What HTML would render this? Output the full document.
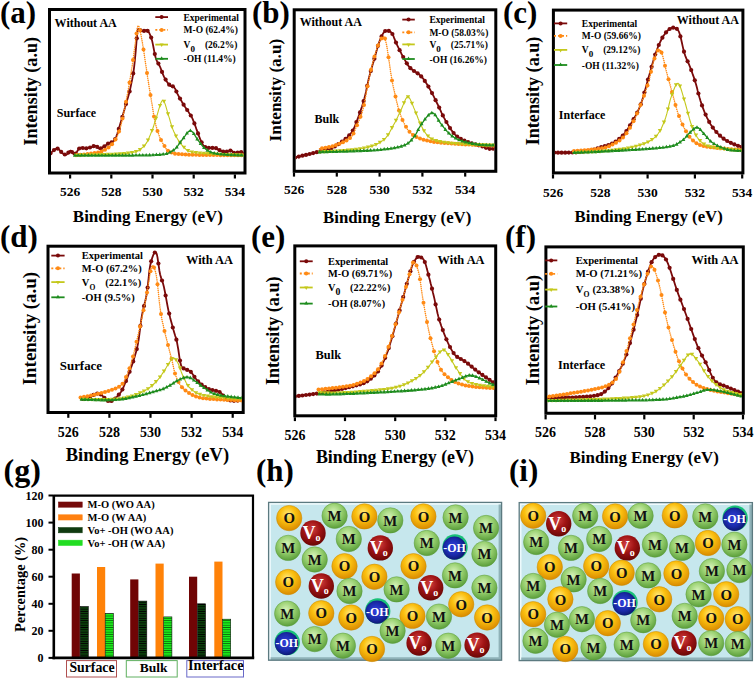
<!DOCTYPE html><html><head><meta charset="utf-8"><style>html,body{margin:0;padding:0;background:#fff;overflow:hidden}svg{display:block}</style></head><body><svg width="754" height="678" viewBox="0 0 754 678">
<rect width="754" height="678" fill="#fff"/>
<defs>
<clipPath id="ca"><rect x="51" y="11" width="192.5" height="160.5"/></clipPath>
<clipPath id="cb"><rect x="295.7" y="11.3" width="198.6" height="158.5"/></clipPath>
<clipPath id="cc"><rect x="554.9" y="11.6" width="186.5" height="159.8"/></clipPath>
<clipPath id="cd"><rect x="49.5" y="247.7" width="192.2" height="163.3"/></clipPath>
<clipPath id="ce"><rect x="296.3" y="247.4" width="197.9" height="166.9"/></clipPath>
<clipPath id="cf"><rect x="547.4" y="248.4" width="194.4" height="163.4"/></clipPath>
<pattern id="hatchD" width="4" height="2.3" patternUnits="userSpaceOnUse"><rect width="4" height="2.3" fill="#0c420c"/><rect y="1.5" width="4" height="0.8" fill="#000"/></pattern>
<pattern id="hatchL" width="4" height="2.3" patternUnits="userSpaceOnUse"><rect width="4" height="2.3" fill="#1cf01c"/><rect y="1.5" width="4" height="0.8" fill="#0a6a0a"/></pattern>
<radialGradient id="gO" cx="0.45" cy="0.35" r="0.65"><stop offset="0" stop-color="#ffe97a"/><stop offset="0.45" stop-color="#fbc010"/><stop offset="1" stop-color="#d98a00"/></radialGradient>
<radialGradient id="gM" cx="0.45" cy="0.35" r="0.65"><stop offset="0" stop-color="#d6f2b8"/><stop offset="0.5" stop-color="#98d070"/><stop offset="1" stop-color="#5a9e3a"/></radialGradient>
<radialGradient id="gV" cx="0.45" cy="0.35" r="0.65"><stop offset="0" stop-color="#d04040"/><stop offset="0.5" stop-color="#a01414"/><stop offset="1" stop-color="#6a0606"/></radialGradient>
<radialGradient id="gH" cx="0.45" cy="0.45" r="0.6"><stop offset="0" stop-color="#3040e0"/><stop offset="0.6" stop-color="#1a2aa8"/><stop offset="1" stop-color="#0a1466"/></radialGradient>
</defs>
<rect x="49.5" y="9.5" width="195.5" height="163.5" fill="none" stroke="#000" stroke-width="3"/>
<line x1="70.1" y1="174.5" x2="70.1" y2="178.5" stroke="#000" stroke-width="2.2"/>
<text x="70.1" y="196.4" font-family="Liberation Serif" font-weight="bold" font-size="13.5" text-anchor="middle" >526</text>
<line x1="111.3" y1="174.5" x2="111.3" y2="178.5" stroke="#000" stroke-width="2.2"/>
<text x="111.3" y="196.4" font-family="Liberation Serif" font-weight="bold" font-size="13.5" text-anchor="middle" >528</text>
<line x1="152.5" y1="174.5" x2="152.5" y2="178.5" stroke="#000" stroke-width="2.2"/>
<text x="152.5" y="196.4" font-family="Liberation Serif" font-weight="bold" font-size="13.5" text-anchor="middle" >530</text>
<line x1="193.7" y1="174.5" x2="193.7" y2="178.5" stroke="#000" stroke-width="2.2"/>
<text x="193.7" y="196.4" font-family="Liberation Serif" font-weight="bold" font-size="13.5" text-anchor="middle" >532</text>
<line x1="234.9" y1="174.5" x2="234.9" y2="178.5" stroke="#000" stroke-width="2.2"/>
<text x="234.9" y="196.4" font-family="Liberation Serif" font-weight="bold" font-size="13.5" text-anchor="middle" >534</text>
<text x="147.9" y="221.5" font-family="Liberation Serif" font-weight="bold" font-size="17" text-anchor="middle" >Binding Energy (eV)</text>
<text transform="translate(37.0,91.3) rotate(-90)" font-family="Liberation Serif" font-weight="bold" font-size="18.1" text-anchor="middle">Intensity (a.u)</text>
<text x="0" y="22.5" font-family="Liberation Serif" font-weight="bold" font-size="31" text-anchor="start" >(a)</text>
<text x="54.6" y="27.2" font-family="Liberation Serif" font-weight="bold" font-size="12" text-anchor="start" >Without AA</text>
<text x="56.75" y="117.4" font-family="Liberation Serif" font-weight="bold" font-size="12" text-anchor="start" >Surface</text>
<g clip-path="url(#ca)"><path d="M48.0,155.4 L48.4,155.0 L49.0,154.5 L49.7,153.8 L50.4,153.2 L51.2,152.5 L52.0,151.9 L52.8,151.2 L53.6,150.5 L54.5,149.7 L55.5,149.0 L56.4,148.6 L57.3,148.5 L58.2,148.8 L59.1,149.6 L60.0,150.6 L60.9,151.6 L61.8,152.5 L62.6,153.2 L63.3,153.7 L64.0,154.1 L64.7,154.4 L65.3,154.6 L65.9,154.7 L66.6,154.6 L67.2,154.1 L67.9,153.3 L68.6,152.4 L69.2,151.5 L69.9,150.8 L70.5,150.6 L71.2,150.9 L71.8,151.7 L72.5,152.7 L73.1,153.7 L73.8,154.4 L74.5,154.6 L75.3,154.0 L76.2,152.9 L77.1,151.5 L78.0,150.0 L78.9,148.7 L79.8,147.9 L80.7,147.6 L81.6,147.6 L82.5,147.8 L83.4,148.1 L84.3,148.4 L85.1,148.5 L86.0,148.4 L86.9,148.2 L87.8,148.1 L88.7,147.9 L89.6,147.6 L90.4,147.4 L91.3,147.1 L92.2,146.7 L93.2,146.4 L94.1,146.0 L94.9,145.8 L95.7,145.8 L96.5,146.1 L97.1,146.8 L97.7,147.5 L98.3,148.2 L99.0,148.7 L100.0,148.7 L101.2,148.3 L102.6,147.5 L104.1,146.5 L105.6,145.4 L107.1,144.3 L108.5,143.4 L109.7,142.8 L110.8,142.5 L111.9,142.2 L113.0,141.7 L114.0,140.7 L115.1,139.2 L116.2,136.8 L117.3,133.7 L118.4,130.2 L119.5,126.5 L120.5,123.0 L121.5,119.8 L122.3,117.1 L123.0,114.5 L123.7,112.1 L124.4,109.8 L125.0,107.4 L125.7,105.0 L126.4,102.6 L127.1,100.2 L127.8,97.9 L128.5,95.5 L129.3,92.8 L130.0,89.8 L130.7,86.6 L131.4,83.1 L132.2,79.4 L132.9,75.4 L133.6,71.1 L134.2,66.5 L134.8,61.0 L135.4,54.6 L136.0,47.9 L136.5,41.5 L137.0,36.0 L137.4,32.0 L137.7,29.7 L137.8,28.7 L137.9,28.6 L137.9,28.9 L138.1,29.4 L138.5,29.6 L139.0,29.7 L139.6,30.0 L140.4,30.3 L141.1,30.7 L141.9,31.0 L142.7,31.2 L143.4,31.1 L144.2,30.8 L144.9,30.4 L145.7,30.1 L146.5,30.1 L147.2,30.4 L147.9,31.1 L148.6,32.0 L149.3,33.1 L150.0,34.6 L150.7,36.3 L151.4,38.4 L152.2,41.1 L152.9,44.4 L153.6,48.0 L154.3,51.7 L155.0,55.0 L155.7,57.7 L156.4,59.8 L157.1,61.4 L157.8,62.7 L158.5,63.8 L159.2,65.1 L159.9,66.5 L160.6,68.2 L161.3,70.0 L162.0,71.8 L162.6,73.7 L163.4,75.4 L164.2,77.1 L165.1,78.7 L166.1,80.4 L167.1,81.9 L168.1,83.4 L169.1,84.6 L170.0,85.6 L170.8,86.2 L171.5,86.3 L172.1,86.3 L172.7,86.3 L173.4,86.4 L174.0,86.9 L174.6,87.9 L175.3,89.0 L175.9,90.4 L176.5,91.9 L177.2,93.4 L178.0,94.9 L178.8,96.4 L179.6,97.9 L180.5,99.5 L181.5,101.1 L182.4,102.7 L183.3,104.2 L184.2,105.6 L185.1,107.0 L186.0,108.3 L186.9,109.6 L187.8,110.9 L188.6,112.1 L189.3,113.3 L190.0,114.3 L190.7,115.3 L191.3,116.3 L191.9,117.4 L192.6,118.8 L193.2,120.3 L193.9,122.0 L194.6,123.8 L195.2,125.7 L195.9,127.5 L196.5,129.4 L197.2,131.2 L197.9,133.0 L198.5,134.9 L199.2,136.7 L199.9,138.4 L200.5,140.0 L201.2,141.4 L201.8,142.7 L202.4,143.9 L203.1,144.9 L203.8,145.9 L204.5,146.6 L205.3,147.1 L206.2,147.5 L207.1,147.7 L208.0,147.8 L208.9,147.8 L209.8,147.9 L210.7,148.0 L211.6,147.9 L212.5,147.8 L213.3,147.8 L214.2,147.8 L215.1,147.9 L216.0,148.2 L216.9,148.7 L217.8,149.2 L218.6,149.7 L219.5,150.2 L220.4,150.6 L221.3,150.9 L222.2,151.2 L223.1,151.5 L224.0,151.7 L224.8,151.9 L225.7,151.9 L226.6,151.8 L227.5,151.5 L228.5,151.2 L229.4,150.8 L230.2,150.6 L231.0,150.6 L231.7,150.8 L232.4,151.3 L233.0,151.9 L233.6,152.5 L234.3,153.0 L235.0,153.2 L235.8,153.2 L236.6,152.9 L237.5,152.6 L238.4,152.2 L239.3,151.9 L240.3,151.9 L241.4,152.2 L242.7,152.6 L244.0,153.2 L245.2,153.7 L246.2,154.2 L246.9,154.6" fill="none" stroke="#7a0a0a" stroke-width="1.8" stroke-linejoin="round"/><circle cx="50.4" cy="153.2" r="2.1" fill="#7a0a0a"/><circle cx="54.0" cy="150.1" r="2.1" fill="#7a0a0a"/><circle cx="57.6" cy="148.6" r="2.1" fill="#7a0a0a"/><circle cx="61.2" cy="151.9" r="2.1" fill="#7a0a0a"/><circle cx="64.8" cy="154.5" r="2.1" fill="#7a0a0a"/><circle cx="68.4" cy="152.6" r="2.1" fill="#7a0a0a"/><circle cx="72.0" cy="152.0" r="2.1" fill="#7a0a0a"/><circle cx="75.6" cy="153.6" r="2.1" fill="#7a0a0a"/><circle cx="79.2" cy="148.5" r="2.1" fill="#7a0a0a"/><circle cx="82.8" cy="148.0" r="2.1" fill="#7a0a0a"/><circle cx="86.4" cy="148.3" r="2.1" fill="#7a0a0a"/><circle cx="90.0" cy="147.5" r="2.1" fill="#7a0a0a"/><circle cx="93.6" cy="146.2" r="2.1" fill="#7a0a0a"/><circle cx="97.2" cy="146.9" r="2.1" fill="#7a0a0a"/><circle cx="100.8" cy="148.4" r="2.1" fill="#7a0a0a"/><circle cx="104.4" cy="146.3" r="2.1" fill="#7a0a0a"/><circle cx="108.0" cy="143.7" r="2.1" fill="#7a0a0a"/><circle cx="111.6" cy="142.3" r="2.1" fill="#7a0a0a"/><circle cx="115.2" cy="139.0" r="2.1" fill="#7a0a0a"/><circle cx="118.8" cy="128.9" r="2.1" fill="#7a0a0a"/><circle cx="122.4" cy="116.8" r="2.1" fill="#7a0a0a"/><circle cx="126.0" cy="104.0" r="2.1" fill="#7a0a0a"/><circle cx="129.6" cy="91.4" r="2.1" fill="#7a0a0a"/><circle cx="133.2" cy="73.4" r="2.1" fill="#7a0a0a"/><circle cx="136.8" cy="38.3" r="2.1" fill="#7a0a0a"/><circle cx="140.4" cy="30.3" r="2.1" fill="#7a0a0a"/><circle cx="144.0" cy="30.9" r="2.1" fill="#7a0a0a"/><circle cx="147.6" cy="30.8" r="2.1" fill="#7a0a0a"/><circle cx="151.2" cy="37.6" r="2.1" fill="#7a0a0a"/><circle cx="154.8" cy="54.1" r="2.1" fill="#7a0a0a"/><circle cx="158.4" cy="63.6" r="2.1" fill="#7a0a0a"/><circle cx="162.0" cy="71.9" r="2.1" fill="#7a0a0a"/><circle cx="165.6" cy="79.6" r="2.1" fill="#7a0a0a"/><circle cx="169.2" cy="84.7" r="2.1" fill="#7a0a0a"/><circle cx="172.8" cy="86.3" r="2.1" fill="#7a0a0a"/><circle cx="176.4" cy="91.5" r="2.1" fill="#7a0a0a"/><circle cx="180.0" cy="98.6" r="2.1" fill="#7a0a0a"/><circle cx="183.6" cy="104.7" r="2.1" fill="#7a0a0a"/><circle cx="187.2" cy="110.0" r="2.1" fill="#7a0a0a"/><circle cx="190.8" cy="115.5" r="2.1" fill="#7a0a0a"/><circle cx="194.4" cy="123.4" r="2.1" fill="#7a0a0a"/><circle cx="198.0" cy="133.4" r="2.1" fill="#7a0a0a"/><circle cx="201.6" cy="142.3" r="2.1" fill="#7a0a0a"/><circle cx="205.2" cy="147.1" r="2.1" fill="#7a0a0a"/><circle cx="208.8" cy="147.8" r="2.1" fill="#7a0a0a"/><circle cx="212.4" cy="147.9" r="2.1" fill="#7a0a0a"/><circle cx="216.0" cy="148.2" r="2.1" fill="#7a0a0a"/><circle cx="219.6" cy="150.2" r="2.1" fill="#7a0a0a"/><circle cx="223.2" cy="151.5" r="2.1" fill="#7a0a0a"/><circle cx="226.8" cy="151.7" r="2.1" fill="#7a0a0a"/><circle cx="230.4" cy="150.6" r="2.1" fill="#7a0a0a"/><circle cx="234.0" cy="152.8" r="2.1" fill="#7a0a0a"/><circle cx="237.6" cy="152.5" r="2.1" fill="#7a0a0a"/><circle cx="241.2" cy="152.1" r="2.1" fill="#7a0a0a"/><circle cx="244.8" cy="153.6" r="2.1" fill="#7a0a0a"/></g>
<g clip-path="url(#ca)"><path d="M74.5,155.4 L77.4,155.0 L81.6,154.7 L86.5,154.2 L91.5,153.6 L96.2,152.8 L100.0,151.9 L102.9,150.8 L105.4,149.6 L107.5,148.2 L109.4,146.8 L111.1,145.1 L112.7,143.4 L114.2,141.6 L115.5,139.7 L116.6,137.6 L117.5,135.4 L118.5,133.1 L119.4,130.7 L120.2,128.1 L120.9,125.4 L121.6,122.6 L122.3,119.7 L122.9,116.6 L123.6,113.4 L124.3,110.2 L125.0,106.7 L125.7,103.2 L126.4,99.6 L127.1,95.8 L127.8,92.0 L128.6,87.9 L129.3,83.7 L130.0,79.4 L130.7,75.0 L131.4,70.7 L132.1,66.5 L132.7,62.4 L133.2,58.3 L133.8,54.2 L134.3,50.2 L134.8,46.4 L135.3,42.9 L135.8,39.3 L136.2,35.6 L136.7,32.0 L137.2,28.9 L137.7,26.7 L138.2,25.6 L138.7,25.9 L139.3,27.3 L139.9,29.6 L140.5,32.4 L141.1,35.4 L141.6,38.4 L142.2,41.5 L142.8,45.0 L143.4,48.7 L144.0,52.6 L144.5,56.4 L145.1,60.1 L145.6,63.7 L146.2,67.3 L146.7,70.9 L147.2,74.4 L147.7,77.9 L148.3,81.4 L148.8,84.7 L149.3,88.0 L149.9,91.2 L150.4,94.4 L150.9,97.5 L151.4,100.7 L152.0,104.0 L152.5,107.2 L153.0,110.5 L153.5,113.8 L154.0,116.9 L154.6,119.8 L155.3,122.6 L155.9,125.3 L156.6,127.9 L157.3,130.4 L158.1,132.7 L158.9,134.9 L159.7,137.0 L160.5,139.0 L161.4,140.8 L162.3,142.5 L163.3,144.1 L164.2,145.5 L165.0,146.9 L165.7,148.1 L166.4,149.2 L167.3,150.2 L168.5,151.1 L170.0,151.9 L171.6,152.6 L172.9,153.1 L174.5,153.6 L176.9,154.0 L180.6,154.3 L185.9,154.6 L194.2,154.8 L205.2,155.0 L217.4,155.1 L229.5,155.2 L239.8,155.3 L246.9,155.4" fill="none" stroke="#ff8a14" stroke-width="1.5" stroke-dasharray="0.1 2.0" stroke-linecap="round"/><circle cx="77.0" cy="155.1" r="2.0" fill="#ff8a14"/><circle cx="80.5" cy="154.8" r="2.0" fill="#ff8a14"/><circle cx="84.0" cy="154.4" r="2.0" fill="#ff8a14"/><circle cx="87.5" cy="154.0" r="2.0" fill="#ff8a14"/><circle cx="91.0" cy="153.6" r="2.0" fill="#ff8a14"/><circle cx="94.5" cy="153.1" r="2.0" fill="#ff8a14"/><circle cx="98.0" cy="152.4" r="2.0" fill="#ff8a14"/><circle cx="101.5" cy="151.4" r="2.0" fill="#ff8a14"/><circle cx="105.0" cy="149.8" r="2.0" fill="#ff8a14"/><circle cx="108.5" cy="147.5" r="2.0" fill="#ff8a14"/><circle cx="112.0" cy="144.2" r="2.0" fill="#ff8a14"/><circle cx="115.5" cy="139.6" r="2.0" fill="#ff8a14"/><circle cx="119.0" cy="131.6" r="2.0" fill="#ff8a14"/><circle cx="122.5" cy="118.6" r="2.0" fill="#ff8a14"/><circle cx="126.0" cy="101.8" r="2.0" fill="#ff8a14"/><circle cx="129.5" cy="82.5" r="2.0" fill="#ff8a14"/><circle cx="133.0" cy="60.0" r="2.0" fill="#ff8a14"/><circle cx="136.5" cy="33.6" r="2.0" fill="#ff8a14"/><circle cx="140.0" cy="30.2" r="2.0" fill="#ff8a14"/><circle cx="143.5" cy="49.6" r="2.0" fill="#ff8a14"/><circle cx="147.0" cy="73.0" r="2.0" fill="#ff8a14"/><circle cx="150.5" cy="95.0" r="2.0" fill="#ff8a14"/><circle cx="154.0" cy="116.6" r="2.0" fill="#ff8a14"/><circle cx="157.5" cy="130.9" r="2.0" fill="#ff8a14"/><circle cx="161.0" cy="139.9" r="2.0" fill="#ff8a14"/><circle cx="164.5" cy="146.1" r="2.0" fill="#ff8a14"/><circle cx="168.0" cy="150.8" r="2.0" fill="#ff8a14"/><circle cx="171.5" cy="152.6" r="2.0" fill="#ff8a14"/><circle cx="175.0" cy="153.7" r="2.0" fill="#ff8a14"/><circle cx="178.5" cy="154.1" r="2.0" fill="#ff8a14"/><circle cx="182.0" cy="154.3" r="2.0" fill="#ff8a14"/><circle cx="185.5" cy="154.5" r="2.0" fill="#ff8a14"/><circle cx="189.0" cy="154.7" r="2.0" fill="#ff8a14"/><circle cx="192.5" cy="154.8" r="2.0" fill="#ff8a14"/><circle cx="196.0" cy="154.8" r="2.0" fill="#ff8a14"/><circle cx="199.5" cy="154.9" r="2.0" fill="#ff8a14"/><circle cx="203.0" cy="155.0" r="2.0" fill="#ff8a14"/><circle cx="206.5" cy="155.0" r="2.0" fill="#ff8a14"/><circle cx="210.0" cy="155.0" r="2.0" fill="#ff8a14"/><circle cx="213.5" cy="155.1" r="2.0" fill="#ff8a14"/><circle cx="217.0" cy="155.1" r="2.0" fill="#ff8a14"/><circle cx="220.5" cy="155.2" r="2.0" fill="#ff8a14"/><circle cx="224.0" cy="155.2" r="2.0" fill="#ff8a14"/><circle cx="227.5" cy="155.2" r="2.0" fill="#ff8a14"/><circle cx="231.0" cy="155.2" r="2.0" fill="#ff8a14"/><circle cx="234.5" cy="155.3" r="2.0" fill="#ff8a14"/><circle cx="238.0" cy="155.3" r="2.0" fill="#ff8a14"/><circle cx="241.5" cy="155.3" r="2.0" fill="#ff8a14"/><circle cx="245.0" cy="155.3" r="2.0" fill="#ff8a14"/></g>
<g clip-path="url(#ca)"><path d="M74.5,155.4 L80.7,155.2 L89.7,155.0 L100.1,154.7 L110.7,154.4 L120.3,153.9 L127.6,153.2 L132.5,152.5 L135.9,151.7 L138.4,150.7 L140.2,149.6 L141.7,148.2 L143.5,146.6 L145.3,144.6 L146.8,142.4 L148.1,139.9 L149.3,137.3 L150.4,134.6 L151.4,132.0 L152.5,129.4 L153.4,126.8 L154.2,124.1 L155.0,121.5 L155.9,118.8 L156.8,116.1 L157.7,113.1 L158.7,109.6 L159.8,106.2 L160.8,103.1 L161.8,101.0 L162.9,100.2 L163.8,101.0 L164.8,103.1 L165.8,106.2 L166.8,109.6 L167.8,113.1 L168.7,116.1 L169.6,118.8 L170.3,121.5 L171.1,124.1 L172.0,126.8 L172.9,129.4 L174.0,132.0 L175.3,134.6 L176.6,137.3 L178.1,139.9 L179.7,142.4 L181.5,144.7 L183.3,146.6 L184.8,148.2 L186.0,149.4 L187.3,150.4 L189.2,151.2 L192.1,152.0 L196.5,152.7 L203.4,153.4 L212.5,153.9 L222.6,154.4 L232.5,154.8 L241.0,155.1 L246.9,155.4" fill="none" stroke="#c4c81c" stroke-width="1.1"/><path d="M73.8,153.7 L78.2,153.7 L76.0,157.5Z" fill="#c4c81c"/><path d="M77.8,153.6 L82.2,153.6 L80.0,157.4Z" fill="#c4c81c"/><path d="M81.8,153.5 L86.2,153.5 L84.0,157.3Z" fill="#c4c81c"/><path d="M85.8,153.4 L90.2,153.4 L88.0,157.2Z" fill="#c4c81c"/><path d="M89.8,153.3 L94.2,153.3 L92.0,157.1Z" fill="#c4c81c"/><path d="M93.8,153.2 L98.2,153.2 L96.0,157.0Z" fill="#c4c81c"/><path d="M97.8,153.1 L102.2,153.1 L100.0,156.9Z" fill="#c4c81c"/><path d="M101.8,153.0 L106.2,153.0 L104.0,156.8Z" fill="#c4c81c"/><path d="M105.8,152.8 L110.2,152.8 L108.0,156.6Z" fill="#c4c81c"/><path d="M109.8,152.7 L114.2,152.7 L112.0,156.5Z" fill="#c4c81c"/><path d="M113.8,152.5 L118.2,152.5 L116.0,156.3Z" fill="#c4c81c"/><path d="M117.8,152.3 L122.2,152.3 L120.0,156.1Z" fill="#c4c81c"/><path d="M121.8,151.9 L126.2,151.9 L124.0,155.7Z" fill="#c4c81c"/><path d="M125.8,151.6 L130.2,151.6 L128.0,155.4Z" fill="#c4c81c"/><path d="M129.8,151.0 L134.2,151.0 L132.0,154.8Z" fill="#c4c81c"/><path d="M133.8,150.0 L138.2,150.0 L136.0,153.8Z" fill="#c4c81c"/><path d="M137.8,148.1 L142.2,148.1 L140.0,151.9Z" fill="#c4c81c"/><path d="M141.8,144.5 L146.2,144.5 L144.0,148.3Z" fill="#c4c81c"/><path d="M145.8,138.5 L150.2,138.5 L148.0,142.3Z" fill="#c4c81c"/><path d="M149.8,129.0 L154.2,129.0 L152.0,132.8Z" fill="#c4c81c"/><path d="M153.8,116.7 L158.2,116.7 L156.0,120.5Z" fill="#c4c81c"/><path d="M157.8,103.9 L162.2,103.9 L160.0,107.7Z" fill="#c4c81c"/><path d="M161.8,99.7 L166.2,99.7 L164.0,103.5Z" fill="#c4c81c"/><path d="M165.8,112.3 L170.2,112.3 L168.0,116.1Z" fill="#c4c81c"/><path d="M169.8,125.3 L174.2,125.3 L172.0,129.1Z" fill="#c4c81c"/><path d="M173.8,134.4 L178.2,134.4 L176.0,138.2Z" fill="#c4c81c"/><path d="M177.8,141.2 L182.2,141.2 L180.0,145.0Z" fill="#c4c81c"/><path d="M181.8,145.7 L186.2,145.7 L184.0,149.5Z" fill="#c4c81c"/><path d="M185.8,149.1 L190.2,149.1 L188.0,152.9Z" fill="#c4c81c"/><path d="M189.8,150.4 L194.2,150.4 L192.0,154.2Z" fill="#c4c81c"/><path d="M193.8,151.0 L198.2,151.0 L196.0,154.8Z" fill="#c4c81c"/><path d="M197.8,151.4 L202.2,151.4 L200.0,155.2Z" fill="#c4c81c"/><path d="M201.8,151.8 L206.2,151.8 L204.0,155.6Z" fill="#c4c81c"/><path d="M205.8,152.1 L210.2,152.1 L208.0,155.9Z" fill="#c4c81c"/><path d="M209.8,152.3 L214.2,152.3 L212.0,156.1Z" fill="#c4c81c"/><path d="M213.8,152.5 L218.2,152.5 L216.0,156.3Z" fill="#c4c81c"/><path d="M217.8,152.7 L222.2,152.7 L220.0,156.5Z" fill="#c4c81c"/><path d="M221.8,152.9 L226.2,152.9 L224.0,156.7Z" fill="#c4c81c"/><path d="M225.8,153.0 L230.2,153.0 L228.0,156.8Z" fill="#c4c81c"/><path d="M229.8,153.2 L234.2,153.2 L232.0,157.0Z" fill="#c4c81c"/><path d="M233.8,153.3 L238.2,153.3 L236.0,157.1Z" fill="#c4c81c"/><path d="M237.8,153.5 L242.2,153.5 L240.0,157.3Z" fill="#c4c81c"/><path d="M241.8,153.6 L246.2,153.6 L244.0,157.4Z" fill="#c4c81c"/></g>
<g clip-path="url(#ca)"><path d="M74.5,155.4 L83.9,155.3 L97.4,155.4 L113.2,155.4 L129.1,155.3 L143.4,155.1 L154.1,154.8 L160.8,154.4 L165.2,153.9 L167.8,153.3 L169.4,152.6 L170.8,151.7 L172.7,150.6 L174.8,149.2 L176.5,147.5 L177.9,145.6 L179.3,143.6 L180.6,141.7 L182.0,140.0 L183.4,138.1 L184.9,136.1 L186.3,134.1 L187.7,132.4 L189.1,131.1 L190.4,130.7 L191.7,131.2 L193.0,132.4 L194.2,134.2 L195.4,136.2 L196.6,138.2 L197.9,140.0 L199.1,141.6 L200.3,143.2 L201.6,144.9 L202.9,146.5 L204.3,148.0 L205.8,149.3 L207.4,150.3 L208.9,151.2 L210.5,152.0 L212.4,152.7 L214.7,153.2 L217.8,153.8 L222.0,154.2 L227.3,154.6 L233.1,154.8 L238.7,155.1 L243.6,155.2 L246.9,155.4" fill="none" stroke="#1e8c1e" stroke-width="1.3"/><path d="M72.9,156.8 L76.7,156.8 L74.8,153.2Z" fill="#1e8c1e"/><path d="M76.3,156.8 L80.1,156.8 L78.2,153.2Z" fill="#1e8c1e"/><path d="M79.7,156.7 L83.5,156.7 L81.6,153.1Z" fill="#1e8c1e"/><path d="M83.1,156.7 L86.9,156.7 L85.0,153.1Z" fill="#1e8c1e"/><path d="M86.5,156.7 L90.3,156.7 L88.4,153.1Z" fill="#1e8c1e"/><path d="M89.9,156.8 L93.7,156.8 L91.8,153.2Z" fill="#1e8c1e"/><path d="M93.3,156.8 L97.1,156.8 L95.2,153.2Z" fill="#1e8c1e"/><path d="M96.7,156.8 L100.5,156.8 L98.6,153.2Z" fill="#1e8c1e"/><path d="M100.1,156.8 L103.9,156.8 L102.0,153.2Z" fill="#1e8c1e"/><path d="M103.5,156.8 L107.3,156.8 L105.4,153.2Z" fill="#1e8c1e"/><path d="M106.9,156.8 L110.7,156.8 L108.8,153.2Z" fill="#1e8c1e"/><path d="M110.3,156.8 L114.1,156.8 L112.2,153.2Z" fill="#1e8c1e"/><path d="M113.7,156.7 L117.5,156.7 L115.6,153.1Z" fill="#1e8c1e"/><path d="M117.1,156.7 L120.9,156.7 L119.0,153.1Z" fill="#1e8c1e"/><path d="M120.5,156.7 L124.3,156.7 L122.4,153.1Z" fill="#1e8c1e"/><path d="M123.9,156.7 L127.7,156.7 L125.8,153.1Z" fill="#1e8c1e"/><path d="M127.3,156.7 L131.1,156.7 L129.2,153.1Z" fill="#1e8c1e"/><path d="M130.7,156.7 L134.5,156.7 L132.6,153.1Z" fill="#1e8c1e"/><path d="M134.1,156.6 L137.9,156.6 L136.0,153.0Z" fill="#1e8c1e"/><path d="M137.5,156.6 L141.3,156.6 L139.4,153.0Z" fill="#1e8c1e"/><path d="M140.9,156.5 L144.7,156.5 L142.8,152.9Z" fill="#1e8c1e"/><path d="M144.3,156.5 L148.1,156.5 L146.2,152.9Z" fill="#1e8c1e"/><path d="M147.7,156.4 L151.5,156.4 L149.6,152.8Z" fill="#1e8c1e"/><path d="M151.1,156.3 L154.9,156.3 L153.0,152.7Z" fill="#1e8c1e"/><path d="M154.5,156.1 L158.3,156.1 L156.4,152.5Z" fill="#1e8c1e"/><path d="M157.9,155.9 L161.7,155.9 L159.8,152.3Z" fill="#1e8c1e"/><path d="M161.3,155.5 L165.1,155.5 L163.2,151.9Z" fill="#1e8c1e"/><path d="M164.7,155.0 L168.5,155.0 L166.6,151.4Z" fill="#1e8c1e"/><path d="M168.1,153.6 L171.9,153.6 L170.0,150.0Z" fill="#1e8c1e"/><path d="M171.5,151.5 L175.3,151.5 L173.4,147.9Z" fill="#1e8c1e"/><path d="M174.9,148.5 L178.7,148.5 L176.8,144.9Z" fill="#1e8c1e"/><path d="M178.3,143.7 L182.1,143.7 L180.2,140.1Z" fill="#1e8c1e"/><path d="M181.7,139.3 L185.5,139.3 L183.6,135.7Z" fill="#1e8c1e"/><path d="M185.1,134.6 L188.9,134.6 L187.0,131.0Z" fill="#1e8c1e"/><path d="M188.5,132.1 L192.3,132.1 L190.4,128.5Z" fill="#1e8c1e"/><path d="M191.9,135.0 L195.7,135.0 L193.8,131.4Z" fill="#1e8c1e"/><path d="M195.3,140.4 L199.1,140.4 L197.2,136.8Z" fill="#1e8c1e"/><path d="M198.7,145.0 L202.5,145.0 L200.6,141.4Z" fill="#1e8c1e"/><path d="M202.1,149.1 L205.9,149.1 L204.0,145.5Z" fill="#1e8c1e"/><path d="M205.5,151.7 L209.3,151.7 L207.4,148.1Z" fill="#1e8c1e"/><path d="M208.9,153.5 L212.7,153.5 L210.8,149.9Z" fill="#1e8c1e"/><path d="M212.3,154.5 L216.1,154.5 L214.2,150.9Z" fill="#1e8c1e"/><path d="M215.7,155.1 L219.5,155.1 L217.6,151.5Z" fill="#1e8c1e"/><path d="M219.1,155.5 L222.9,155.5 L221.0,151.9Z" fill="#1e8c1e"/><path d="M222.5,155.8 L226.3,155.8 L224.4,152.2Z" fill="#1e8c1e"/><path d="M225.9,156.0 L229.7,156.0 L227.8,152.4Z" fill="#1e8c1e"/><path d="M229.3,156.2 L233.1,156.2 L231.2,152.6Z" fill="#1e8c1e"/><path d="M232.7,156.3 L236.5,156.3 L234.6,152.7Z" fill="#1e8c1e"/><path d="M236.1,156.4 L239.9,156.4 L238.0,152.8Z" fill="#1e8c1e"/><path d="M239.5,156.5 L243.3,156.5 L241.4,152.9Z" fill="#1e8c1e"/><path d="M242.9,156.7 L246.7,156.7 L244.8,153.1Z" fill="#1e8c1e"/></g>
<line x1="155.3" y1="17.1" x2="168" y2="17.1" stroke="#7a0a0a" stroke-width="1.8"/><circle cx="161.65" cy="17.1" r="2" fill="#7a0a0a"/>
<text x="183.5" y="20.6" font-family="Liberation Serif" font-weight="bold" font-size="9.5">Experimental</text>
<line x1="155.3" y1="29.9" x2="168" y2="29.9" stroke="#ff8a14" stroke-width="1.8" stroke-dasharray="2 2"/><circle cx="161.65" cy="29.9" r="2" fill="#ff8a14"/>
<text x="183.5" y="33.4" font-family="Liberation Serif" font-weight="bold" font-size="9.5">M-O (62.4%)</text>
<line x1="155.3" y1="44.6" x2="168" y2="44.6" stroke="#c4c81c" stroke-width="1.8"/><path d="M159.65,43.6 L163.65,43.6 L161.65,47.1Z" fill="#c4c81c"/>
<text x="183.5" y="48.1" font-family="Liberation Serif" font-weight="bold" font-size="9.5">V<tspan font-size="9.025" dy="4">0</tspan><tspan dy="-4" x="204.9">(26.2%)</tspan></text>
<line x1="155.3" y1="58.8" x2="168" y2="58.8" stroke="#1e8c1e" stroke-width="1.8"/><path d="M159.65,59.8 L163.65,59.8 L161.65,56.3Z" fill="#1e8c1e"/>
<text x="183.5" y="62.3" font-family="Liberation Serif" font-weight="bold" font-size="9.5">-OH (11.4%)</text>
<rect x="294.2" y="9.8" width="201.60000000000002" height="161.5" fill="none" stroke="#000" stroke-width="3"/>
<line x1="294.0" y1="172.6" x2="294.0" y2="176.6" stroke="#000" stroke-width="2.2"/>
<text x="294.0" y="194.3" font-family="Liberation Serif" font-weight="bold" font-size="13.5" text-anchor="middle" >526</text>
<line x1="336.8" y1="172.6" x2="336.8" y2="176.6" stroke="#000" stroke-width="2.2"/>
<text x="336.8" y="194.3" font-family="Liberation Serif" font-weight="bold" font-size="13.5" text-anchor="middle" >528</text>
<line x1="379.6" y1="172.6" x2="379.6" y2="176.6" stroke="#000" stroke-width="2.2"/>
<text x="379.6" y="194.3" font-family="Liberation Serif" font-weight="bold" font-size="13.5" text-anchor="middle" >530</text>
<line x1="422.4" y1="172.6" x2="422.4" y2="176.6" stroke="#000" stroke-width="2.2"/>
<text x="422.4" y="194.3" font-family="Liberation Serif" font-weight="bold" font-size="13.5" text-anchor="middle" >532</text>
<line x1="465.2" y1="172.6" x2="465.2" y2="176.6" stroke="#000" stroke-width="2.2"/>
<text x="465.2" y="194.3" font-family="Liberation Serif" font-weight="bold" font-size="13.5" text-anchor="middle" >534</text>
<text x="397.2" y="222.6" font-family="Liberation Serif" font-weight="bold" font-size="16.8" text-anchor="middle" >Binding Energy (eV)</text>
<text transform="translate(281,90.2) rotate(-90)" font-family="Liberation Serif" font-weight="bold" font-size="17.1" text-anchor="middle">Intensity (a.u)</text>
<text x="252" y="22.5" font-family="Liberation Serif" font-weight="bold" font-size="31" text-anchor="start" >(b)</text>
<text x="299.7" y="25.9" font-family="Liberation Serif" font-weight="bold" font-size="12" text-anchor="start" >Without AA</text>
<text x="314.6" y="122.5" font-family="Liberation Serif" font-weight="bold" font-size="12" text-anchor="start" >Bulk</text>
<g clip-path="url(#cb)"><path d="M292.0,158.3 L293.1,158.1 L294.7,157.7 L296.5,157.2 L298.5,156.7 L300.7,156.2 L303.0,155.6 L305.5,155.0 L308.2,154.3 L311.1,153.6 L314.1,152.9 L316.9,152.2 L319.6,151.4 L322.0,150.9 L324.3,150.4 L326.5,149.9 L328.7,149.3 L331.0,148.5 L333.4,147.3 L336.1,145.7 L339.0,143.8 L342.1,141.6 L345.0,139.3 L347.7,136.9 L349.9,134.6 L351.7,132.4 L353.0,130.2 L354.1,128.0 L355.1,125.7 L356.0,123.1 L357.1,120.3 L358.3,117.1 L359.6,113.6 L360.8,110.0 L362.1,106.2 L363.2,102.4 L364.3,98.8 L365.2,95.1 L366.1,91.4 L366.8,87.7 L367.6,84.1 L368.3,80.6 L369.1,77.2 L369.9,74.2 L370.7,71.3 L371.5,68.5 L372.3,65.8 L373.1,63.1 L373.9,60.4 L374.7,57.6 L375.5,54.7 L376.3,51.8 L377.1,48.9 L377.8,46.3 L378.6,43.9 L379.4,41.6 L380.2,39.5 L381.0,37.6 L381.8,35.9 L382.6,34.4 L383.3,33.1 L384.0,32.2 L384.5,31.5 L385.1,31.0 L385.6,30.8 L386.2,30.7 L386.9,30.6 L387.6,30.7 L388.5,30.8 L389.3,31.0 L390.2,31.5 L391.0,32.2 L391.9,33.1 L392.6,34.4 L393.4,36.0 L394.1,37.9 L394.9,39.9 L395.7,41.9 L396.6,43.9 L397.5,45.8 L398.4,47.7 L399.4,49.7 L400.4,51.7 L401.4,53.7 L402.5,55.7 L403.6,57.8 L404.8,59.9 L406.0,62.0 L407.2,64.1 L408.5,65.9 L409.8,67.6 L411.1,68.9 L412.6,70.0 L414.0,71.0 L415.4,71.8 L416.8,72.7 L418.1,73.7 L419.2,74.6 L420.2,75.5 L421.1,76.3 L422.0,77.3 L423.0,78.4 L424.0,79.7 L425.1,81.3 L426.3,83.2 L427.5,85.1 L428.8,87.2 L430.0,89.4 L431.2,91.6 L432.4,93.8 L433.6,96.2 L434.8,98.6 L436.0,101.1 L437.2,103.5 L438.4,105.9 L439.5,108.3 L440.6,110.7 L441.7,113.1 L442.9,115.5 L444.1,117.9 L445.4,120.3 L446.8,122.7 L448.3,125.3 L449.9,127.9 L451.6,130.4 L453.3,132.6 L455.0,134.6 L456.9,136.3 L458.8,137.7 L460.8,138.9 L462.8,139.9 L464.9,140.9 L466.9,141.8 L468.9,142.6 L470.9,143.3 L473.0,143.8 L475.0,144.3 L477.0,144.8 L479.0,145.4 L481.1,146.0 L483.2,146.8 L485.3,147.6 L487.3,148.2 L489.2,148.7 L490.9,149.0 L492.4,148.9 L493.9,148.5 L495.2,147.9 L496.4,147.4 L497.3,146.8 L498.1,146.5" fill="none" stroke="#7a0a0a" stroke-width="1.8" stroke-linejoin="round"/><circle cx="295.2" cy="157.5" r="2.1" fill="#7a0a0a"/><circle cx="298.8" cy="156.6" r="2.1" fill="#7a0a0a"/><circle cx="302.4" cy="155.7" r="2.1" fill="#7a0a0a"/><circle cx="306.0" cy="154.9" r="2.1" fill="#7a0a0a"/><circle cx="309.6" cy="154.0" r="2.1" fill="#7a0a0a"/><circle cx="313.2" cy="153.1" r="2.1" fill="#7a0a0a"/><circle cx="316.8" cy="152.2" r="2.1" fill="#7a0a0a"/><circle cx="320.4" cy="151.3" r="2.1" fill="#7a0a0a"/><circle cx="324.0" cy="150.4" r="2.1" fill="#7a0a0a"/><circle cx="327.6" cy="149.6" r="2.1" fill="#7a0a0a"/><circle cx="331.2" cy="148.4" r="2.1" fill="#7a0a0a"/><circle cx="334.8" cy="146.5" r="2.1" fill="#7a0a0a"/><circle cx="338.4" cy="144.2" r="2.1" fill="#7a0a0a"/><circle cx="342.0" cy="141.7" r="2.1" fill="#7a0a0a"/><circle cx="345.6" cy="138.8" r="2.1" fill="#7a0a0a"/><circle cx="349.2" cy="135.4" r="2.1" fill="#7a0a0a"/><circle cx="352.8" cy="130.6" r="2.1" fill="#7a0a0a"/><circle cx="356.4" cy="122.1" r="2.1" fill="#7a0a0a"/><circle cx="360.0" cy="112.4" r="2.1" fill="#7a0a0a"/><circle cx="363.6" cy="101.1" r="2.1" fill="#7a0a0a"/><circle cx="367.2" cy="85.9" r="2.1" fill="#7a0a0a"/><circle cx="370.8" cy="71.0" r="2.1" fill="#7a0a0a"/><circle cx="374.4" cy="58.7" r="2.1" fill="#7a0a0a"/><circle cx="378.0" cy="45.8" r="2.1" fill="#7a0a0a"/><circle cx="381.6" cy="36.4" r="2.1" fill="#7a0a0a"/><circle cx="385.2" cy="31.0" r="2.1" fill="#7a0a0a"/><circle cx="388.8" cy="30.9" r="2.1" fill="#7a0a0a"/><circle cx="392.4" cy="34.0" r="2.1" fill="#7a0a0a"/><circle cx="396.0" cy="42.6" r="2.1" fill="#7a0a0a"/><circle cx="399.6" cy="50.2" r="2.1" fill="#7a0a0a"/><circle cx="403.2" cy="57.0" r="2.1" fill="#7a0a0a"/><circle cx="406.8" cy="63.3" r="2.1" fill="#7a0a0a"/><circle cx="410.4" cy="68.2" r="2.1" fill="#7a0a0a"/><circle cx="414.0" cy="71.0" r="2.1" fill="#7a0a0a"/><circle cx="417.6" cy="73.3" r="2.1" fill="#7a0a0a"/><circle cx="421.2" cy="76.4" r="2.1" fill="#7a0a0a"/><circle cx="424.8" cy="80.9" r="2.1" fill="#7a0a0a"/><circle cx="428.4" cy="86.6" r="2.1" fill="#7a0a0a"/><circle cx="432.0" cy="93.1" r="2.1" fill="#7a0a0a"/><circle cx="435.6" cy="100.2" r="2.1" fill="#7a0a0a"/><circle cx="439.2" cy="107.6" r="2.1" fill="#7a0a0a"/><circle cx="442.8" cy="115.4" r="2.1" fill="#7a0a0a"/><circle cx="446.4" cy="122.0" r="2.1" fill="#7a0a0a"/><circle cx="450.0" cy="128.0" r="2.1" fill="#7a0a0a"/><circle cx="453.6" cy="133.0" r="2.1" fill="#7a0a0a"/><circle cx="457.2" cy="136.5" r="2.1" fill="#7a0a0a"/><circle cx="460.8" cy="138.9" r="2.1" fill="#7a0a0a"/><circle cx="464.4" cy="140.7" r="2.1" fill="#7a0a0a"/><circle cx="468.0" cy="142.2" r="2.1" fill="#7a0a0a"/><circle cx="471.6" cy="143.4" r="2.1" fill="#7a0a0a"/><circle cx="475.2" cy="144.4" r="2.1" fill="#7a0a0a"/><circle cx="478.8" cy="145.3" r="2.1" fill="#7a0a0a"/><circle cx="482.4" cy="146.5" r="2.1" fill="#7a0a0a"/><circle cx="486.0" cy="147.8" r="2.1" fill="#7a0a0a"/><circle cx="489.6" cy="148.8" r="2.1" fill="#7a0a0a"/><circle cx="493.2" cy="148.7" r="2.1" fill="#7a0a0a"/><circle cx="496.8" cy="147.1" r="2.1" fill="#7a0a0a"/></g>
<g clip-path="url(#cb)"><path d="M319.6,148.7 L321.1,148.4 L323.1,148.2 L325.4,147.8 L328.1,147.3 L330.8,146.7 L333.4,145.9 L336.1,145.0 L339.0,143.9 L342.1,142.7 L345.0,141.4 L347.7,139.9 L349.9,138.2 L351.7,136.4 L353.1,134.3 L354.2,132.1 L355.1,129.8 L356.1,127.4 L357.1,125.0 L358.2,122.5 L359.3,120.0 L360.3,117.4 L361.3,114.6 L362.3,111.6 L363.2,108.4 L364.0,104.8 L364.8,100.9 L365.6,96.7 L366.3,92.5 L367.1,88.4 L367.9,84.4 L368.6,80.7 L369.4,77.0 L370.2,73.3 L371.0,69.8 L371.8,66.3 L372.7,62.9 L373.6,59.4 L374.6,55.9 L375.7,52.5 L376.7,49.2 L377.7,46.3 L378.6,43.9 L379.5,41.8 L380.4,40.2 L381.2,38.8 L382.0,37.8 L382.7,37.1 L383.3,36.7 L383.9,36.7 L384.3,37.0 L384.7,37.7 L385.0,38.7 L385.4,39.9 L385.8,41.4 L386.2,43.1 L386.6,45.1 L387.0,47.3 L387.4,49.9 L387.8,52.7 L388.3,55.7 L388.8,59.3 L389.4,63.3 L390.0,67.6 L390.6,71.9 L391.3,76.0 L391.9,79.7 L392.5,82.9 L393.1,85.9 L393.7,88.6 L394.3,91.2 L394.9,93.7 L395.4,96.3 L396.0,98.8 L396.6,101.3 L397.2,103.7 L397.8,106.1 L398.4,108.4 L399.0,110.6 L399.7,112.8 L400.5,114.8 L401.2,116.8 L402.0,118.8 L402.8,120.7 L403.7,122.5 L404.6,124.3 L405.5,126.0 L406.5,127.7 L407.5,129.3 L408.6,130.8 L409.8,132.1 L411.1,133.4 L412.5,134.5 L414.0,135.6 L415.6,136.5 L417.3,137.4 L419.2,138.2 L421.2,139.0 L423.2,139.6 L425.4,140.2 L427.8,140.8 L430.5,141.3 L433.5,141.8 L436.8,142.2 L440.2,142.6 L443.9,143.0 L447.9,143.3 L452.4,143.7 L457.5,144.0 L463.8,144.4 L471.3,144.7 L479.3,145.1 L486.9,145.4 L493.5,145.7 L498.1,145.9" fill="none" stroke="#ff8a14" stroke-width="1.5" stroke-dasharray="0.1 2.0" stroke-linecap="round"/><circle cx="322.0" cy="148.3" r="2.0" fill="#ff8a14"/><circle cx="325.5" cy="147.8" r="2.0" fill="#ff8a14"/><circle cx="329.0" cy="147.1" r="2.0" fill="#ff8a14"/><circle cx="332.5" cy="146.2" r="2.0" fill="#ff8a14"/><circle cx="336.0" cy="145.0" r="2.0" fill="#ff8a14"/><circle cx="339.5" cy="143.7" r="2.0" fill="#ff8a14"/><circle cx="343.0" cy="142.3" r="2.0" fill="#ff8a14"/><circle cx="346.5" cy="140.5" r="2.0" fill="#ff8a14"/><circle cx="350.0" cy="138.1" r="2.0" fill="#ff8a14"/><circle cx="353.5" cy="133.5" r="2.0" fill="#ff8a14"/><circle cx="357.0" cy="125.2" r="2.0" fill="#ff8a14"/><circle cx="360.5" cy="116.8" r="2.0" fill="#ff8a14"/><circle cx="364.0" cy="105.0" r="2.0" fill="#ff8a14"/><circle cx="367.5" cy="86.3" r="2.0" fill="#ff8a14"/><circle cx="371.0" cy="69.8" r="2.0" fill="#ff8a14"/><circle cx="374.5" cy="56.4" r="2.0" fill="#ff8a14"/><circle cx="378.0" cy="45.5" r="2.0" fill="#ff8a14"/><circle cx="381.5" cy="38.4" r="2.0" fill="#ff8a14"/><circle cx="385.0" cy="38.5" r="2.0" fill="#ff8a14"/><circle cx="388.5" cy="57.2" r="2.0" fill="#ff8a14"/><circle cx="392.0" cy="80.5" r="2.0" fill="#ff8a14"/><circle cx="395.5" cy="96.5" r="2.0" fill="#ff8a14"/><circle cx="399.0" cy="110.5" r="2.0" fill="#ff8a14"/><circle cx="402.5" cy="119.9" r="2.0" fill="#ff8a14"/><circle cx="406.0" cy="126.8" r="2.0" fill="#ff8a14"/><circle cx="409.5" cy="131.8" r="2.0" fill="#ff8a14"/><circle cx="413.0" cy="134.9" r="2.0" fill="#ff8a14"/><circle cx="416.5" cy="137.0" r="2.0" fill="#ff8a14"/><circle cx="420.0" cy="138.5" r="2.0" fill="#ff8a14"/><circle cx="423.5" cy="139.7" r="2.0" fill="#ff8a14"/><circle cx="427.0" cy="140.6" r="2.0" fill="#ff8a14"/><circle cx="430.5" cy="141.3" r="2.0" fill="#ff8a14"/><circle cx="434.0" cy="141.9" r="2.0" fill="#ff8a14"/><circle cx="437.5" cy="142.3" r="2.0" fill="#ff8a14"/><circle cx="441.0" cy="142.7" r="2.0" fill="#ff8a14"/><circle cx="444.5" cy="143.1" r="2.0" fill="#ff8a14"/><circle cx="448.0" cy="143.3" r="2.0" fill="#ff8a14"/><circle cx="451.5" cy="143.6" r="2.0" fill="#ff8a14"/><circle cx="455.0" cy="143.8" r="2.0" fill="#ff8a14"/><circle cx="458.5" cy="144.1" r="2.0" fill="#ff8a14"/><circle cx="462.0" cy="144.3" r="2.0" fill="#ff8a14"/><circle cx="465.5" cy="144.4" r="2.0" fill="#ff8a14"/><circle cx="469.0" cy="144.6" r="2.0" fill="#ff8a14"/><circle cx="472.5" cy="144.8" r="2.0" fill="#ff8a14"/><circle cx="476.0" cy="145.0" r="2.0" fill="#ff8a14"/><circle cx="479.5" cy="145.1" r="2.0" fill="#ff8a14"/><circle cx="483.0" cy="145.3" r="2.0" fill="#ff8a14"/><circle cx="486.5" cy="145.4" r="2.0" fill="#ff8a14"/><circle cx="490.0" cy="145.6" r="2.0" fill="#ff8a14"/><circle cx="493.5" cy="145.7" r="2.0" fill="#ff8a14"/><circle cx="497.0" cy="145.9" r="2.0" fill="#ff8a14"/></g>
<g clip-path="url(#cb)"><path d="M319.6,152.0 L324.3,151.7 L331.0,151.3 L338.9,150.9 L347.1,150.3 L354.7,149.6 L361.0,148.7 L365.9,147.7 L370.2,146.6 L373.9,145.4 L377.2,144.0 L380.2,142.3 L383.0,140.4 L385.6,138.1 L387.7,135.4 L389.5,132.5 L391.1,129.5 L392.6,126.6 L394.1,123.9 L395.5,121.4 L396.7,119.0 L397.8,116.8 L398.8,114.5 L399.9,112.3 L401.0,110.1 L402.1,107.5 L403.3,104.6 L404.4,101.8 L405.6,99.3 L406.7,97.5 L407.9,96.8 L409.0,97.5 L410.2,99.2 L411.3,101.6 L412.5,104.4 L413.6,107.4 L414.8,110.1 L415.9,112.7 L417.0,115.5 L418.1,118.5 L419.3,121.4 L420.4,124.1 L421.7,126.6 L422.9,128.9 L424.1,130.9 L425.4,132.9 L426.7,134.7 L428.2,136.2 L429.9,137.7 L431.8,138.8 L433.6,139.8 L435.6,140.6 L437.9,141.2 L440.6,141.8 L443.7,142.3 L447.5,142.9 L451.9,143.3 L456.7,143.7 L461.7,144.0 L466.6,144.3 L471.3,144.6 L476.1,144.7 L481.1,144.9 L486.1,145.0 L490.8,145.0 L494.7,145.1 L497.5,145.1" fill="none" stroke="#c4c81c" stroke-width="1.1"/><path d="M317.8,150.4 L322.2,150.4 L320.0,154.2Z" fill="#c4c81c"/><path d="M321.8,150.1 L326.2,150.1 L324.0,153.9Z" fill="#c4c81c"/><path d="M325.8,149.9 L330.2,149.9 L328.0,153.7Z" fill="#c4c81c"/><path d="M329.8,149.7 L334.2,149.7 L332.0,153.5Z" fill="#c4c81c"/><path d="M333.8,149.4 L338.2,149.4 L336.0,153.2Z" fill="#c4c81c"/><path d="M337.8,149.2 L342.2,149.2 L340.0,153.0Z" fill="#c4c81c"/><path d="M341.8,148.9 L346.2,148.9 L344.0,152.7Z" fill="#c4c81c"/><path d="M345.8,148.6 L350.2,148.6 L348.0,152.4Z" fill="#c4c81c"/><path d="M349.8,148.2 L354.2,148.2 L352.0,152.0Z" fill="#c4c81c"/><path d="M353.8,147.8 L358.2,147.8 L356.0,151.6Z" fill="#c4c81c"/><path d="M357.8,147.2 L362.2,147.2 L360.0,151.0Z" fill="#c4c81c"/><path d="M361.8,146.5 L366.2,146.5 L364.0,150.3Z" fill="#c4c81c"/><path d="M365.8,145.6 L370.2,145.6 L368.0,149.4Z" fill="#c4c81c"/><path d="M369.8,144.4 L374.2,144.4 L372.0,148.2Z" fill="#c4c81c"/><path d="M373.8,142.9 L378.2,142.9 L376.0,146.7Z" fill="#c4c81c"/><path d="M377.8,140.8 L382.2,140.8 L380.0,144.6Z" fill="#c4c81c"/><path d="M381.8,137.9 L386.2,137.9 L384.0,141.7Z" fill="#c4c81c"/><path d="M385.8,133.3 L390.2,133.3 L388.0,137.1Z" fill="#c4c81c"/><path d="M389.8,126.1 L394.2,126.1 L392.0,129.9Z" fill="#c4c81c"/><path d="M393.8,118.7 L398.2,118.7 L396.0,122.5Z" fill="#c4c81c"/><path d="M397.8,110.4 L402.2,110.4 L400.0,114.2Z" fill="#c4c81c"/><path d="M401.8,101.2 L406.2,101.2 L404.0,105.0Z" fill="#c4c81c"/><path d="M405.8,95.3 L410.2,95.3 L408.0,99.1Z" fill="#c4c81c"/><path d="M409.8,101.7 L414.2,101.7 L412.0,105.5Z" fill="#c4c81c"/><path d="M413.8,111.4 L418.2,111.4 L416.0,115.2Z" fill="#c4c81c"/><path d="M417.8,121.5 L422.2,121.5 L420.0,125.3Z" fill="#c4c81c"/><path d="M421.8,129.2 L426.2,129.2 L424.0,133.0Z" fill="#c4c81c"/><path d="M425.8,134.4 L430.2,134.4 L428.0,138.2Z" fill="#c4c81c"/><path d="M429.8,137.4 L434.2,137.4 L432.0,141.2Z" fill="#c4c81c"/><path d="M433.8,139.1 L438.2,139.1 L436.0,142.9Z" fill="#c4c81c"/><path d="M437.8,140.1 L442.2,140.1 L440.0,143.9Z" fill="#c4c81c"/><path d="M441.8,140.8 L446.2,140.8 L444.0,144.6Z" fill="#c4c81c"/><path d="M445.8,141.3 L450.2,141.3 L448.0,145.1Z" fill="#c4c81c"/><path d="M449.8,141.7 L454.2,141.7 L452.0,145.5Z" fill="#c4c81c"/><path d="M453.8,142.0 L458.2,142.0 L456.0,145.8Z" fill="#c4c81c"/><path d="M457.8,142.3 L462.2,142.3 L460.0,146.1Z" fill="#c4c81c"/><path d="M461.8,142.6 L466.2,142.6 L464.0,146.4Z" fill="#c4c81c"/><path d="M465.8,142.8 L470.2,142.8 L468.0,146.6Z" fill="#c4c81c"/><path d="M469.8,143.0 L474.2,143.0 L472.0,146.8Z" fill="#c4c81c"/><path d="M473.8,143.1 L478.2,143.1 L476.0,146.9Z" fill="#c4c81c"/><path d="M477.8,143.2 L482.2,143.2 L480.0,147.0Z" fill="#c4c81c"/><path d="M481.8,143.3 L486.2,143.3 L484.0,147.1Z" fill="#c4c81c"/><path d="M485.8,143.4 L490.2,143.4 L488.0,147.2Z" fill="#c4c81c"/><path d="M489.8,143.4 L494.2,143.4 L492.0,147.2Z" fill="#c4c81c"/><path d="M493.8,143.5 L498.2,143.5 L496.0,147.3Z" fill="#c4c81c"/></g>
<g clip-path="url(#cb)"><path d="M319.6,152.0 L325.9,151.8 L334.9,151.6 L345.4,151.3 L356.4,150.9 L366.5,150.5 L374.8,150.1 L381.1,149.6 L386.6,149.0 L391.3,148.4 L395.4,147.7 L399.0,146.9 L402.3,145.9 L405.2,144.9 L407.4,143.7 L409.1,142.4 L410.5,141.0 L411.9,139.4 L413.4,137.7 L414.9,135.6 L416.3,133.4 L417.6,130.9 L418.8,128.5 L420.2,126.1 L421.7,123.9 L423.3,121.6 L425.0,119.2 L426.9,116.8 L428.7,114.8 L430.5,113.4 L432.1,112.8 L433.7,113.4 L435.2,114.9 L436.7,117.1 L438.1,119.5 L439.5,121.8 L441.0,123.9 L442.3,125.6 L443.7,127.3 L445.0,128.9 L446.3,130.6 L447.7,132.1 L449.2,133.5 L450.8,134.9 L452.4,136.1 L454.1,137.3 L455.9,138.4 L457.9,139.5 L460.3,140.4 L463.0,141.3 L466.2,142.1 L469.5,142.9 L472.9,143.5 L476.4,144.1 L479.6,144.6 L482.9,144.9 L486.3,145.0 L489.8,145.1 L492.9,145.1 L495.6,145.1 L497.5,145.1" fill="none" stroke="#1e8c1e" stroke-width="1.3"/><path d="M317.7,153.4 L321.5,153.4 L319.6,149.8Z" fill="#1e8c1e"/><path d="M321.1,153.3 L324.9,153.3 L323.0,149.7Z" fill="#1e8c1e"/><path d="M324.5,153.2 L328.3,153.2 L326.4,149.6Z" fill="#1e8c1e"/><path d="M327.9,153.1 L331.7,153.1 L329.8,149.5Z" fill="#1e8c1e"/><path d="M331.3,153.0 L335.1,153.0 L333.2,149.4Z" fill="#1e8c1e"/><path d="M334.7,152.9 L338.5,152.9 L336.6,149.3Z" fill="#1e8c1e"/><path d="M338.1,152.8 L341.9,152.8 L340.0,149.2Z" fill="#1e8c1e"/><path d="M341.5,152.7 L345.3,152.7 L343.4,149.1Z" fill="#1e8c1e"/><path d="M344.9,152.7 L348.7,152.7 L346.8,149.1Z" fill="#1e8c1e"/><path d="M348.3,152.5 L352.1,152.5 L350.2,148.9Z" fill="#1e8c1e"/><path d="M351.7,152.4 L355.5,152.4 L353.6,148.8Z" fill="#1e8c1e"/><path d="M355.1,152.3 L358.9,152.3 L357.0,148.7Z" fill="#1e8c1e"/><path d="M358.5,152.2 L362.3,152.2 L360.4,148.6Z" fill="#1e8c1e"/><path d="M361.9,152.0 L365.7,152.0 L363.8,148.4Z" fill="#1e8c1e"/><path d="M365.3,151.9 L369.1,151.9 L367.2,148.3Z" fill="#1e8c1e"/><path d="M368.7,151.7 L372.5,151.7 L370.6,148.1Z" fill="#1e8c1e"/><path d="M372.1,151.5 L375.9,151.5 L374.0,147.9Z" fill="#1e8c1e"/><path d="M375.5,151.3 L379.3,151.3 L377.4,147.7Z" fill="#1e8c1e"/><path d="M378.9,151.0 L382.7,151.0 L380.8,147.4Z" fill="#1e8c1e"/><path d="M382.3,150.6 L386.1,150.6 L384.2,147.0Z" fill="#1e8c1e"/><path d="M385.7,150.3 L389.5,150.3 L387.6,146.7Z" fill="#1e8c1e"/><path d="M389.1,149.8 L392.9,149.8 L391.0,146.2Z" fill="#1e8c1e"/><path d="M392.5,149.3 L396.3,149.3 L394.4,145.7Z" fill="#1e8c1e"/><path d="M395.9,148.6 L399.7,148.6 L397.8,145.0Z" fill="#1e8c1e"/><path d="M399.3,147.7 L403.1,147.7 L401.2,144.1Z" fill="#1e8c1e"/><path d="M402.7,146.5 L406.5,146.5 L404.6,142.9Z" fill="#1e8c1e"/><path d="M406.1,144.6 L409.9,144.6 L408.0,141.0Z" fill="#1e8c1e"/><path d="M409.5,141.4 L413.3,141.4 L411.4,137.8Z" fill="#1e8c1e"/><path d="M412.9,137.2 L416.7,137.2 L414.8,133.6Z" fill="#1e8c1e"/><path d="M416.3,131.1 L420.1,131.1 L418.2,127.5Z" fill="#1e8c1e"/><path d="M419.7,125.3 L423.5,125.3 L421.6,121.7Z" fill="#1e8c1e"/><path d="M423.1,120.6 L426.9,120.6 L425.0,117.0Z" fill="#1e8c1e"/><path d="M426.5,116.5 L430.3,116.5 L428.4,112.9Z" fill="#1e8c1e"/><path d="M429.9,114.3 L433.7,114.3 L431.8,110.7Z" fill="#1e8c1e"/><path d="M433.3,116.3 L437.1,116.3 L435.2,112.7Z" fill="#1e8c1e"/><path d="M436.7,121.7 L440.5,121.7 L438.6,118.1Z" fill="#1e8c1e"/><path d="M440.1,126.6 L443.9,126.6 L442.0,123.0Z" fill="#1e8c1e"/><path d="M443.5,130.9 L447.3,130.9 L445.4,127.3Z" fill="#1e8c1e"/><path d="M446.9,134.5 L450.7,134.5 L448.8,130.9Z" fill="#1e8c1e"/><path d="M450.3,137.4 L454.1,137.4 L452.2,133.8Z" fill="#1e8c1e"/><path d="M453.7,139.6 L457.5,139.6 L455.6,136.0Z" fill="#1e8c1e"/><path d="M457.1,141.3 L460.9,141.3 L459.0,137.7Z" fill="#1e8c1e"/><path d="M460.5,142.5 L464.3,142.5 L462.4,138.9Z" fill="#1e8c1e"/><path d="M463.9,143.4 L467.7,143.4 L465.8,139.8Z" fill="#1e8c1e"/><path d="M467.3,144.2 L471.1,144.2 L469.2,140.6Z" fill="#1e8c1e"/><path d="M470.7,144.9 L474.5,144.9 L472.6,141.3Z" fill="#1e8c1e"/><path d="M474.1,145.4 L477.9,145.4 L476.0,141.8Z" fill="#1e8c1e"/><path d="M477.5,145.9 L481.3,145.9 L479.4,142.3Z" fill="#1e8c1e"/><path d="M480.9,146.3 L484.7,146.3 L482.8,142.7Z" fill="#1e8c1e"/><path d="M484.3,146.4 L488.1,146.4 L486.2,142.8Z" fill="#1e8c1e"/><path d="M487.7,146.5 L491.5,146.5 L489.6,142.9Z" fill="#1e8c1e"/><path d="M491.1,146.5 L494.9,146.5 L493.0,142.9Z" fill="#1e8c1e"/><path d="M494.5,146.5 L498.3,146.5 L496.4,142.9Z" fill="#1e8c1e"/></g>
<line x1="402.3" y1="19.6" x2="414.8" y2="19.6" stroke="#7a0a0a" stroke-width="1.8"/><circle cx="408.55" cy="19.6" r="2" fill="#7a0a0a"/>
<text x="429.4" y="23.1" font-family="Liberation Serif" font-weight="bold" font-size="9.5">Experimental</text>
<line x1="402.3" y1="32.3" x2="414.8" y2="32.3" stroke="#ff8a14" stroke-width="1.8" stroke-dasharray="2 2"/><circle cx="408.55" cy="32.3" r="2" fill="#ff8a14"/>
<text x="429.4" y="35.8" font-family="Liberation Serif" font-weight="bold" font-size="9.5">M-O (58.03%)</text>
<line x1="402.3" y1="44.4" x2="414.8" y2="44.4" stroke="#c4c81c" stroke-width="1.8"/><path d="M406.55,43.4 L410.55,43.4 L408.55,46.9Z" fill="#c4c81c"/>
<text x="429.4" y="47.9" font-family="Liberation Serif" font-weight="bold" font-size="9.5">V<tspan font-size="9.025" dy="4">0</tspan><tspan dy="-4" x="450.79999999999995">(25.71%)</tspan></text>
<line x1="402.3" y1="59" x2="414.8" y2="59" stroke="#1e8c1e" stroke-width="1.8"/><path d="M406.55,60 L410.55,60 L408.55,56.5Z" fill="#1e8c1e"/>
<text x="429.4" y="62.5" font-family="Liberation Serif" font-weight="bold" font-size="9.5">-OH (16.26%)</text>
<rect x="553.4" y="10.1" width="189.5" height="162.8" fill="none" stroke="#000" stroke-width="3"/>
<line x1="553.0" y1="174.3" x2="553.0" y2="178.5" stroke="#000" stroke-width="2.2"/>
<text x="553.0" y="196.9" font-family="Liberation Serif" font-weight="bold" font-size="13.5" text-anchor="middle" >526</text>
<line x1="600.3" y1="174.3" x2="600.3" y2="178.5" stroke="#000" stroke-width="2.2"/>
<text x="600.3" y="196.9" font-family="Liberation Serif" font-weight="bold" font-size="13.5" text-anchor="middle" >528</text>
<line x1="647.6" y1="174.3" x2="647.6" y2="178.5" stroke="#000" stroke-width="2.2"/>
<text x="647.6" y="196.9" font-family="Liberation Serif" font-weight="bold" font-size="13.5" text-anchor="middle" >530</text>
<line x1="694.9" y1="174.3" x2="694.9" y2="178.5" stroke="#000" stroke-width="2.2"/>
<text x="694.9" y="196.9" font-family="Liberation Serif" font-weight="bold" font-size="13.5" text-anchor="middle" >532</text>
<line x1="742.2" y1="174.3" x2="742.2" y2="178.5" stroke="#000" stroke-width="2.2"/>
<text x="742.2" y="196.9" font-family="Liberation Serif" font-weight="bold" font-size="13.5" text-anchor="middle" >534</text>
<text x="648.7" y="222" font-family="Liberation Serif" font-weight="bold" font-size="16.8" text-anchor="middle" >Binding Energy (eV)</text>
<text transform="translate(539.2,91) rotate(-90)" font-family="Liberation Serif" font-weight="bold" font-size="18.1" text-anchor="middle">Intensity (a.u)</text>
<text x="503" y="22.5" font-family="Liberation Serif" font-weight="bold" font-size="31" text-anchor="start" >(c)</text>
<text x="676.8" y="23.9" font-family="Liberation Serif" font-weight="bold" font-size="12" text-anchor="start" >Without AA</text>
<text x="558.8" y="119.4" font-family="Liberation Serif" font-weight="bold" font-size="12" text-anchor="start" >Interface</text>
<g clip-path="url(#cc)"><path d="M550.0,152.6 L552.3,152.6 L555.6,152.6 L559.4,152.7 L563.6,152.7 L567.6,152.7 L571.2,152.6 L574.6,152.4 L577.9,152.1 L581.2,151.8 L584.3,151.5 L587.2,151.1 L589.8,150.7 L591.9,150.3 L593.7,149.8 L595.3,149.3 L596.7,148.7 L598.2,148.1 L600.0,147.5 L602.0,146.9 L604.2,146.3 L606.4,145.7 L608.6,145.0 L610.8,144.2 L612.9,143.3 L614.8,142.2 L616.6,140.9 L618.4,139.6 L620.2,138.1 L621.8,136.5 L623.5,134.8 L625.0,132.9 L626.5,130.9 L627.9,128.8 L629.3,126.6 L630.7,124.2 L632.1,121.8 L633.5,119.3 L635.0,116.8 L636.4,114.1 L637.8,111.3 L639.2,108.2 L640.6,104.8 L641.9,101.0 L643.2,96.9 L644.4,92.5 L645.7,88.0 L646.9,83.5 L648.1,79.1 L649.4,74.7 L650.7,70.2 L651.9,65.6 L653.2,61.2 L654.4,57.1 L655.6,53.5 L656.7,50.3 L657.8,47.5 L658.8,44.9 L659.9,42.6 L660.9,40.5 L661.9,38.5 L663.0,36.6 L664.1,35.0 L665.2,33.5 L666.2,32.1 L667.3,31.0 L668.3,30.0 L669.3,29.2 L670.2,28.6 L671.1,28.1 L672.0,27.8 L672.9,27.7 L673.8,27.8 L674.7,27.9 L675.6,28.1 L676.5,28.5 L677.3,29.2 L678.2,30.4 L679.1,32.1 L680.0,34.8 L680.9,38.3 L681.8,42.3 L682.7,46.4 L683.6,50.2 L684.5,53.5 L685.4,56.1 L686.3,58.3 L687.1,60.3 L688.0,62.2 L688.9,64.2 L689.8,66.4 L690.7,68.7 L691.6,71.0 L692.4,73.4 L693.3,75.9 L694.2,78.4 L695.1,81.2 L696.0,84.2 L696.9,87.5 L697.7,90.9 L698.6,94.3 L699.5,97.6 L700.4,100.6 L701.3,103.3 L702.2,105.9 L703.1,108.4 L704.0,110.8 L704.9,113.1 L706.0,115.4 L707.0,117.7 L708.2,119.9 L709.3,122.1 L710.5,124.2 L711.9,126.3 L713.3,128.3 L714.9,130.3 L716.5,132.2 L718.3,134.1 L720.1,135.9 L722.1,137.5 L724.0,139.0 L726.1,140.4 L728.3,141.6 L730.6,142.8 L732.9,143.8 L735.0,144.6 L736.9,145.4 L738.5,146.0 L740.0,146.5 L741.3,146.8 L742.6,147.1 L743.8,147.3 L745.0,147.5 L746.2,147.7 L747.5,147.8 L748.8,147.9 L749.9,148.0 L750.9,148.0 L751.6,148.1" fill="none" stroke="#7a0a0a" stroke-width="1.8" stroke-linejoin="round"/><circle cx="550.8" cy="152.6" r="2.1" fill="#7a0a0a"/><circle cx="554.4" cy="152.6" r="2.1" fill="#7a0a0a"/><circle cx="558.0" cy="152.7" r="2.1" fill="#7a0a0a"/><circle cx="561.6" cy="152.7" r="2.1" fill="#7a0a0a"/><circle cx="565.2" cy="152.7" r="2.1" fill="#7a0a0a"/><circle cx="568.8" cy="152.6" r="2.1" fill="#7a0a0a"/><circle cx="572.4" cy="152.5" r="2.1" fill="#7a0a0a"/><circle cx="576.0" cy="152.3" r="2.1" fill="#7a0a0a"/><circle cx="579.6" cy="152.0" r="2.1" fill="#7a0a0a"/><circle cx="583.2" cy="151.6" r="2.1" fill="#7a0a0a"/><circle cx="586.8" cy="151.2" r="2.1" fill="#7a0a0a"/><circle cx="590.4" cy="150.6" r="2.1" fill="#7a0a0a"/><circle cx="594.0" cy="149.7" r="2.1" fill="#7a0a0a"/><circle cx="597.6" cy="148.4" r="2.1" fill="#7a0a0a"/><circle cx="601.2" cy="147.2" r="2.1" fill="#7a0a0a"/><circle cx="604.8" cy="146.2" r="2.1" fill="#7a0a0a"/><circle cx="608.4" cy="145.1" r="2.1" fill="#7a0a0a"/><circle cx="612.0" cy="143.7" r="2.1" fill="#7a0a0a"/><circle cx="615.6" cy="141.6" r="2.1" fill="#7a0a0a"/><circle cx="619.2" cy="138.9" r="2.1" fill="#7a0a0a"/><circle cx="622.8" cy="135.5" r="2.1" fill="#7a0a0a"/><circle cx="626.4" cy="131.1" r="2.1" fill="#7a0a0a"/><circle cx="630.0" cy="125.4" r="2.1" fill="#7a0a0a"/><circle cx="633.6" cy="119.2" r="2.1" fill="#7a0a0a"/><circle cx="637.2" cy="112.6" r="2.1" fill="#7a0a0a"/><circle cx="640.8" cy="104.3" r="2.1" fill="#7a0a0a"/><circle cx="644.4" cy="92.6" r="2.1" fill="#7a0a0a"/><circle cx="648.0" cy="79.6" r="2.1" fill="#7a0a0a"/><circle cx="651.6" cy="66.8" r="2.1" fill="#7a0a0a"/><circle cx="655.2" cy="54.6" r="2.1" fill="#7a0a0a"/><circle cx="658.8" cy="45.0" r="2.1" fill="#7a0a0a"/><circle cx="662.4" cy="37.7" r="2.1" fill="#7a0a0a"/><circle cx="666.0" cy="32.4" r="2.1" fill="#7a0a0a"/><circle cx="669.6" cy="29.0" r="2.1" fill="#7a0a0a"/><circle cx="673.2" cy="27.7" r="2.1" fill="#7a0a0a"/><circle cx="676.8" cy="28.8" r="2.1" fill="#7a0a0a"/><circle cx="680.4" cy="36.4" r="2.1" fill="#7a0a0a"/><circle cx="684.0" cy="51.7" r="2.1" fill="#7a0a0a"/><circle cx="687.6" cy="61.3" r="2.1" fill="#7a0a0a"/><circle cx="691.2" cy="70.1" r="2.1" fill="#7a0a0a"/><circle cx="694.8" cy="80.3" r="2.1" fill="#7a0a0a"/><circle cx="698.4" cy="93.5" r="2.1" fill="#7a0a0a"/><circle cx="702.0" cy="105.4" r="2.1" fill="#7a0a0a"/><circle cx="705.6" cy="114.6" r="2.1" fill="#7a0a0a"/><circle cx="709.2" cy="121.9" r="2.1" fill="#7a0a0a"/><circle cx="712.8" cy="127.6" r="2.1" fill="#7a0a0a"/><circle cx="716.4" cy="132.0" r="2.1" fill="#7a0a0a"/><circle cx="720.0" cy="135.7" r="2.1" fill="#7a0a0a"/><circle cx="723.6" cy="138.7" r="2.1" fill="#7a0a0a"/><circle cx="727.2" cy="141.0" r="2.1" fill="#7a0a0a"/><circle cx="730.8" cy="142.8" r="2.1" fill="#7a0a0a"/><circle cx="734.4" cy="144.4" r="2.1" fill="#7a0a0a"/><circle cx="738.0" cy="145.8" r="2.1" fill="#7a0a0a"/><circle cx="741.6" cy="146.9" r="2.1" fill="#7a0a0a"/><circle cx="745.2" cy="147.6" r="2.1" fill="#7a0a0a"/><circle cx="748.8" cy="147.9" r="2.1" fill="#7a0a0a"/></g>
<g clip-path="url(#cc)"><path d="M572.5,151.2 L575.7,151.0 L580.2,150.6 L585.5,150.2 L590.9,149.7 L596.0,149.1 L600.0,148.6 L603.0,148.0 L605.5,147.4 L607.5,146.8 L609.3,146.0 L611.0,145.2 L612.9,144.3 L614.8,143.4 L616.6,142.3 L618.4,141.2 L620.2,139.9 L621.8,138.5 L623.5,136.9 L625.0,135.1 L626.5,133.2 L627.9,131.1 L629.3,128.9 L630.7,126.5 L632.1,123.9 L633.5,121.1 L635.0,118.1 L636.4,114.9 L637.8,111.6 L639.2,108.2 L640.6,104.8 L641.9,101.4 L643.3,97.8 L644.6,94.2 L645.8,90.6 L647.0,86.9 L648.1,83.3 L649.2,79.6 L650.1,75.8 L651.0,72.0 L651.8,68.3 L652.6,64.9 L653.4,61.8 L654.3,59.2 L655.1,56.7 L655.9,54.5 L656.7,52.6 L657.5,51.1 L658.2,50.2 L658.9,49.7 L659.5,49.7 L660.1,50.0 L660.7,50.8 L661.3,52.0 L661.9,53.5 L662.6,55.5 L663.3,58.1 L664.0,61.0 L664.7,64.2 L665.4,67.5 L666.2,70.6 L667.0,73.6 L667.8,76.7 L668.7,79.9 L669.6,83.1 L670.5,86.5 L671.5,90.0 L672.5,93.7 L673.6,97.8 L674.7,101.9 L675.8,106.0 L677.0,110.0 L678.1,113.6 L679.3,116.9 L680.5,119.9 L681.7,122.9 L683.0,125.6 L684.2,128.1 L685.5,130.5 L686.8,132.8 L688.1,134.8 L689.4,136.7 L690.8,138.4 L692.4,140.0 L694.0,141.4 L695.6,142.6 L697.1,143.7 L698.6,144.5 L700.6,145.3 L703.3,146.0 L706.9,146.7 L712.2,147.4 L718.9,148.1 L726.3,148.8 L733.7,149.3 L740.1,149.8 L745.0,150.2 L748.0,150.4 L749.7,150.5 L750.7,150.5 L751.0,150.5 L751.2,150.4 L751.6,150.4" fill="none" stroke="#ff8a14" stroke-width="1.5" stroke-dasharray="0.1 2.0" stroke-linecap="round"/><circle cx="574.0" cy="151.1" r="2.0" fill="#ff8a14"/><circle cx="577.5" cy="150.8" r="2.0" fill="#ff8a14"/><circle cx="581.0" cy="150.5" r="2.0" fill="#ff8a14"/><circle cx="584.5" cy="150.3" r="2.0" fill="#ff8a14"/><circle cx="588.0" cy="149.9" r="2.0" fill="#ff8a14"/><circle cx="591.5" cy="149.6" r="2.0" fill="#ff8a14"/><circle cx="595.0" cy="149.2" r="2.0" fill="#ff8a14"/><circle cx="598.5" cy="148.8" r="2.0" fill="#ff8a14"/><circle cx="602.0" cy="148.2" r="2.0" fill="#ff8a14"/><circle cx="605.5" cy="147.4" r="2.0" fill="#ff8a14"/><circle cx="609.0" cy="146.2" r="2.0" fill="#ff8a14"/><circle cx="612.5" cy="144.5" r="2.0" fill="#ff8a14"/><circle cx="616.0" cy="142.7" r="2.0" fill="#ff8a14"/><circle cx="619.5" cy="140.4" r="2.0" fill="#ff8a14"/><circle cx="623.0" cy="137.4" r="2.0" fill="#ff8a14"/><circle cx="626.5" cy="133.2" r="2.0" fill="#ff8a14"/><circle cx="630.0" cy="127.7" r="2.0" fill="#ff8a14"/><circle cx="633.5" cy="121.2" r="2.0" fill="#ff8a14"/><circle cx="637.0" cy="113.6" r="2.0" fill="#ff8a14"/><circle cx="640.5" cy="105.1" r="2.0" fill="#ff8a14"/><circle cx="644.0" cy="95.8" r="2.0" fill="#ff8a14"/><circle cx="647.5" cy="85.4" r="2.0" fill="#ff8a14"/><circle cx="651.0" cy="71.8" r="2.0" fill="#ff8a14"/><circle cx="654.5" cy="58.5" r="2.0" fill="#ff8a14"/><circle cx="658.0" cy="50.5" r="2.0" fill="#ff8a14"/><circle cx="661.5" cy="52.4" r="2.0" fill="#ff8a14"/><circle cx="665.0" cy="65.7" r="2.0" fill="#ff8a14"/><circle cx="668.5" cy="79.2" r="2.0" fill="#ff8a14"/><circle cx="672.0" cy="91.9" r="2.0" fill="#ff8a14"/><circle cx="675.5" cy="104.9" r="2.0" fill="#ff8a14"/><circle cx="679.0" cy="116.0" r="2.0" fill="#ff8a14"/><circle cx="682.5" cy="124.6" r="2.0" fill="#ff8a14"/><circle cx="686.0" cy="131.3" r="2.0" fill="#ff8a14"/><circle cx="689.5" cy="136.8" r="2.0" fill="#ff8a14"/><circle cx="693.0" cy="140.6" r="2.0" fill="#ff8a14"/><circle cx="696.5" cy="143.3" r="2.0" fill="#ff8a14"/><circle cx="700.0" cy="145.1" r="2.0" fill="#ff8a14"/><circle cx="703.5" cy="146.1" r="2.0" fill="#ff8a14"/><circle cx="707.0" cy="146.7" r="2.0" fill="#ff8a14"/><circle cx="710.5" cy="147.2" r="2.0" fill="#ff8a14"/><circle cx="714.0" cy="147.6" r="2.0" fill="#ff8a14"/><circle cx="717.5" cy="148.0" r="2.0" fill="#ff8a14"/><circle cx="721.0" cy="148.3" r="2.0" fill="#ff8a14"/><circle cx="724.5" cy="148.6" r="2.0" fill="#ff8a14"/><circle cx="728.0" cy="148.9" r="2.0" fill="#ff8a14"/><circle cx="731.5" cy="149.2" r="2.0" fill="#ff8a14"/><circle cx="735.0" cy="149.4" r="2.0" fill="#ff8a14"/><circle cx="738.5" cy="149.7" r="2.0" fill="#ff8a14"/><circle cx="742.0" cy="149.9" r="2.0" fill="#ff8a14"/><circle cx="745.5" cy="150.2" r="2.0" fill="#ff8a14"/><circle cx="749.0" cy="150.5" r="2.0" fill="#ff8a14"/></g>
<g clip-path="url(#cc)"><path d="M572.5,152.6 L575.5,152.5 L579.5,152.4 L584.3,152.3 L589.5,152.1 L594.8,151.9 L600.0,151.5 L605.2,151.0 L610.8,150.5 L616.4,149.9 L622.0,149.1 L627.3,148.3 L632.1,147.3 L636.4,146.2 L640.4,145.0 L644.1,143.7 L647.5,142.3 L650.6,140.6 L653.4,138.6 L655.9,136.4 L657.9,134.0 L659.7,131.3 L661.3,128.4 L662.7,125.2 L664.2,121.8 L665.6,117.9 L666.9,113.4 L668.1,108.7 L669.2,104.0 L670.3,99.7 L671.5,96.1 L672.6,92.8 L673.8,89.7 L674.9,87.0 L676.0,84.9 L677.0,83.6 L678.1,83.3 L679.2,84.4 L680.2,86.5 L681.2,89.5 L682.3,93.1 L683.4,96.9 L684.5,100.6 L685.6,104.5 L686.8,108.9 L688.1,113.6 L689.3,118.2 L690.6,122.5 L691.9,126.3 L693.2,129.5 L694.5,132.4 L695.8,134.9 L697.2,137.2 L698.7,139.3 L700.4,141.2 L702.1,142.7 L703.7,144.0 L705.4,145.1 L707.4,146.0 L710.0,146.7 L713.3,147.5 L717.8,148.3 L723.4,148.9 L729.5,149.5 L735.6,150.0 L740.9,150.4 L745.0,150.7 L747.6,150.9 L749.3,150.9 L750.3,150.9 L750.8,150.8 L751.2,150.7 L751.6,150.7" fill="none" stroke="#c4c81c" stroke-width="1.1"/><path d="M573.8,150.9 L578.2,150.9 L576.0,154.7Z" fill="#c4c81c"/><path d="M577.8,150.8 L582.2,150.8 L580.0,154.6Z" fill="#c4c81c"/><path d="M581.8,150.7 L586.2,150.7 L584.0,154.5Z" fill="#c4c81c"/><path d="M585.8,150.6 L590.2,150.6 L588.0,154.4Z" fill="#c4c81c"/><path d="M589.8,150.4 L594.2,150.4 L592.0,154.2Z" fill="#c4c81c"/><path d="M593.8,150.2 L598.2,150.2 L596.0,154.0Z" fill="#c4c81c"/><path d="M597.8,149.9 L602.2,149.9 L600.0,153.7Z" fill="#c4c81c"/><path d="M601.8,149.5 L606.2,149.5 L604.0,153.3Z" fill="#c4c81c"/><path d="M605.8,149.2 L610.2,149.2 L608.0,153.0Z" fill="#c4c81c"/><path d="M609.8,148.7 L614.2,148.7 L612.0,152.5Z" fill="#c4c81c"/><path d="M613.8,148.3 L618.2,148.3 L616.0,152.1Z" fill="#c4c81c"/><path d="M617.8,147.8 L622.2,147.8 L620.0,151.6Z" fill="#c4c81c"/><path d="M621.8,147.2 L626.2,147.2 L624.0,151.0Z" fill="#c4c81c"/><path d="M625.8,146.5 L630.2,146.5 L628.0,150.3Z" fill="#c4c81c"/><path d="M629.8,145.7 L634.2,145.7 L632.0,149.5Z" fill="#c4c81c"/><path d="M633.8,144.7 L638.2,144.7 L636.0,148.5Z" fill="#c4c81c"/><path d="M637.8,143.5 L642.2,143.5 L640.0,147.3Z" fill="#c4c81c"/><path d="M641.8,142.2 L646.2,142.2 L644.0,146.0Z" fill="#c4c81c"/><path d="M645.8,140.4 L650.2,140.4 L648.0,144.2Z" fill="#c4c81c"/><path d="M649.8,138.0 L654.2,138.0 L652.0,141.8Z" fill="#c4c81c"/><path d="M653.8,134.7 L658.2,134.7 L656.0,138.5Z" fill="#c4c81c"/><path d="M657.8,129.1 L662.2,129.1 L660.0,132.9Z" fill="#c4c81c"/><path d="M661.8,120.6 L666.2,120.6 L664.0,124.4Z" fill="#c4c81c"/><path d="M665.8,107.4 L670.2,107.4 L668.0,111.2Z" fill="#c4c81c"/><path d="M669.8,93.0 L674.2,93.0 L672.0,96.8Z" fill="#c4c81c"/><path d="M673.8,83.2 L678.2,83.2 L676.0,87.0Z" fill="#c4c81c"/><path d="M677.8,84.5 L682.2,84.5 L680.0,88.3Z" fill="#c4c81c"/><path d="M681.8,97.4 L686.2,97.4 L684.0,101.2Z" fill="#c4c81c"/><path d="M685.8,111.7 L690.2,111.7 L688.0,115.5Z" fill="#c4c81c"/><path d="M689.8,124.9 L694.2,124.9 L692.0,128.7Z" fill="#c4c81c"/><path d="M693.8,133.6 L698.2,133.6 L696.0,137.4Z" fill="#c4c81c"/><path d="M697.8,139.1 L702.2,139.1 L700.0,142.9Z" fill="#c4c81c"/><path d="M701.8,142.6 L706.2,142.6 L704.0,146.4Z" fill="#c4c81c"/><path d="M705.8,144.5 L710.2,144.5 L708.0,148.3Z" fill="#c4c81c"/><path d="M709.8,145.6 L714.2,145.6 L712.0,149.4Z" fill="#c4c81c"/><path d="M713.8,146.4 L718.2,146.4 L716.0,150.2Z" fill="#c4c81c"/><path d="M717.8,146.9 L722.2,146.9 L720.0,150.7Z" fill="#c4c81c"/><path d="M721.8,147.4 L726.2,147.4 L724.0,151.2Z" fill="#c4c81c"/><path d="M725.8,147.8 L730.2,147.8 L728.0,151.6Z" fill="#c4c81c"/><path d="M729.8,148.1 L734.2,148.1 L732.0,151.9Z" fill="#c4c81c"/><path d="M733.8,148.4 L738.2,148.4 L736.0,152.2Z" fill="#c4c81c"/><path d="M737.8,148.7 L742.2,148.7 L740.0,152.5Z" fill="#c4c81c"/><path d="M741.8,149.0 L746.2,149.0 L744.0,152.8Z" fill="#c4c81c"/><path d="M745.8,149.3 L750.2,149.3 L748.0,153.1Z" fill="#c4c81c"/></g>
<g clip-path="url(#cc)"><path d="M572.5,152.6 L575.1,152.5 L578.3,152.4 L582.3,152.3 L587.1,152.1 L593.0,151.9 L600.0,151.5 L609.1,151.0 L620.4,150.4 L632.7,149.7 L644.9,148.9 L655.8,148.1 L664.2,147.3 L669.9,146.4 L673.7,145.4 L676.2,144.5 L678.0,143.4 L679.5,142.3 L681.3,141.2 L683.2,139.8 L684.8,138.4 L686.1,136.9 L687.4,135.4 L688.5,133.9 L689.8,132.7 L691.1,131.5 L692.3,130.2 L693.6,129.0 L694.8,128.1 L696.0,127.5 L697.2,127.4 L698.5,127.9 L699.7,128.9 L700.9,130.2 L702.2,131.8 L703.5,133.3 L704.8,134.8 L706.1,136.2 L707.3,137.6 L708.6,139.1 L709.9,140.6 L711.5,142.0 L713.3,143.3 L715.4,144.5 L717.7,145.8 L720.3,146.9 L722.9,148.0 L725.6,148.9 L728.2,149.6 L731.0,150.1 L734.1,150.4 L737.1,150.6 L740.1,150.6 L742.7,150.7 L745.0,150.7 L746.7,150.8 L748.2,150.8 L749.3,150.8 L750.2,150.7 L751.0,150.7 L751.6,150.7" fill="none" stroke="#1e8c1e" stroke-width="1.3"/><path d="M572.7,153.9 L576.5,153.9 L574.6,150.3Z" fill="#1e8c1e"/><path d="M576.1,153.8 L579.9,153.8 L578.0,150.2Z" fill="#1e8c1e"/><path d="M579.5,153.7 L583.3,153.7 L581.4,150.1Z" fill="#1e8c1e"/><path d="M582.9,153.6 L586.7,153.6 L584.8,150.0Z" fill="#1e8c1e"/><path d="M586.3,153.5 L590.1,153.5 L588.2,149.9Z" fill="#1e8c1e"/><path d="M589.7,153.3 L593.5,153.3 L591.6,149.7Z" fill="#1e8c1e"/><path d="M593.1,153.2 L596.9,153.2 L595.0,149.6Z" fill="#1e8c1e"/><path d="M596.5,153.0 L600.3,153.0 L598.4,149.4Z" fill="#1e8c1e"/><path d="M599.9,152.8 L603.7,152.8 L601.8,149.2Z" fill="#1e8c1e"/><path d="M603.3,152.6 L607.1,152.6 L605.2,149.0Z" fill="#1e8c1e"/><path d="M606.7,152.4 L610.5,152.4 L608.6,148.8Z" fill="#1e8c1e"/><path d="M610.1,152.2 L613.9,152.2 L612.0,148.6Z" fill="#1e8c1e"/><path d="M613.5,152.1 L617.3,152.1 L615.4,148.5Z" fill="#1e8c1e"/><path d="M616.9,151.9 L620.7,151.9 L618.8,148.3Z" fill="#1e8c1e"/><path d="M620.3,151.7 L624.1,151.7 L622.2,148.1Z" fill="#1e8c1e"/><path d="M623.7,151.5 L627.5,151.5 L625.6,147.9Z" fill="#1e8c1e"/><path d="M627.1,151.3 L630.9,151.3 L629.0,147.7Z" fill="#1e8c1e"/><path d="M630.5,151.1 L634.3,151.1 L632.4,147.5Z" fill="#1e8c1e"/><path d="M633.9,150.9 L637.7,150.9 L635.8,147.3Z" fill="#1e8c1e"/><path d="M637.3,150.7 L641.1,150.7 L639.2,147.1Z" fill="#1e8c1e"/><path d="M640.7,150.5 L644.5,150.5 L642.6,146.9Z" fill="#1e8c1e"/><path d="M644.1,150.2 L647.9,150.2 L646.0,146.6Z" fill="#1e8c1e"/><path d="M647.5,150.0 L651.3,150.0 L649.4,146.4Z" fill="#1e8c1e"/><path d="M650.9,149.7 L654.7,149.7 L652.8,146.1Z" fill="#1e8c1e"/><path d="M654.3,149.5 L658.1,149.5 L656.2,145.9Z" fill="#1e8c1e"/><path d="M657.7,149.1 L661.5,149.1 L659.6,145.5Z" fill="#1e8c1e"/><path d="M661.1,148.8 L664.9,148.8 L663.0,145.2Z" fill="#1e8c1e"/><path d="M664.5,148.3 L668.3,148.3 L666.4,144.7Z" fill="#1e8c1e"/><path d="M667.9,147.8 L671.7,147.8 L669.8,144.2Z" fill="#1e8c1e"/><path d="M671.3,147.0 L675.1,147.0 L673.2,143.4Z" fill="#1e8c1e"/><path d="M674.7,145.7 L678.5,145.7 L676.6,142.1Z" fill="#1e8c1e"/><path d="M678.1,143.4 L681.9,143.4 L680.0,139.8Z" fill="#1e8c1e"/><path d="M681.5,141.1 L685.3,141.1 L683.4,137.5Z" fill="#1e8c1e"/><path d="M684.9,137.4 L688.7,137.4 L686.8,133.8Z" fill="#1e8c1e"/><path d="M688.3,133.7 L692.1,133.7 L690.2,130.1Z" fill="#1e8c1e"/><path d="M691.7,130.4 L695.5,130.4 L693.6,126.8Z" fill="#1e8c1e"/><path d="M695.1,128.8 L698.9,128.8 L697.0,125.2Z" fill="#1e8c1e"/><path d="M698.5,131.0 L702.3,131.0 L700.4,127.4Z" fill="#1e8c1e"/><path d="M701.9,135.1 L705.7,135.1 L703.8,131.5Z" fill="#1e8c1e"/><path d="M705.3,138.9 L709.1,138.9 L707.2,135.3Z" fill="#1e8c1e"/><path d="M708.7,142.6 L712.5,142.6 L710.6,139.0Z" fill="#1e8c1e"/><path d="M712.1,145.1 L715.9,145.1 L714.0,141.5Z" fill="#1e8c1e"/><path d="M715.5,147.0 L719.3,147.0 L717.4,143.4Z" fill="#1e8c1e"/><path d="M718.9,148.5 L722.7,148.5 L720.8,144.9Z" fill="#1e8c1e"/><path d="M722.3,149.8 L726.1,149.8 L724.2,146.2Z" fill="#1e8c1e"/><path d="M725.7,150.9 L729.5,150.9 L727.6,147.3Z" fill="#1e8c1e"/><path d="M729.1,151.5 L732.9,151.5 L731.0,147.9Z" fill="#1e8c1e"/><path d="M732.5,151.8 L736.3,151.8 L734.4,148.2Z" fill="#1e8c1e"/><path d="M735.9,152.0 L739.7,152.0 L737.8,148.4Z" fill="#1e8c1e"/><path d="M739.3,152.0 L743.1,152.0 L741.2,148.4Z" fill="#1e8c1e"/><path d="M742.7,152.1 L746.5,152.1 L744.6,148.5Z" fill="#1e8c1e"/><path d="M746.1,152.2 L749.9,152.2 L748.0,148.6Z" fill="#1e8c1e"/><path d="M749.5,152.1 L753.3,152.1 L751.4,148.5Z" fill="#1e8c1e"/></g>
<line x1="554" y1="23.4" x2="567.2" y2="23.4" stroke="#7a0a0a" stroke-width="1.8"/><circle cx="560.6" cy="23.4" r="2" fill="#7a0a0a"/>
<text x="581.8" y="26.9" font-family="Liberation Serif" font-weight="bold" font-size="9.5">Experimental</text>
<line x1="554" y1="35.9" x2="567.2" y2="35.9" stroke="#ff8a14" stroke-width="1.8" stroke-dasharray="2 2"/><circle cx="560.6" cy="35.9" r="2" fill="#ff8a14"/>
<text x="581.8" y="39.4" font-family="Liberation Serif" font-weight="bold" font-size="9.5">M-O (59.66%)</text>
<line x1="554" y1="49.9" x2="567.2" y2="49.9" stroke="#c4c81c" stroke-width="1.8"/><path d="M558.6,48.9 L562.6,48.9 L560.6,52.4Z" fill="#c4c81c"/>
<text x="581.8" y="53.4" font-family="Liberation Serif" font-weight="bold" font-size="9.5">V<tspan font-size="9.025" dy="4">0</tspan><tspan dy="-4" x="603.1999999999999">(29.12%)</tspan></text>
<line x1="554" y1="65" x2="567.2" y2="65" stroke="#1e8c1e" stroke-width="1.8"/><path d="M558.6,66 L562.6,66 L560.6,62.5Z" fill="#1e8c1e"/>
<text x="581.8" y="68.5" font-family="Liberation Serif" font-weight="bold" font-size="9.5">-OH (11.32%)</text>
<rect x="48" y="246.2" width="195.2" height="166.3" fill="none" stroke="#000" stroke-width="3"/>
<line x1="68.3" y1="413.8" x2="68.3" y2="417.8" stroke="#000" stroke-width="2.2"/>
<text x="68.3" y="436.9" font-family="Liberation Serif" font-weight="bold" font-size="14" text-anchor="middle" >526</text>
<line x1="109.4" y1="413.8" x2="109.4" y2="417.8" stroke="#000" stroke-width="2.2"/>
<text x="109.4" y="436.9" font-family="Liberation Serif" font-weight="bold" font-size="14" text-anchor="middle" >528</text>
<line x1="150.5" y1="413.8" x2="150.5" y2="417.8" stroke="#000" stroke-width="2.2"/>
<text x="150.5" y="436.9" font-family="Liberation Serif" font-weight="bold" font-size="14" text-anchor="middle" >530</text>
<line x1="191.6" y1="413.8" x2="191.6" y2="417.8" stroke="#000" stroke-width="2.2"/>
<text x="191.6" y="436.9" font-family="Liberation Serif" font-weight="bold" font-size="14" text-anchor="middle" >532</text>
<line x1="232.7" y1="413.8" x2="232.7" y2="417.8" stroke="#000" stroke-width="2.2"/>
<text x="232.7" y="436.9" font-family="Liberation Serif" font-weight="bold" font-size="14" text-anchor="middle" >534</text>
<text x="147.4" y="461.4" font-family="Liberation Serif" font-weight="bold" font-size="18.5" text-anchor="middle" >Binding Energy (eV)</text>
<text transform="translate(36.2,328.6) rotate(-90)" font-family="Liberation Serif" font-weight="bold" font-size="18.9" text-anchor="middle">Intensity (a.u)</text>
<text x="0" y="246.5" font-family="Liberation Serif" font-weight="bold" font-size="31" text-anchor="start" >(d)</text>
<text x="186" y="264.1" font-family="Liberation Serif" font-weight="bold" font-size="12.4" text-anchor="start" >With AA</text>
<text x="59.8" y="369.7" font-family="Liberation Serif" font-weight="bold" font-size="12.9" text-anchor="start" >Surface</text>
<g clip-path="url(#cd)"><path d="M80.5,399.4 L81.3,399.2 L82.4,399.0 L83.8,398.7 L85.3,398.4 L86.9,398.0 L88.4,397.5 L90.1,396.8 L91.8,395.9 L93.6,394.9 L95.4,394.1 L97.3,393.5 L99.1,393.5 L100.8,394.4 L102.6,395.9 L104.4,397.8 L106.1,399.6 L107.9,401.0 L109.7,401.5 L111.5,401.1 L113.3,400.0 L115.2,398.5 L117.0,396.7 L118.6,394.9 L120.0,393.3 L121.1,391.8 L122.0,390.2 L122.8,388.7 L123.5,387.1 L124.2,385.4 L124.9,383.6 L125.7,381.7 L126.5,379.8 L127.3,377.9 L128.1,375.8 L128.9,373.7 L129.7,371.5 L130.5,369.2 L131.4,366.8 L132.2,364.4 L133.0,361.9 L133.8,359.4 L134.6,356.9 L135.3,354.6 L135.9,352.5 L136.5,350.4 L137.0,348.1 L137.6,345.5 L138.2,342.3 L138.8,338.5 L139.4,334.1 L140.0,329.4 L140.6,324.6 L141.2,319.9 L141.9,315.6 L142.7,311.7 L143.5,308.1 L144.3,304.7 L145.2,301.2 L146.0,297.6 L146.8,293.5 L147.4,288.9 L148.0,283.8 L148.6,278.4 L149.1,273.2 L149.7,268.4 L150.4,264.5 L151.2,261.1 L152.2,257.9 L153.2,255.2 L154.2,253.2 L155.1,252.2 L156.0,252.3 L156.8,254.1 L157.5,257.4 L158.1,261.7 L158.8,266.3 L159.4,270.7 L160.1,274.2 L160.7,276.6 L161.3,278.5 L161.9,280.1 L162.5,281.8 L163.1,283.8 L163.8,286.4 L164.5,289.8 L165.3,293.8 L166.1,298.1 L166.9,302.6 L167.7,306.9 L168.5,310.8 L169.4,314.4 L170.2,317.9 L171.1,321.2 L172.0,324.4 L172.8,327.4 L173.5,330.1 L174.2,332.5 L174.8,334.4 L175.3,336.1 L175.9,337.8 L176.5,339.8 L177.0,342.3 L177.6,345.6 L178.3,349.5 L178.9,353.7 L179.5,357.8 L180.1,361.3 L180.7,364.1 L181.3,365.9 L181.9,367.0 L182.4,367.7 L183.0,368.1 L183.7,368.4 L184.4,368.9 L185.3,369.4 L186.2,369.7 L187.2,369.9 L188.3,370.2 L189.4,370.7 L190.5,371.5 L191.6,372.7 L192.7,374.3 L193.9,376.0 L195.1,377.8 L196.4,379.5 L197.7,381.1 L199.2,382.5 L200.7,383.8 L202.3,385.2 L204.0,386.4 L205.7,387.5 L207.5,388.5 L209.5,389.3 L211.6,389.8 L213.8,390.3 L216.0,390.8 L218.0,391.3 L219.7,392.1 L221.2,393.2 L222.4,394.5 L223.5,395.9 L224.5,397.2 L225.6,398.5 L226.9,399.4 L228.4,400.0 L230.0,400.4 L231.7,400.6 L233.5,400.8 L235.1,400.8 L236.7,400.7 L238.3,400.5 L239.9,400.1 L241.4,399.6 L242.9,399.1 L244.1,398.6 L244.9,398.3" fill="none" stroke="#7a0a0a" stroke-width="1.8" stroke-linejoin="round"/><circle cx="82.8" cy="398.9" r="2.1" fill="#7a0a0a"/><circle cx="86.4" cy="398.1" r="2.1" fill="#7a0a0a"/><circle cx="90.0" cy="396.9" r="2.1" fill="#7a0a0a"/><circle cx="93.6" cy="394.9" r="2.1" fill="#7a0a0a"/><circle cx="97.2" cy="393.6" r="2.1" fill="#7a0a0a"/><circle cx="100.8" cy="394.4" r="2.1" fill="#7a0a0a"/><circle cx="104.4" cy="397.8" r="2.1" fill="#7a0a0a"/><circle cx="108.0" cy="401.0" r="2.1" fill="#7a0a0a"/><circle cx="111.6" cy="401.0" r="2.1" fill="#7a0a0a"/><circle cx="115.2" cy="398.5" r="2.1" fill="#7a0a0a"/><circle cx="118.8" cy="394.7" r="2.1" fill="#7a0a0a"/><circle cx="122.4" cy="389.5" r="2.1" fill="#7a0a0a"/><circle cx="126.0" cy="381.1" r="2.1" fill="#7a0a0a"/><circle cx="129.6" cy="371.8" r="2.1" fill="#7a0a0a"/><circle cx="133.2" cy="361.4" r="2.1" fill="#7a0a0a"/><circle cx="136.8" cy="349.1" r="2.1" fill="#7a0a0a"/><circle cx="140.4" cy="325.9" r="2.1" fill="#7a0a0a"/><circle cx="144.0" cy="306.1" r="2.1" fill="#7a0a0a"/><circle cx="147.6" cy="287.6" r="2.1" fill="#7a0a0a"/><circle cx="151.2" cy="261.3" r="2.1" fill="#7a0a0a"/><circle cx="154.8" cy="252.5" r="2.1" fill="#7a0a0a"/><circle cx="158.4" cy="263.5" r="2.1" fill="#7a0a0a"/><circle cx="162.0" cy="280.5" r="2.1" fill="#7a0a0a"/><circle cx="165.6" cy="295.5" r="2.1" fill="#7a0a0a"/><circle cx="169.2" cy="313.6" r="2.1" fill="#7a0a0a"/><circle cx="172.8" cy="327.5" r="2.1" fill="#7a0a0a"/><circle cx="176.4" cy="339.7" r="2.1" fill="#7a0a0a"/><circle cx="180.0" cy="360.6" r="2.1" fill="#7a0a0a"/><circle cx="183.6" cy="368.4" r="2.1" fill="#7a0a0a"/><circle cx="187.2" cy="369.9" r="2.1" fill="#7a0a0a"/><circle cx="190.8" cy="371.8" r="2.1" fill="#7a0a0a"/><circle cx="194.4" cy="376.8" r="2.1" fill="#7a0a0a"/><circle cx="198.0" cy="381.3" r="2.1" fill="#7a0a0a"/><circle cx="201.6" cy="384.6" r="2.1" fill="#7a0a0a"/><circle cx="205.2" cy="387.2" r="2.1" fill="#7a0a0a"/><circle cx="208.8" cy="389.0" r="2.1" fill="#7a0a0a"/><circle cx="212.4" cy="390.0" r="2.1" fill="#7a0a0a"/><circle cx="216.0" cy="390.8" r="2.1" fill="#7a0a0a"/><circle cx="219.6" cy="392.0" r="2.1" fill="#7a0a0a"/><circle cx="223.2" cy="395.5" r="2.1" fill="#7a0a0a"/><circle cx="226.8" cy="399.3" r="2.1" fill="#7a0a0a"/><circle cx="230.4" cy="400.5" r="2.1" fill="#7a0a0a"/><circle cx="234.0" cy="400.8" r="2.1" fill="#7a0a0a"/><circle cx="237.6" cy="400.6" r="2.1" fill="#7a0a0a"/><circle cx="241.2" cy="399.7" r="2.1" fill="#7a0a0a"/><circle cx="244.8" cy="398.4" r="2.1" fill="#7a0a0a"/></g>
<g clip-path="url(#cd)"><path d="M80.5,397.5 L82.5,397.1 L85.2,396.6 L88.5,396.0 L92.0,395.3 L95.6,394.4 L99.1,393.5 L102.6,392.6 L106.4,391.5 L110.2,390.3 L113.9,389.1 L117.3,387.7 L120.0,386.1 L122.0,384.4 L123.5,382.5 L124.7,380.5 L125.6,378.3 L126.4,376.1 L127.3,373.9 L128.3,371.7 L129.1,369.4 L129.9,367.1 L130.7,364.6 L131.4,362.1 L132.2,359.3 L133.0,356.4 L133.8,353.2 L134.6,350.0 L135.4,346.6 L136.2,343.1 L137.0,339.7 L137.8,336.2 L138.6,332.7 L139.4,329.1 L140.2,325.5 L141.1,321.7 L141.9,317.9 L142.7,314.0 L143.6,309.9 L144.4,305.7 L145.3,301.6 L146.1,297.5 L146.8,293.5 L147.5,289.6 L148.1,285.5 L148.8,281.5 L149.3,277.8 L149.9,274.5 L150.4,271.8 L150.9,269.7 L151.2,268.0 L151.6,266.7 L151.9,265.9 L152.3,265.5 L152.8,265.7 L153.3,266.3 L153.9,267.3 L154.6,268.8 L155.2,270.8 L155.9,273.4 L156.5,276.6 L157.1,280.8 L157.7,286.0 L158.3,291.8 L158.9,297.7 L159.5,303.3 L160.1,308.1 L160.7,312.1 L161.2,315.6 L161.8,318.7 L162.4,321.7 L163.1,324.6 L163.8,327.8 L164.5,331.1 L165.3,334.4 L166.2,337.8 L167.0,341.0 L167.8,344.2 L168.5,347.1 L169.2,349.8 L169.9,352.3 L170.5,354.7 L171.1,357.0 L171.7,359.3 L172.3,361.7 L172.8,364.2 L173.4,366.7 L173.9,369.2 L174.5,371.6 L175.2,374.0 L176.0,376.3 L176.9,378.5 L177.8,380.7 L178.9,382.8 L180.1,384.8 L181.5,386.7 L183.1,388.5 L185.1,390.2 L187.3,391.8 L189.7,393.4 L192.2,394.7 L194.9,396.0 L197.7,397.0 L200.6,397.8 L203.6,398.3 L206.7,398.6 L210.0,398.9 L213.6,399.1 L217.4,399.4 L221.8,399.7 L227.0,399.9 L232.4,400.2 L237.5,400.4 L241.8,400.6 L244.9,400.7" fill="none" stroke="#ff8a14" stroke-width="1.5" stroke-dasharray="0.1 2.0" stroke-linecap="round"/><circle cx="80.5" cy="397.5" r="2.0" fill="#ff8a14"/><circle cx="84.0" cy="396.8" r="2.0" fill="#ff8a14"/><circle cx="87.5" cy="396.2" r="2.0" fill="#ff8a14"/><circle cx="91.0" cy="395.5" r="2.0" fill="#ff8a14"/><circle cx="94.5" cy="394.7" r="2.0" fill="#ff8a14"/><circle cx="98.0" cy="393.8" r="2.0" fill="#ff8a14"/><circle cx="101.5" cy="392.9" r="2.0" fill="#ff8a14"/><circle cx="105.0" cy="391.9" r="2.0" fill="#ff8a14"/><circle cx="108.5" cy="390.9" r="2.0" fill="#ff8a14"/><circle cx="112.0" cy="389.7" r="2.0" fill="#ff8a14"/><circle cx="115.5" cy="388.4" r="2.0" fill="#ff8a14"/><circle cx="119.0" cy="386.7" r="2.0" fill="#ff8a14"/><circle cx="122.5" cy="383.8" r="2.0" fill="#ff8a14"/><circle cx="126.0" cy="377.1" r="2.0" fill="#ff8a14"/><circle cx="129.5" cy="368.3" r="2.0" fill="#ff8a14"/><circle cx="133.0" cy="356.4" r="2.0" fill="#ff8a14"/><circle cx="136.5" cy="341.8" r="2.0" fill="#ff8a14"/><circle cx="140.0" cy="326.6" r="2.0" fill="#ff8a14"/><circle cx="143.5" cy="310.3" r="2.0" fill="#ff8a14"/><circle cx="147.0" cy="292.4" r="2.0" fill="#ff8a14"/><circle cx="150.5" cy="271.3" r="2.0" fill="#ff8a14"/><circle cx="154.0" cy="267.4" r="2.0" fill="#ff8a14"/><circle cx="157.5" cy="284.3" r="2.0" fill="#ff8a14"/><circle cx="161.0" cy="314.1" r="2.0" fill="#ff8a14"/><circle cx="164.5" cy="331.0" r="2.0" fill="#ff8a14"/><circle cx="168.0" cy="345.0" r="2.0" fill="#ff8a14"/><circle cx="171.5" cy="358.7" r="2.0" fill="#ff8a14"/><circle cx="175.0" cy="373.5" r="2.0" fill="#ff8a14"/><circle cx="178.5" cy="382.0" r="2.0" fill="#ff8a14"/><circle cx="182.0" cy="387.3" r="2.0" fill="#ff8a14"/><circle cx="185.5" cy="390.5" r="2.0" fill="#ff8a14"/><circle cx="189.0" cy="392.9" r="2.0" fill="#ff8a14"/><circle cx="192.5" cy="394.9" r="2.0" fill="#ff8a14"/><circle cx="196.0" cy="396.4" r="2.0" fill="#ff8a14"/><circle cx="199.5" cy="397.5" r="2.0" fill="#ff8a14"/><circle cx="203.0" cy="398.2" r="2.0" fill="#ff8a14"/><circle cx="206.5" cy="398.6" r="2.0" fill="#ff8a14"/><circle cx="210.0" cy="398.9" r="2.0" fill="#ff8a14"/><circle cx="213.5" cy="399.1" r="2.0" fill="#ff8a14"/><circle cx="217.0" cy="399.4" r="2.0" fill="#ff8a14"/><circle cx="220.5" cy="399.6" r="2.0" fill="#ff8a14"/><circle cx="224.0" cy="399.8" r="2.0" fill="#ff8a14"/><circle cx="227.5" cy="400.0" r="2.0" fill="#ff8a14"/><circle cx="231.0" cy="400.1" r="2.0" fill="#ff8a14"/><circle cx="234.5" cy="400.3" r="2.0" fill="#ff8a14"/><circle cx="238.0" cy="400.4" r="2.0" fill="#ff8a14"/><circle cx="241.5" cy="400.6" r="2.0" fill="#ff8a14"/></g>
<g clip-path="url(#cd)"><path d="M80.5,399.4 L85.0,399.4 L91.3,399.5 L98.7,399.6 L106.5,399.6 L113.8,399.4 L120.0,398.8 L125.1,398.0 L129.7,396.8 L133.9,395.4 L137.7,393.9 L141.1,392.4 L144.3,390.9 L147.1,389.4 L149.4,387.8 L151.5,386.2 L153.3,384.5 L154.9,382.8 L156.5,381.2 L158.0,379.6 L159.3,378.0 L160.5,376.4 L161.6,374.8 L162.7,373.1 L163.8,371.5 L164.9,369.8 L166.0,368.0 L167.0,366.2 L168.0,364.5 L169.0,363.0 L169.9,361.7 L170.7,360.6 L171.4,359.7 L172.1,358.9 L172.7,358.3 L173.3,358.0 L174.0,358.0 L174.7,358.4 L175.4,359.1 L176.1,360.1 L176.9,361.2 L177.6,362.6 L178.4,364.1 L179.1,365.8 L179.8,367.7 L180.6,369.8 L181.3,372.0 L182.2,374.2 L183.1,376.3 L184.1,378.4 L185.1,380.5 L186.2,382.7 L187.5,384.8 L188.9,386.8 L190.6,388.5 L192.3,390.0 L194.0,391.4 L195.8,392.7 L198.2,393.8 L201.2,394.9 L205.2,395.8 L210.8,396.6 L218.0,397.4 L226.0,398.0 L233.7,398.6 L240.3,399.0 L244.9,399.4" fill="none" stroke="#c4c81c" stroke-width="1.1"/><path d="M81.8,397.8 L86.2,397.8 L84.0,401.6Z" fill="#c4c81c"/><path d="M85.8,397.9 L90.2,397.9 L88.0,401.7Z" fill="#c4c81c"/><path d="M89.8,397.9 L94.2,397.9 L92.0,401.7Z" fill="#c4c81c"/><path d="M93.8,398.0 L98.2,398.0 L96.0,401.8Z" fill="#c4c81c"/><path d="M97.8,398.0 L102.2,398.0 L100.0,401.8Z" fill="#c4c81c"/><path d="M101.8,398.0 L106.2,398.0 L104.0,401.8Z" fill="#c4c81c"/><path d="M105.8,397.9 L110.2,397.9 L108.0,401.7Z" fill="#c4c81c"/><path d="M109.8,397.8 L114.2,397.8 L112.0,401.6Z" fill="#c4c81c"/><path d="M113.8,397.6 L118.2,397.6 L116.0,401.4Z" fill="#c4c81c"/><path d="M117.8,397.2 L122.2,397.2 L120.0,401.0Z" fill="#c4c81c"/><path d="M121.8,396.6 L126.2,396.6 L124.0,400.4Z" fill="#c4c81c"/><path d="M125.8,395.6 L130.2,395.6 L128.0,399.4Z" fill="#c4c81c"/><path d="M129.8,394.4 L134.2,394.4 L132.0,398.2Z" fill="#c4c81c"/><path d="M133.8,393.0 L138.2,393.0 L136.0,396.8Z" fill="#c4c81c"/><path d="M137.8,391.3 L142.2,391.3 L140.0,395.1Z" fill="#c4c81c"/><path d="M141.8,389.4 L146.2,389.4 L144.0,393.2Z" fill="#c4c81c"/><path d="M145.8,387.2 L150.2,387.2 L148.0,391.0Z" fill="#c4c81c"/><path d="M149.8,384.1 L154.2,384.1 L152.0,387.9Z" fill="#c4c81c"/><path d="M153.8,380.1 L158.2,380.1 L156.0,383.9Z" fill="#c4c81c"/><path d="M157.8,375.5 L162.2,375.5 L160.0,379.3Z" fill="#c4c81c"/><path d="M161.8,369.6 L166.2,369.6 L164.0,373.4Z" fill="#c4c81c"/><path d="M165.8,363.0 L170.2,363.0 L168.0,366.8Z" fill="#c4c81c"/><path d="M169.8,357.3 L174.2,357.3 L172.0,361.1Z" fill="#c4c81c"/><path d="M173.8,358.3 L178.2,358.3 L176.0,362.1Z" fill="#c4c81c"/><path d="M177.8,366.6 L182.2,366.6 L180.0,370.4Z" fill="#c4c81c"/><path d="M181.8,376.5 L186.2,376.5 L184.0,380.3Z" fill="#c4c81c"/><path d="M185.8,383.9 L190.2,383.9 L188.0,387.7Z" fill="#c4c81c"/><path d="M189.8,388.2 L194.2,388.2 L192.0,392.0Z" fill="#c4c81c"/><path d="M193.8,391.2 L198.2,391.2 L196.0,395.0Z" fill="#c4c81c"/><path d="M197.8,392.8 L202.2,392.8 L200.0,396.6Z" fill="#c4c81c"/><path d="M201.8,393.9 L206.2,393.9 L204.0,397.7Z" fill="#c4c81c"/><path d="M205.8,394.6 L210.2,394.6 L208.0,398.4Z" fill="#c4c81c"/><path d="M209.8,395.2 L214.2,395.2 L212.0,399.0Z" fill="#c4c81c"/><path d="M213.8,395.6 L218.2,395.6 L216.0,399.4Z" fill="#c4c81c"/><path d="M217.8,396.0 L222.2,396.0 L220.0,399.8Z" fill="#c4c81c"/><path d="M221.8,396.3 L226.2,396.3 L224.0,400.1Z" fill="#c4c81c"/><path d="M225.8,396.6 L230.2,396.6 L228.0,400.4Z" fill="#c4c81c"/><path d="M229.8,396.9 L234.2,396.9 L232.0,400.7Z" fill="#c4c81c"/><path d="M233.8,397.1 L238.2,397.1 L236.0,400.9Z" fill="#c4c81c"/><path d="M237.8,397.4 L242.2,397.4 L240.0,401.2Z" fill="#c4c81c"/><path d="M241.8,397.7 L246.2,397.7 L244.0,401.5Z" fill="#c4c81c"/></g>
<g clip-path="url(#cd)"><path d="M80.5,399.4 L84.8,399.5 L90.8,399.7 L98.0,399.9 L105.6,400.0 L113.1,399.9 L120.0,399.4 L126.5,398.4 L133.3,397.0 L140.0,395.4 L146.3,393.8 L151.9,392.2 L156.5,390.9 L160.0,389.9 L162.4,389.1 L164.2,388.4 L165.6,387.7 L167.0,386.9 L168.5,386.1 L170.3,385.1 L172.0,384.1 L173.6,382.9 L175.2,381.9 L176.8,380.9 L178.4,380.0 L180.0,379.3 L181.7,378.5 L183.4,377.9 L185.0,377.4 L186.6,377.1 L188.1,377.1 L189.4,377.3 L190.6,377.8 L191.7,378.5 L192.8,379.3 L194.0,380.3 L195.3,381.2 L196.8,382.3 L198.3,383.4 L199.9,384.7 L201.6,386.0 L203.3,387.3 L205.2,388.5 L206.9,389.6 L208.5,390.7 L210.1,391.8 L212.1,392.8 L214.4,393.7 L217.4,394.6 L221.4,395.4 L226.4,396.2 L231.9,396.8 L237.2,397.4 L241.8,397.9 L244.9,398.3" fill="none" stroke="#1e8c1e" stroke-width="1.3"/><path d="M79.7,400.8 L83.5,400.8 L81.6,397.2Z" fill="#1e8c1e"/><path d="M83.1,400.9 L86.9,400.9 L85.0,397.3Z" fill="#1e8c1e"/><path d="M86.5,401.0 L90.3,401.0 L88.4,397.4Z" fill="#1e8c1e"/><path d="M89.9,401.1 L93.7,401.1 L91.8,397.5Z" fill="#1e8c1e"/><path d="M93.3,401.2 L97.1,401.2 L95.2,397.6Z" fill="#1e8c1e"/><path d="M96.7,401.3 L100.5,401.3 L98.6,397.7Z" fill="#1e8c1e"/><path d="M100.1,401.4 L103.9,401.4 L102.0,397.8Z" fill="#1e8c1e"/><path d="M103.5,401.4 L107.3,401.4 L105.4,397.8Z" fill="#1e8c1e"/><path d="M106.9,401.3 L110.7,401.3 L108.8,397.7Z" fill="#1e8c1e"/><path d="M110.3,401.3 L114.1,401.3 L112.2,397.7Z" fill="#1e8c1e"/><path d="M113.7,401.1 L117.5,401.1 L115.6,397.5Z" fill="#1e8c1e"/><path d="M117.1,400.8 L120.9,400.8 L119.0,397.2Z" fill="#1e8c1e"/><path d="M120.5,400.4 L124.3,400.4 L122.4,396.8Z" fill="#1e8c1e"/><path d="M123.9,399.9 L127.7,399.9 L125.8,396.3Z" fill="#1e8c1e"/><path d="M127.3,399.3 L131.1,399.3 L129.2,395.7Z" fill="#1e8c1e"/><path d="M130.7,398.6 L134.5,398.6 L132.6,395.0Z" fill="#1e8c1e"/><path d="M134.1,397.8 L137.9,397.8 L136.0,394.2Z" fill="#1e8c1e"/><path d="M137.5,397.0 L141.3,397.0 L139.4,393.4Z" fill="#1e8c1e"/><path d="M140.9,396.1 L144.7,396.1 L142.8,392.5Z" fill="#1e8c1e"/><path d="M144.3,395.2 L148.1,395.2 L146.2,391.6Z" fill="#1e8c1e"/><path d="M147.7,394.2 L151.5,394.2 L149.6,390.6Z" fill="#1e8c1e"/><path d="M151.1,393.3 L154.9,393.3 L153.0,389.7Z" fill="#1e8c1e"/><path d="M154.5,392.3 L158.3,392.3 L156.4,388.7Z" fill="#1e8c1e"/><path d="M157.9,391.3 L161.7,391.3 L159.8,387.7Z" fill="#1e8c1e"/><path d="M161.3,390.2 L165.1,390.2 L163.2,386.6Z" fill="#1e8c1e"/><path d="M164.7,388.5 L168.5,388.5 L166.6,384.9Z" fill="#1e8c1e"/><path d="M168.1,386.7 L171.9,386.7 L170.0,383.1Z" fill="#1e8c1e"/><path d="M171.5,384.5 L175.3,384.5 L173.4,380.9Z" fill="#1e8c1e"/><path d="M174.9,382.2 L178.7,382.2 L176.8,378.6Z" fill="#1e8c1e"/><path d="M178.3,380.6 L182.1,380.6 L180.2,377.0Z" fill="#1e8c1e"/><path d="M181.7,379.2 L185.5,379.2 L183.6,375.6Z" fill="#1e8c1e"/><path d="M185.1,378.5 L188.9,378.5 L187.0,374.9Z" fill="#1e8c1e"/><path d="M188.5,379.2 L192.3,379.2 L190.4,375.6Z" fill="#1e8c1e"/><path d="M191.9,381.5 L195.7,381.5 L193.8,377.9Z" fill="#1e8c1e"/><path d="M195.3,384.0 L199.1,384.0 L197.2,380.4Z" fill="#1e8c1e"/><path d="M198.7,386.7 L202.5,386.7 L200.6,383.1Z" fill="#1e8c1e"/><path d="M202.1,389.1 L205.9,389.1 L204.0,385.5Z" fill="#1e8c1e"/><path d="M205.5,391.4 L209.3,391.4 L207.4,387.8Z" fill="#1e8c1e"/><path d="M208.9,393.5 L212.7,393.5 L210.8,389.9Z" fill="#1e8c1e"/><path d="M212.3,395.1 L216.1,395.1 L214.2,391.5Z" fill="#1e8c1e"/><path d="M215.7,396.1 L219.5,396.1 L217.6,392.5Z" fill="#1e8c1e"/><path d="M219.1,396.7 L222.9,396.7 L221.0,393.1Z" fill="#1e8c1e"/><path d="M222.5,397.3 L226.3,397.3 L224.4,393.7Z" fill="#1e8c1e"/><path d="M225.9,397.7 L229.7,397.7 L227.8,394.1Z" fill="#1e8c1e"/><path d="M229.3,398.2 L233.1,398.2 L231.2,394.6Z" fill="#1e8c1e"/><path d="M232.7,398.5 L236.5,398.5 L234.6,394.9Z" fill="#1e8c1e"/><path d="M236.1,398.9 L239.9,398.9 L238.0,395.3Z" fill="#1e8c1e"/><path d="M239.5,399.3 L243.3,399.3 L241.4,395.7Z" fill="#1e8c1e"/><path d="M242.9,399.7 L246.7,399.7 L244.8,396.1Z" fill="#1e8c1e"/></g>
<line x1="51.3" y1="255.6" x2="64.6" y2="255.6" stroke="#7a0a0a" stroke-width="1.8"/><circle cx="57.949999999999996" cy="255.6" r="2" fill="#7a0a0a"/>
<text x="81.8" y="259.1" font-family="Liberation Serif" font-weight="bold" font-size="10.5">Experimental</text>
<line x1="51.3" y1="268.3" x2="64.6" y2="268.3" stroke="#ff8a14" stroke-width="1.8" stroke-dasharray="2 2"/><circle cx="57.949999999999996" cy="268.3" r="2" fill="#ff8a14"/>
<text x="81.8" y="271.8" font-family="Liberation Serif" font-weight="bold" font-size="10.5">M-O (67.2%)</text>
<line x1="51.3" y1="282.1" x2="64.6" y2="282.1" stroke="#c4c81c" stroke-width="1.8"/><path d="M55.949999999999996,281.1 L59.949999999999996,281.1 L57.949999999999996,284.6Z" fill="#c4c81c"/>
<text x="81.8" y="285.6" font-family="Liberation Serif" font-weight="bold" font-size="10.5">V<tspan font-size="7.56" dy="4">O</tspan><tspan dy="-4" x="105.3">(22.1%)</tspan></text>
<line x1="51.3" y1="297.3" x2="64.6" y2="297.3" stroke="#1e8c1e" stroke-width="1.8"/><path d="M55.949999999999996,298.3 L59.949999999999996,298.3 L57.949999999999996,294.8Z" fill="#1e8c1e"/>
<text x="81.8" y="300.8" font-family="Liberation Serif" font-weight="bold" font-size="10.5">-OH (9.5%)</text>
<rect x="294.8" y="245.9" width="200.89999999999998" height="169.9" fill="none" stroke="#000" stroke-width="3"/>
<line x1="294.9" y1="417.3" x2="294.9" y2="421.1" stroke="#000" stroke-width="2.2"/>
<text x="294.9" y="439.5" font-family="Liberation Serif" font-weight="bold" font-size="14" text-anchor="middle" >526</text>
<line x1="345.0" y1="417.3" x2="345.0" y2="421.1" stroke="#000" stroke-width="2.2"/>
<text x="345.0" y="439.5" font-family="Liberation Serif" font-weight="bold" font-size="14" text-anchor="middle" >528</text>
<line x1="395.2" y1="417.3" x2="395.2" y2="421.1" stroke="#000" stroke-width="2.2"/>
<text x="395.2" y="439.5" font-family="Liberation Serif" font-weight="bold" font-size="14" text-anchor="middle" >530</text>
<line x1="445.3" y1="417.3" x2="445.3" y2="421.1" stroke="#000" stroke-width="2.2"/>
<text x="445.3" y="439.5" font-family="Liberation Serif" font-weight="bold" font-size="14" text-anchor="middle" >532</text>
<line x1="495.5" y1="417.3" x2="495.5" y2="421.1" stroke="#000" stroke-width="2.2"/>
<text x="495.5" y="439.5" font-family="Liberation Serif" font-weight="bold" font-size="14" text-anchor="middle" >534</text>
<text x="394.9" y="463.4" font-family="Liberation Serif" font-weight="bold" font-size="17.9" text-anchor="middle" >Binding Energy (eV)</text>
<text transform="translate(279.3,330.8) rotate(-90)" font-family="Liberation Serif" font-weight="bold" font-size="18.1" text-anchor="middle">Intensity (a.u)</text>
<text x="251" y="246.5" font-family="Liberation Serif" font-weight="bold" font-size="31" text-anchor="start" >(e)</text>
<text x="437.6" y="263.6" font-family="Liberation Serif" font-weight="bold" font-size="12.4" text-anchor="start" >With AA</text>
<text x="315.6" y="359" font-family="Liberation Serif" font-weight="bold" font-size="12.4" text-anchor="start" >Bulk</text>
<g clip-path="url(#ce)"><path d="M294.6,396.4 L297.1,396.1 L300.7,395.7 L304.9,395.2 L309.4,394.6 L313.8,394.0 L317.9,393.4 L321.8,392.8 L325.7,392.1 L329.6,391.4 L333.3,390.7 L336.8,390.0 L340.0,389.4 L342.8,388.8 L345.3,388.2 L347.5,387.6 L349.6,387.1 L351.7,386.6 L353.7,386.0 L355.8,385.5 L357.8,385.0 L359.7,384.5 L361.5,383.9 L363.3,383.3 L365.1,382.5 L366.8,381.6 L368.4,380.6 L370.0,379.4 L371.4,378.2 L372.9,377.0 L374.3,375.6 L375.5,374.3 L376.7,373.0 L377.8,371.6 L378.9,370.1 L380.0,368.4 L381.1,366.5 L382.3,364.3 L383.4,361.9 L384.6,359.4 L385.7,356.6 L386.8,353.7 L388.0,350.6 L389.1,347.2 L390.2,343.6 L391.4,339.7 L392.5,335.8 L393.7,331.8 L394.8,327.8 L395.9,323.7 L397.1,319.6 L398.2,315.4 L399.4,311.2 L400.5,306.9 L401.7,302.7 L402.9,298.4 L404.1,293.9 L405.3,289.4 L406.5,285.0 L407.6,281.0 L408.6,277.5 L409.5,274.4 L410.3,271.8 L411.0,269.4 L411.6,267.4 L412.3,265.5 L413.1,263.7 L413.9,262.1 L414.7,260.7 L415.5,259.4 L416.3,258.4 L417.1,257.5 L417.7,256.9 L418.2,256.4 L418.6,256.2 L418.9,256.2 L419.2,256.3 L419.5,256.5 L420.0,256.9 L420.6,257.2 L421.4,257.6 L422.2,258.1 L423.0,258.9 L423.8,259.9 L424.6,261.4 L425.3,263.4 L426.1,265.8 L426.8,268.6 L427.6,271.5 L428.4,274.5 L429.1,277.5 L429.9,280.3 L430.6,283.3 L431.4,286.3 L432.2,289.4 L432.9,292.5 L433.7,295.7 L434.5,299.1 L435.2,302.7 L436.0,306.3 L436.8,309.9 L437.5,313.3 L438.3,316.4 L439.1,319.1 L439.8,321.6 L440.6,323.9 L441.3,326.0 L442.1,328.1 L442.8,330.1 L443.6,332.2 L444.3,334.2 L445.1,336.1 L445.9,338.0 L446.6,339.8 L447.4,341.5 L448.1,343.2 L448.9,344.8 L449.7,346.4 L450.5,347.9 L451.2,349.3 L452.0,350.6 L452.7,351.7 L453.3,352.7 L454.0,353.7 L454.7,354.6 L455.5,355.5 L456.5,356.4 L457.8,357.3 L459.2,358.1 L460.7,359.0 L462.3,359.8 L464.0,360.8 L465.7,361.9 L467.5,363.3 L469.3,364.8 L471.3,366.4 L473.2,368.0 L475.2,369.6 L477.1,371.1 L479.0,372.5 L481.0,374.0 L483.0,375.3 L484.9,376.7 L486.8,378.0 L488.5,379.1 L490.1,380.3 L491.7,381.3 L493.1,382.3 L494.5,383.2 L495.8,384.1 L497.0,384.8 L498.1,385.4 L499.0,386.0 L499.9,386.4 L500.7,386.8 L501.3,387.1 L501.8,387.3" fill="none" stroke="#7a0a0a" stroke-width="1.8" stroke-linejoin="round"/><circle cx="295.2" cy="396.3" r="2.1" fill="#7a0a0a"/><circle cx="298.8" cy="395.9" r="2.1" fill="#7a0a0a"/><circle cx="302.4" cy="395.5" r="2.1" fill="#7a0a0a"/><circle cx="306.0" cy="395.0" r="2.1" fill="#7a0a0a"/><circle cx="309.6" cy="394.6" r="2.1" fill="#7a0a0a"/><circle cx="313.2" cy="394.1" r="2.1" fill="#7a0a0a"/><circle cx="316.8" cy="393.6" r="2.1" fill="#7a0a0a"/><circle cx="320.4" cy="393.0" r="2.1" fill="#7a0a0a"/><circle cx="324.0" cy="392.4" r="2.1" fill="#7a0a0a"/><circle cx="327.6" cy="391.8" r="2.1" fill="#7a0a0a"/><circle cx="331.2" cy="391.1" r="2.1" fill="#7a0a0a"/><circle cx="334.8" cy="390.4" r="2.1" fill="#7a0a0a"/><circle cx="338.4" cy="389.7" r="2.1" fill="#7a0a0a"/><circle cx="342.0" cy="388.9" r="2.1" fill="#7a0a0a"/><circle cx="345.6" cy="388.1" r="2.1" fill="#7a0a0a"/><circle cx="349.2" cy="387.2" r="2.1" fill="#7a0a0a"/><circle cx="352.8" cy="386.3" r="2.1" fill="#7a0a0a"/><circle cx="356.4" cy="385.3" r="2.1" fill="#7a0a0a"/><circle cx="360.0" cy="384.4" r="2.1" fill="#7a0a0a"/><circle cx="363.6" cy="383.2" r="2.1" fill="#7a0a0a"/><circle cx="367.2" cy="381.3" r="2.1" fill="#7a0a0a"/><circle cx="370.8" cy="378.7" r="2.1" fill="#7a0a0a"/><circle cx="374.4" cy="375.5" r="2.1" fill="#7a0a0a"/><circle cx="378.0" cy="371.4" r="2.1" fill="#7a0a0a"/><circle cx="381.6" cy="365.6" r="2.1" fill="#7a0a0a"/><circle cx="385.2" cy="357.8" r="2.1" fill="#7a0a0a"/><circle cx="388.8" cy="348.1" r="2.1" fill="#7a0a0a"/><circle cx="392.4" cy="336.2" r="2.1" fill="#7a0a0a"/><circle cx="396.0" cy="323.5" r="2.1" fill="#7a0a0a"/><circle cx="399.6" cy="310.4" r="2.1" fill="#7a0a0a"/><circle cx="403.2" cy="297.1" r="2.1" fill="#7a0a0a"/><circle cx="406.8" cy="283.8" r="2.1" fill="#7a0a0a"/><circle cx="410.4" cy="271.3" r="2.1" fill="#7a0a0a"/><circle cx="414.0" cy="261.8" r="2.1" fill="#7a0a0a"/><circle cx="417.6" cy="257.0" r="2.1" fill="#7a0a0a"/><circle cx="421.2" cy="257.5" r="2.1" fill="#7a0a0a"/><circle cx="424.8" cy="262.0" r="2.1" fill="#7a0a0a"/><circle cx="428.4" cy="274.7" r="2.1" fill="#7a0a0a"/><circle cx="432.0" cy="288.7" r="2.1" fill="#7a0a0a"/><circle cx="435.6" cy="304.4" r="2.1" fill="#7a0a0a"/><circle cx="439.2" cy="319.6" r="2.1" fill="#7a0a0a"/><circle cx="442.8" cy="330.1" r="2.1" fill="#7a0a0a"/><circle cx="446.4" cy="339.3" r="2.1" fill="#7a0a0a"/><circle cx="450.0" cy="347.0" r="2.1" fill="#7a0a0a"/><circle cx="453.6" cy="353.1" r="2.1" fill="#7a0a0a"/><circle cx="457.2" cy="356.9" r="2.1" fill="#7a0a0a"/><circle cx="460.8" cy="359.0" r="2.1" fill="#7a0a0a"/><circle cx="464.4" cy="361.1" r="2.1" fill="#7a0a0a"/><circle cx="468.0" cy="363.7" r="2.1" fill="#7a0a0a"/><circle cx="471.6" cy="366.6" r="2.1" fill="#7a0a0a"/><circle cx="475.2" cy="369.6" r="2.1" fill="#7a0a0a"/><circle cx="478.8" cy="372.3" r="2.1" fill="#7a0a0a"/><circle cx="482.4" cy="374.9" r="2.1" fill="#7a0a0a"/><circle cx="486.0" cy="377.4" r="2.1" fill="#7a0a0a"/><circle cx="489.6" cy="379.9" r="2.1" fill="#7a0a0a"/><circle cx="493.2" cy="382.4" r="2.1" fill="#7a0a0a"/><circle cx="496.8" cy="384.7" r="2.1" fill="#7a0a0a"/><circle cx="500.4" cy="386.7" r="2.1" fill="#7a0a0a"/></g>
<g clip-path="url(#ce)"><path d="M317.9,389.7 L320.4,389.4 L324.0,389.0 L328.1,388.6 L332.4,388.1 L336.5,387.6 L340.0,387.2 L342.8,386.8 L345.3,386.5 L347.5,386.1 L349.6,385.8 L351.7,385.3 L353.7,384.8 L355.8,384.2 L357.8,383.6 L359.7,382.8 L361.5,382.1 L363.3,381.2 L365.1,380.3 L366.8,379.3 L368.4,378.3 L370.0,377.2 L371.4,376.0 L372.9,374.7 L374.3,373.4 L375.5,372.1 L376.7,370.8 L377.8,369.4 L378.9,367.9 L380.0,366.2 L381.1,364.3 L382.3,362.1 L383.4,359.7 L384.6,357.1 L385.7,354.3 L386.8,351.4 L388.0,348.3 L389.1,345.0 L390.2,341.6 L391.4,338.0 L392.5,334.2 L393.7,330.4 L394.8,326.6 L395.9,322.8 L397.1,318.9 L398.2,314.9 L399.4,310.9 L400.5,306.8 L401.7,302.7 L402.9,298.5 L404.1,294.0 L405.3,289.6 L406.4,285.2 L407.6,281.1 L408.6,277.5 L409.5,274.0 L410.4,270.6 L411.2,267.4 L412.0,264.7 L412.8,262.8 L413.6,261.8 L414.5,262.0 L415.4,263.1 L416.3,265.0 L417.2,267.4 L418.0,270.1 L418.8,272.9 L419.5,276.1 L420.1,279.8 L420.7,283.8 L421.2,287.9 L421.8,292.0 L422.3,295.7 L422.9,299.1 L423.4,302.5 L424.0,305.7 L424.6,308.9 L425.1,312.0 L425.7,315.1 L426.3,318.1 L426.8,321.1 L427.4,324.1 L428.0,326.9 L428.5,329.7 L429.1,332.3 L429.7,334.8 L430.3,337.2 L430.8,339.5 L431.4,341.7 L432.0,343.9 L432.6,346.0 L433.1,348.0 L433.7,350.0 L434.2,351.8 L434.8,353.7 L435.3,355.5 L436.0,357.4 L436.6,359.4 L437.3,361.3 L438.0,363.3 L438.7,365.3 L439.6,367.1 L440.5,368.8 L441.4,370.4 L442.4,371.8 L443.5,373.1 L444.7,374.4 L445.9,375.6 L447.4,376.8 L448.9,378.1 L450.6,379.3 L452.4,380.5 L454.3,381.7 L456.4,382.7 L458.8,383.7 L461.4,384.5 L464.3,385.1 L467.3,385.7 L470.5,386.2 L473.8,386.6 L477.0,387.0 L480.4,387.4 L484.0,387.6 L487.7,387.8 L491.2,388.0 L494.3,388.1 L496.8,388.2 L498.6,388.3 L499.7,388.3 L500.5,388.3 L501.0,388.2 L501.4,388.2 L501.8,388.2" fill="none" stroke="#ff8a14" stroke-width="1.5" stroke-dasharray="0.1 2.0" stroke-linecap="round"/><circle cx="318.5" cy="389.6" r="2.0" fill="#ff8a14"/><circle cx="322.0" cy="389.2" r="2.0" fill="#ff8a14"/><circle cx="325.5" cy="388.8" r="2.0" fill="#ff8a14"/><circle cx="329.0" cy="388.5" r="2.0" fill="#ff8a14"/><circle cx="332.5" cy="388.1" r="2.0" fill="#ff8a14"/><circle cx="336.0" cy="387.7" r="2.0" fill="#ff8a14"/><circle cx="339.5" cy="387.2" r="2.0" fill="#ff8a14"/><circle cx="343.0" cy="386.8" r="2.0" fill="#ff8a14"/><circle cx="346.5" cy="386.3" r="2.0" fill="#ff8a14"/><circle cx="350.0" cy="385.7" r="2.0" fill="#ff8a14"/><circle cx="353.5" cy="384.9" r="2.0" fill="#ff8a14"/><circle cx="357.0" cy="383.8" r="2.0" fill="#ff8a14"/><circle cx="360.5" cy="382.5" r="2.0" fill="#ff8a14"/><circle cx="364.0" cy="380.9" r="2.0" fill="#ff8a14"/><circle cx="367.5" cy="378.9" r="2.0" fill="#ff8a14"/><circle cx="371.0" cy="376.3" r="2.0" fill="#ff8a14"/><circle cx="374.5" cy="373.2" r="2.0" fill="#ff8a14"/><circle cx="378.0" cy="369.2" r="2.0" fill="#ff8a14"/><circle cx="381.5" cy="363.6" r="2.0" fill="#ff8a14"/><circle cx="385.0" cy="356.0" r="2.0" fill="#ff8a14"/><circle cx="388.5" cy="346.8" r="2.0" fill="#ff8a14"/><circle cx="392.0" cy="335.9" r="2.0" fill="#ff8a14"/><circle cx="395.5" cy="324.3" r="2.0" fill="#ff8a14"/><circle cx="399.0" cy="312.2" r="2.0" fill="#ff8a14"/><circle cx="402.5" cy="299.7" r="2.0" fill="#ff8a14"/><circle cx="406.0" cy="286.8" r="2.0" fill="#ff8a14"/><circle cx="409.5" cy="274.2" r="2.0" fill="#ff8a14"/><circle cx="413.0" cy="262.6" r="2.0" fill="#ff8a14"/><circle cx="416.5" cy="265.5" r="2.0" fill="#ff8a14"/><circle cx="420.0" cy="279.2" r="2.0" fill="#ff8a14"/><circle cx="423.5" cy="302.8" r="2.0" fill="#ff8a14"/><circle cx="427.0" cy="322.0" r="2.0" fill="#ff8a14"/><circle cx="430.5" cy="338.2" r="2.0" fill="#ff8a14"/><circle cx="434.0" cy="351.2" r="2.0" fill="#ff8a14"/><circle cx="437.5" cy="361.9" r="2.0" fill="#ff8a14"/><circle cx="441.0" cy="369.7" r="2.0" fill="#ff8a14"/><circle cx="444.5" cy="374.2" r="2.0" fill="#ff8a14"/><circle cx="448.0" cy="377.3" r="2.0" fill="#ff8a14"/><circle cx="451.5" cy="379.9" r="2.0" fill="#ff8a14"/><circle cx="455.0" cy="382.0" r="2.0" fill="#ff8a14"/><circle cx="458.5" cy="383.6" r="2.0" fill="#ff8a14"/><circle cx="462.0" cy="384.6" r="2.0" fill="#ff8a14"/><circle cx="465.5" cy="385.4" r="2.0" fill="#ff8a14"/><circle cx="469.0" cy="386.0" r="2.0" fill="#ff8a14"/><circle cx="472.5" cy="386.5" r="2.0" fill="#ff8a14"/><circle cx="476.0" cy="386.9" r="2.0" fill="#ff8a14"/><circle cx="479.5" cy="387.3" r="2.0" fill="#ff8a14"/><circle cx="483.0" cy="387.6" r="2.0" fill="#ff8a14"/><circle cx="486.5" cy="387.8" r="2.0" fill="#ff8a14"/><circle cx="490.0" cy="387.9" r="2.0" fill="#ff8a14"/><circle cx="493.5" cy="388.1" r="2.0" fill="#ff8a14"/><circle cx="497.0" cy="388.2" r="2.0" fill="#ff8a14"/><circle cx="500.5" cy="388.3" r="2.0" fill="#ff8a14"/></g>
<g clip-path="url(#ce)"><path d="M317.9,392.6 L320.2,392.6 L323.2,392.7 L326.9,392.9 L331.0,393.0 L335.5,393.0 L340.1,392.9 L345.2,392.6 L351.0,392.3 L357.1,391.9 L363.3,391.5 L369.1,391.0 L374.3,390.5 L378.8,390.1 L382.9,389.6 L386.8,389.1 L390.3,388.6 L393.7,387.9 L397.0,387.2 L400.1,386.3 L403.0,385.2 L405.7,384.1 L408.3,382.9 L410.7,381.6 L413.1,380.3 L415.3,378.9 L417.4,377.5 L419.3,376.0 L421.2,374.5 L423.0,372.8 L424.7,371.2 L426.4,369.4 L428.0,367.5 L429.5,365.5 L431.0,363.5 L432.4,361.6 L433.9,359.7 L435.5,357.8 L437.0,355.7 L438.6,353.7 L440.1,351.9 L441.6,350.6 L443.0,350.0 L444.3,350.2 L445.4,351.0 L446.6,352.4 L447.6,354.0 L448.7,355.7 L449.8,357.4 L450.9,359.1 L452.0,360.9 L453.1,362.9 L454.2,364.9 L455.4,366.9 L456.7,368.8 L458.0,370.8 L459.4,372.9 L460.9,375.0 L462.4,377.0 L464.0,378.8 L465.7,380.3 L467.4,381.5 L469.0,382.4 L470.7,383.1 L472.6,383.7 L474.7,384.3 L477.1,384.8 L480.1,385.4 L483.6,385.8 L487.4,386.3 L491.0,386.6 L494.3,386.9 L496.8,387.2 L498.5,387.3 L499.7,387.4 L500.5,387.4 L501.0,387.4 L501.4,387.3 L501.8,387.3" fill="none" stroke="#c4c81c" stroke-width="1.1"/><path d="M317.8,391.0 L322.2,391.0 L320.0,394.8Z" fill="#c4c81c"/><path d="M321.8,391.2 L326.2,391.2 L324.0,395.0Z" fill="#c4c81c"/><path d="M325.8,391.3 L330.2,391.3 L328.0,395.1Z" fill="#c4c81c"/><path d="M329.8,391.4 L334.2,391.4 L332.0,395.2Z" fill="#c4c81c"/><path d="M333.8,391.4 L338.2,391.4 L336.0,395.2Z" fill="#c4c81c"/><path d="M337.8,391.3 L342.2,391.3 L340.0,395.1Z" fill="#c4c81c"/><path d="M341.8,391.1 L346.2,391.1 L344.0,394.9Z" fill="#c4c81c"/><path d="M345.8,390.9 L350.2,390.9 L348.0,394.7Z" fill="#c4c81c"/><path d="M349.8,390.7 L354.2,390.7 L352.0,394.5Z" fill="#c4c81c"/><path d="M353.8,390.4 L358.2,390.4 L356.0,394.2Z" fill="#c4c81c"/><path d="M357.8,390.1 L362.2,390.1 L360.0,393.9Z" fill="#c4c81c"/><path d="M361.8,389.8 L366.2,389.8 L364.0,393.6Z" fill="#c4c81c"/><path d="M365.8,389.5 L370.2,389.5 L368.0,393.3Z" fill="#c4c81c"/><path d="M369.8,389.1 L374.2,389.1 L372.0,392.9Z" fill="#c4c81c"/><path d="M373.8,388.8 L378.2,388.8 L376.0,392.6Z" fill="#c4c81c"/><path d="M377.8,388.3 L382.2,388.3 L380.0,392.1Z" fill="#c4c81c"/><path d="M381.8,387.9 L386.2,387.9 L384.0,391.7Z" fill="#c4c81c"/><path d="M385.8,387.3 L390.2,387.3 L388.0,391.1Z" fill="#c4c81c"/><path d="M389.8,386.7 L394.2,386.7 L392.0,390.5Z" fill="#c4c81c"/><path d="M393.8,385.8 L398.2,385.8 L396.0,389.6Z" fill="#c4c81c"/><path d="M397.8,384.7 L402.2,384.7 L400.0,388.5Z" fill="#c4c81c"/><path d="M401.8,383.2 L406.2,383.2 L404.0,387.0Z" fill="#c4c81c"/><path d="M405.8,381.4 L410.2,381.4 L408.0,385.2Z" fill="#c4c81c"/><path d="M409.8,379.3 L414.2,379.3 L412.0,383.1Z" fill="#c4c81c"/><path d="M413.8,376.9 L418.2,376.9 L416.0,380.7Z" fill="#c4c81c"/><path d="M417.8,373.9 L422.2,373.9 L420.0,377.7Z" fill="#c4c81c"/><path d="M421.8,370.3 L426.2,370.3 L424.0,374.1Z" fill="#c4c81c"/><path d="M425.8,365.8 L430.2,365.8 L428.0,369.6Z" fill="#c4c81c"/><path d="M429.8,360.5 L434.2,360.5 L432.0,364.3Z" fill="#c4c81c"/><path d="M433.8,355.5 L438.2,355.5 L436.0,359.3Z" fill="#c4c81c"/><path d="M437.8,350.5 L442.2,350.5 L440.0,354.3Z" fill="#c4c81c"/><path d="M441.8,348.5 L446.2,348.5 L444.0,352.3Z" fill="#c4c81c"/><path d="M445.8,353.0 L450.2,353.0 L448.0,356.8Z" fill="#c4c81c"/><path d="M449.8,359.3 L454.2,359.3 L452.0,363.1Z" fill="#c4c81c"/><path d="M453.8,366.2 L458.2,366.2 L456.0,370.0Z" fill="#c4c81c"/><path d="M457.8,372.1 L462.2,372.1 L460.0,375.9Z" fill="#c4c81c"/><path d="M461.8,377.2 L466.2,377.2 L464.0,381.0Z" fill="#c4c81c"/><path d="M465.8,380.2 L470.2,380.2 L468.0,384.0Z" fill="#c4c81c"/><path d="M469.8,381.9 L474.2,381.9 L472.0,385.7Z" fill="#c4c81c"/><path d="M473.8,383.0 L478.2,383.0 L476.0,386.8Z" fill="#c4c81c"/><path d="M477.8,383.7 L482.2,383.7 L480.0,387.5Z" fill="#c4c81c"/><path d="M481.8,384.3 L486.2,384.3 L484.0,388.1Z" fill="#c4c81c"/><path d="M485.8,384.7 L490.2,384.7 L488.0,388.5Z" fill="#c4c81c"/><path d="M489.8,385.1 L494.2,385.1 L492.0,388.9Z" fill="#c4c81c"/><path d="M493.8,385.5 L498.2,385.5 L496.0,389.3Z" fill="#c4c81c"/><path d="M497.8,385.8 L502.2,385.8 L500.0,389.6Z" fill="#c4c81c"/></g>
<g clip-path="url(#ce)"><path d="M317.9,394.0 L319.8,394.1 L321.9,394.2 L324.7,394.3 L328.4,394.3 L333.4,394.2 L340.0,394.0 L349.2,393.6 L360.9,393.1 L374.0,392.5 L387.1,391.8 L399.0,391.1 L408.6,390.5 L415.7,390.0 L421.3,389.4 L425.7,388.9 L429.4,388.4 L432.7,387.8 L436.0,387.2 L439.1,386.5 L441.7,385.7 L443.9,384.9 L445.8,384.1 L447.7,383.3 L449.7,382.5 L451.8,381.7 L453.8,380.9 L455.7,380.1 L457.5,379.4 L459.3,378.6 L461.1,378.0 L462.7,377.4 L464.3,376.7 L465.8,376.2 L467.3,375.7 L468.8,375.4 L470.3,375.2 L471.8,375.4 L473.3,375.7 L474.8,376.2 L476.4,376.7 L477.9,377.4 L479.4,378.0 L480.9,378.6 L482.5,379.4 L484.0,380.2 L485.5,381.0 L487.0,381.8 L488.5,382.5 L490.0,383.2 L491.5,383.8 L493.0,384.5 L494.4,385.0 L495.8,385.6 L497.0,386.0 L498.1,386.4 L499.0,386.7 L499.9,386.9 L500.7,387.1 L501.3,387.2 L501.8,387.3" fill="none" stroke="#1e8c1e" stroke-width="1.3"/><path d="M317.7,395.5 L321.5,395.5 L319.6,391.9Z" fill="#1e8c1e"/><path d="M321.1,395.6 L324.9,395.6 L323.0,392.0Z" fill="#1e8c1e"/><path d="M324.5,395.7 L328.3,395.7 L326.4,392.1Z" fill="#1e8c1e"/><path d="M327.9,395.7 L331.7,395.7 L329.8,392.1Z" fill="#1e8c1e"/><path d="M331.3,395.6 L335.1,395.6 L333.2,392.0Z" fill="#1e8c1e"/><path d="M334.7,395.5 L338.5,395.5 L336.6,391.9Z" fill="#1e8c1e"/><path d="M338.1,395.4 L341.9,395.4 L340.0,391.8Z" fill="#1e8c1e"/><path d="M341.5,395.3 L345.3,395.3 L343.4,391.7Z" fill="#1e8c1e"/><path d="M344.9,395.1 L348.7,395.1 L346.8,391.5Z" fill="#1e8c1e"/><path d="M348.3,395.0 L352.1,395.0 L350.2,391.4Z" fill="#1e8c1e"/><path d="M351.7,394.9 L355.5,394.9 L353.6,391.3Z" fill="#1e8c1e"/><path d="M355.1,394.7 L358.9,394.7 L357.0,391.1Z" fill="#1e8c1e"/><path d="M358.5,394.5 L362.3,394.5 L360.4,390.9Z" fill="#1e8c1e"/><path d="M361.9,394.4 L365.7,394.4 L363.8,390.8Z" fill="#1e8c1e"/><path d="M365.3,394.2 L369.1,394.2 L367.2,390.6Z" fill="#1e8c1e"/><path d="M368.7,394.1 L372.5,394.1 L370.6,390.5Z" fill="#1e8c1e"/><path d="M372.1,393.9 L375.9,393.9 L374.0,390.3Z" fill="#1e8c1e"/><path d="M375.5,393.7 L379.3,393.7 L377.4,390.1Z" fill="#1e8c1e"/><path d="M378.9,393.5 L382.7,393.5 L380.8,389.9Z" fill="#1e8c1e"/><path d="M382.3,393.4 L386.1,393.4 L384.2,389.8Z" fill="#1e8c1e"/><path d="M385.7,393.2 L389.5,393.2 L387.6,389.6Z" fill="#1e8c1e"/><path d="M389.1,393.0 L392.9,393.0 L391.0,389.4Z" fill="#1e8c1e"/><path d="M392.5,392.8 L396.3,392.8 L394.4,389.2Z" fill="#1e8c1e"/><path d="M395.9,392.6 L399.7,392.6 L397.8,389.0Z" fill="#1e8c1e"/><path d="M399.3,392.4 L403.1,392.4 L401.2,388.8Z" fill="#1e8c1e"/><path d="M402.7,392.2 L406.5,392.2 L404.6,388.6Z" fill="#1e8c1e"/><path d="M406.1,392.0 L409.9,392.0 L408.0,388.4Z" fill="#1e8c1e"/><path d="M409.5,391.7 L413.3,391.7 L411.4,388.1Z" fill="#1e8c1e"/><path d="M412.9,391.4 L416.7,391.4 L414.8,387.8Z" fill="#1e8c1e"/><path d="M416.3,391.1 L420.1,391.1 L418.2,387.5Z" fill="#1e8c1e"/><path d="M419.7,390.8 L423.5,390.8 L421.6,387.2Z" fill="#1e8c1e"/><path d="M423.1,390.4 L426.9,390.4 L425.0,386.8Z" fill="#1e8c1e"/><path d="M426.5,389.9 L430.3,389.9 L428.4,386.3Z" fill="#1e8c1e"/><path d="M429.9,389.4 L433.7,389.4 L431.8,385.8Z" fill="#1e8c1e"/><path d="M433.3,388.7 L437.1,388.7 L435.2,385.1Z" fill="#1e8c1e"/><path d="M436.7,388.0 L440.5,388.0 L438.6,384.4Z" fill="#1e8c1e"/><path d="M440.1,387.0 L443.9,387.0 L442.0,383.4Z" fill="#1e8c1e"/><path d="M443.5,385.7 L447.3,385.7 L445.4,382.1Z" fill="#1e8c1e"/><path d="M446.9,384.3 L450.7,384.3 L448.8,380.7Z" fill="#1e8c1e"/><path d="M450.3,382.9 L454.1,382.9 L452.2,379.3Z" fill="#1e8c1e"/><path d="M453.7,381.6 L457.5,381.6 L455.6,378.0Z" fill="#1e8c1e"/><path d="M457.1,380.2 L460.9,380.2 L459.0,376.6Z" fill="#1e8c1e"/><path d="M460.5,378.9 L464.3,378.9 L462.4,375.3Z" fill="#1e8c1e"/><path d="M463.9,377.6 L467.7,377.6 L465.8,374.0Z" fill="#1e8c1e"/><path d="M467.3,376.7 L471.1,376.7 L469.2,373.1Z" fill="#1e8c1e"/><path d="M470.7,376.9 L474.5,376.9 L472.6,373.3Z" fill="#1e8c1e"/><path d="M474.1,378.0 L477.9,378.0 L476.0,374.4Z" fill="#1e8c1e"/><path d="M477.5,379.4 L481.3,379.4 L479.4,375.8Z" fill="#1e8c1e"/><path d="M480.9,381.0 L484.7,381.0 L482.8,377.4Z" fill="#1e8c1e"/><path d="M484.3,382.8 L488.1,382.8 L486.2,379.2Z" fill="#1e8c1e"/><path d="M487.7,384.4 L491.5,384.4 L489.6,380.8Z" fill="#1e8c1e"/><path d="M491.1,385.9 L494.9,385.9 L493.0,382.3Z" fill="#1e8c1e"/><path d="M494.5,387.2 L498.3,387.2 L496.4,383.6Z" fill="#1e8c1e"/><path d="M497.9,388.3 L501.7,388.3 L499.8,384.7Z" fill="#1e8c1e"/></g>
<line x1="299.8" y1="261.3" x2="312.7" y2="261.3" stroke="#7a0a0a" stroke-width="1.8"/><circle cx="306.25" cy="261.3" r="2" fill="#7a0a0a"/>
<text x="328.1" y="264.8" font-family="Liberation Serif" font-weight="bold" font-size="10.3">Experimental</text>
<line x1="299.8" y1="273.5" x2="312.7" y2="273.5" stroke="#ff8a14" stroke-width="1.8" stroke-dasharray="2 2"/><circle cx="306.25" cy="273.5" r="2" fill="#ff8a14"/>
<text x="328.1" y="277.0" font-family="Liberation Serif" font-weight="bold" font-size="10.3">M-O (69.71%)</text>
<line x1="299.8" y1="287.5" x2="312.7" y2="287.5" stroke="#c4c81c" stroke-width="1.8"/><path d="M304.25,286.5 L308.25,286.5 L306.25,290.0Z" fill="#c4c81c"/>
<text x="328.1" y="291.0" font-family="Liberation Serif" font-weight="bold" font-size="10.3">V<tspan font-size="9.785" dy="4">0</tspan><tspan dy="-4" x="350.1">(22.22%)</tspan></text>
<line x1="299.8" y1="303.6" x2="312.7" y2="303.6" stroke="#1e8c1e" stroke-width="1.8"/><path d="M304.25,304.6 L308.25,304.6 L306.25,301.1Z" fill="#1e8c1e"/>
<text x="328.1" y="307.1" font-family="Liberation Serif" font-weight="bold" font-size="10.3">-OH (8.07%)</text>
<rect x="545.9" y="246.9" width="197.39999999999998" height="166.35" fill="none" stroke="#000" stroke-width="3"/>
<line x1="545.6" y1="414.8" x2="545.6" y2="419.40000000000003" stroke="#000" stroke-width="2.2"/>
<text x="545.6" y="437.4" font-family="Liberation Serif" font-weight="bold" font-size="14" text-anchor="middle" >526</text>
<line x1="595.0" y1="414.8" x2="595.0" y2="419.40000000000003" stroke="#000" stroke-width="2.2"/>
<text x="595.0" y="437.4" font-family="Liberation Serif" font-weight="bold" font-size="14" text-anchor="middle" >528</text>
<line x1="644.3" y1="414.8" x2="644.3" y2="419.40000000000003" stroke="#000" stroke-width="2.2"/>
<text x="644.3" y="437.4" font-family="Liberation Serif" font-weight="bold" font-size="14" text-anchor="middle" >530</text>
<line x1="693.7" y1="414.8" x2="693.7" y2="419.40000000000003" stroke="#000" stroke-width="2.2"/>
<text x="693.7" y="437.4" font-family="Liberation Serif" font-weight="bold" font-size="14" text-anchor="middle" >532</text>
<line x1="743.0" y1="414.8" x2="743.0" y2="419.40000000000003" stroke="#000" stroke-width="2.2"/>
<text x="743.0" y="437.4" font-family="Liberation Serif" font-weight="bold" font-size="14" text-anchor="middle" >534</text>
<text x="644.2" y="463.4" font-family="Liberation Serif" font-weight="bold" font-size="16.9" text-anchor="middle" >Binding Energy (eV)</text>
<text transform="translate(539.0,330.1) rotate(-90)" font-family="Liberation Serif" font-weight="bold" font-size="18.4" text-anchor="middle">Intensity (a.u)</text>
<text x="505" y="246.5" font-family="Liberation Serif" font-weight="bold" font-size="31" text-anchor="start" >(f)</text>
<text x="691.6" y="264.2" font-family="Liberation Serif" font-weight="bold" font-size="12.4" text-anchor="start" >With AA</text>
<text x="557.9" y="368.6" font-family="Liberation Serif" font-weight="bold" font-size="12.2" text-anchor="start" >Interface</text>
<g clip-path="url(#cf)"><path d="M545.7,398.4 L551.1,398.2 L559.0,398.0 L568.1,397.6 L577.4,397.2 L585.9,396.7 L592.4,396.1 L596.7,395.4 L599.7,394.6 L601.8,393.8 L603.5,392.8 L605.1,391.4 L607.0,389.7 L609.1,387.4 L611.2,384.7 L613.2,381.8 L615.1,378.6 L616.9,375.4 L618.6,372.1 L620.2,369.0 L621.8,366.0 L623.2,362.8 L624.6,359.5 L626.0,355.8 L627.4,351.7 L628.9,347.0 L630.3,341.9 L631.8,336.4 L633.3,330.8 L634.8,325.1 L636.1,319.6 L637.4,314.2 L638.7,308.6 L639.9,303.0 L641.0,297.6 L642.2,292.4 L643.4,287.5 L644.7,283.0 L645.9,278.5 L647.2,274.4 L648.4,270.5 L649.6,267.1 L650.7,264.2 L651.8,261.9 L652.8,260.1 L653.7,258.7 L654.7,257.6 L655.6,256.8 L656.6,256.0 L657.5,255.4 L658.5,254.9 L659.5,254.7 L660.4,254.6 L661.4,254.9 L662.4,255.4 L663.3,256.1 L664.2,257.0 L665.1,258.1 L666.1,259.6 L667.1,261.6 L668.2,264.2 L669.5,267.6 L670.9,271.7 L672.4,276.4 L674.0,281.3 L675.5,286.0 L677.0,290.4 L678.4,294.4 L679.8,298.1 L681.2,301.7 L682.6,305.5 L684.1,309.4 L685.7,313.8 L687.5,318.8 L689.5,324.4 L691.6,330.2 L693.6,335.9 L695.6,341.3 L697.4,345.9 L699.0,349.6 L700.5,352.8 L702.0,355.6 L703.4,358.1 L704.7,360.6 L706.2,363.4 L707.6,366.4 L709.0,369.7 L710.4,372.9 L711.8,375.9 L713.3,378.7 L714.9,380.9 L716.6,382.5 L718.4,383.7 L720.2,384.5 L722.2,385.1 L724.3,385.8 L726.6,386.7 L729.4,388.0 L732.6,389.3 L736.1,390.7 L739.3,392.1 L742.1,393.2 L744.1,394.0" fill="none" stroke="#7a0a0a" stroke-width="1.8" stroke-linejoin="round"/><circle cx="547.2" cy="398.4" r="2.1" fill="#7a0a0a"/><circle cx="550.8" cy="398.2" r="2.1" fill="#7a0a0a"/><circle cx="554.4" cy="398.1" r="2.1" fill="#7a0a0a"/><circle cx="558.0" cy="398.0" r="2.1" fill="#7a0a0a"/><circle cx="561.6" cy="397.9" r="2.1" fill="#7a0a0a"/><circle cx="565.2" cy="397.7" r="2.1" fill="#7a0a0a"/><circle cx="568.8" cy="397.6" r="2.1" fill="#7a0a0a"/><circle cx="572.4" cy="397.5" r="2.1" fill="#7a0a0a"/><circle cx="576.0" cy="397.3" r="2.1" fill="#7a0a0a"/><circle cx="579.6" cy="397.1" r="2.1" fill="#7a0a0a"/><circle cx="583.2" cy="396.9" r="2.1" fill="#7a0a0a"/><circle cx="586.8" cy="396.6" r="2.1" fill="#7a0a0a"/><circle cx="590.4" cy="396.3" r="2.1" fill="#7a0a0a"/><circle cx="594.0" cy="395.8" r="2.1" fill="#7a0a0a"/><circle cx="597.6" cy="395.2" r="2.1" fill="#7a0a0a"/><circle cx="601.2" cy="394.1" r="2.1" fill="#7a0a0a"/><circle cx="604.8" cy="391.6" r="2.1" fill="#7a0a0a"/><circle cx="608.4" cy="388.1" r="2.1" fill="#7a0a0a"/><circle cx="612.0" cy="383.5" r="2.1" fill="#7a0a0a"/><circle cx="615.6" cy="377.6" r="2.1" fill="#7a0a0a"/><circle cx="619.2" cy="371.0" r="2.1" fill="#7a0a0a"/><circle cx="622.8" cy="363.7" r="2.1" fill="#7a0a0a"/><circle cx="626.4" cy="354.5" r="2.1" fill="#7a0a0a"/><circle cx="630.0" cy="343.1" r="2.1" fill="#7a0a0a"/><circle cx="633.6" cy="329.7" r="2.1" fill="#7a0a0a"/><circle cx="637.2" cy="315.1" r="2.1" fill="#7a0a0a"/><circle cx="640.8" cy="298.7" r="2.1" fill="#7a0a0a"/><circle cx="644.4" cy="283.9" r="2.1" fill="#7a0a0a"/><circle cx="648.0" cy="271.7" r="2.1" fill="#7a0a0a"/><circle cx="651.6" cy="262.2" r="2.1" fill="#7a0a0a"/><circle cx="655.2" cy="257.1" r="2.1" fill="#7a0a0a"/><circle cx="658.8" cy="254.8" r="2.1" fill="#7a0a0a"/><circle cx="662.4" cy="255.4" r="2.1" fill="#7a0a0a"/><circle cx="666.0" cy="259.5" r="2.1" fill="#7a0a0a"/><circle cx="669.6" cy="267.8" r="2.1" fill="#7a0a0a"/><circle cx="673.2" cy="278.9" r="2.1" fill="#7a0a0a"/><circle cx="676.8" cy="289.9" r="2.1" fill="#7a0a0a"/><circle cx="680.4" cy="299.7" r="2.1" fill="#7a0a0a"/><circle cx="684.0" cy="309.1" r="2.1" fill="#7a0a0a"/><circle cx="687.6" cy="318.9" r="2.1" fill="#7a0a0a"/><circle cx="691.2" cy="329.1" r="2.1" fill="#7a0a0a"/><circle cx="694.8" cy="339.1" r="2.1" fill="#7a0a0a"/><circle cx="698.4" cy="348.2" r="2.1" fill="#7a0a0a"/><circle cx="702.0" cy="355.6" r="2.1" fill="#7a0a0a"/><circle cx="705.6" cy="362.3" r="2.1" fill="#7a0a0a"/><circle cx="709.2" cy="370.2" r="2.1" fill="#7a0a0a"/><circle cx="712.8" cy="377.8" r="2.1" fill="#7a0a0a"/><circle cx="716.4" cy="382.3" r="2.1" fill="#7a0a0a"/><circle cx="720.0" cy="384.4" r="2.1" fill="#7a0a0a"/><circle cx="723.6" cy="385.6" r="2.1" fill="#7a0a0a"/><circle cx="727.2" cy="387.0" r="2.1" fill="#7a0a0a"/><circle cx="730.8" cy="388.6" r="2.1" fill="#7a0a0a"/><circle cx="734.4" cy="390.1" r="2.1" fill="#7a0a0a"/><circle cx="738.0" cy="391.5" r="2.1" fill="#7a0a0a"/><circle cx="741.6" cy="393.0" r="2.1" fill="#7a0a0a"/></g>
<g clip-path="url(#cf)"><path d="M545.7,396.9 L551.1,396.2 L558.7,395.1 L567.7,393.8 L577.0,392.4 L585.6,391.0 L592.4,389.7 L597.4,388.5 L601.5,387.5 L604.9,386.6 L607.8,385.4 L610.4,384.1 L612.8,382.4 L614.9,380.3 L616.6,378.1 L617.9,375.7 L619.1,373.0 L620.2,369.8 L621.5,366.3 L623.0,362.3 L624.5,357.8 L625.9,352.9 L627.4,347.8 L628.8,342.5 L630.3,337.1 L631.8,331.6 L633.2,325.7 L634.7,319.6 L636.1,313.6 L637.6,307.7 L639.0,302.1 L640.5,296.6 L642.1,291.1 L643.6,285.7 L645.1,280.7 L646.5,276.4 L647.8,272.9 L648.9,270.3 L649.8,268.3 L650.6,267.0 L651.3,266.3 L652.2,266.4 L653.1,267.1 L654.1,268.7 L655.1,271.3 L656.2,274.5 L657.3,278.2 L658.4,282.1 L659.5,286.1 L660.5,290.2 L661.5,294.8 L662.4,299.7 L663.4,304.5 L664.3,309.3 L665.3,313.8 L666.2,317.9 L667.1,321.8 L668.0,325.5 L669.0,329.3 L670.0,333.1 L671.1,337.1 L672.4,341.4 L673.7,346.0 L675.2,350.6 L676.7,355.2 L678.2,359.5 L679.9,363.4 L681.6,366.9 L683.4,370.2 L685.2,373.2 L687.1,376.0 L689.3,378.6 L691.6,380.9 L693.9,382.9 L696.3,384.6 L698.9,386.0 L701.7,387.3 L705.1,388.5 L709.1,389.7 L714.3,390.9 L720.8,392.0 L727.7,393.1 L734.4,394.1 L740.1,394.9 L744.1,395.5" fill="none" stroke="#ff8a14" stroke-width="1.5" stroke-dasharray="0.1 2.0" stroke-linecap="round"/><circle cx="546.0" cy="396.9" r="2.0" fill="#ff8a14"/><circle cx="549.5" cy="396.4" r="2.0" fill="#ff8a14"/><circle cx="553.0" cy="395.9" r="2.0" fill="#ff8a14"/><circle cx="556.5" cy="395.4" r="2.0" fill="#ff8a14"/><circle cx="560.0" cy="394.9" r="2.0" fill="#ff8a14"/><circle cx="563.5" cy="394.4" r="2.0" fill="#ff8a14"/><circle cx="567.0" cy="393.9" r="2.0" fill="#ff8a14"/><circle cx="570.5" cy="393.3" r="2.0" fill="#ff8a14"/><circle cx="574.0" cy="392.8" r="2.0" fill="#ff8a14"/><circle cx="577.5" cy="392.3" r="2.0" fill="#ff8a14"/><circle cx="581.0" cy="391.7" r="2.0" fill="#ff8a14"/><circle cx="584.5" cy="391.1" r="2.0" fill="#ff8a14"/><circle cx="588.0" cy="390.5" r="2.0" fill="#ff8a14"/><circle cx="591.5" cy="389.8" r="2.0" fill="#ff8a14"/><circle cx="595.0" cy="389.1" r="2.0" fill="#ff8a14"/><circle cx="598.5" cy="388.3" r="2.0" fill="#ff8a14"/><circle cx="602.0" cy="387.4" r="2.0" fill="#ff8a14"/><circle cx="605.5" cy="386.3" r="2.0" fill="#ff8a14"/><circle cx="609.0" cy="384.8" r="2.0" fill="#ff8a14"/><circle cx="612.5" cy="382.6" r="2.0" fill="#ff8a14"/><circle cx="616.0" cy="378.9" r="2.0" fill="#ff8a14"/><circle cx="619.5" cy="371.8" r="2.0" fill="#ff8a14"/><circle cx="623.0" cy="362.3" r="2.0" fill="#ff8a14"/><circle cx="626.5" cy="350.9" r="2.0" fill="#ff8a14"/><circle cx="630.0" cy="338.2" r="2.0" fill="#ff8a14"/><circle cx="633.5" cy="324.5" r="2.0" fill="#ff8a14"/><circle cx="637.0" cy="310.1" r="2.0" fill="#ff8a14"/><circle cx="640.5" cy="296.8" r="2.0" fill="#ff8a14"/><circle cx="644.0" cy="284.5" r="2.0" fill="#ff8a14"/><circle cx="647.5" cy="273.8" r="2.0" fill="#ff8a14"/><circle cx="651.0" cy="266.6" r="2.0" fill="#ff8a14"/><circle cx="654.5" cy="269.8" r="2.0" fill="#ff8a14"/><circle cx="658.0" cy="280.6" r="2.0" fill="#ff8a14"/><circle cx="661.5" cy="295.0" r="2.0" fill="#ff8a14"/><circle cx="665.0" cy="312.4" r="2.0" fill="#ff8a14"/><circle cx="668.5" cy="327.4" r="2.0" fill="#ff8a14"/><circle cx="672.0" cy="340.1" r="2.0" fill="#ff8a14"/><circle cx="675.5" cy="351.7" r="2.0" fill="#ff8a14"/><circle cx="679.0" cy="361.3" r="2.0" fill="#ff8a14"/><circle cx="682.5" cy="368.6" r="2.0" fill="#ff8a14"/><circle cx="686.0" cy="374.4" r="2.0" fill="#ff8a14"/><circle cx="689.5" cy="378.8" r="2.0" fill="#ff8a14"/><circle cx="693.0" cy="382.1" r="2.0" fill="#ff8a14"/><circle cx="696.5" cy="384.7" r="2.0" fill="#ff8a14"/><circle cx="700.0" cy="386.5" r="2.0" fill="#ff8a14"/><circle cx="703.5" cy="387.9" r="2.0" fill="#ff8a14"/><circle cx="707.0" cy="389.0" r="2.0" fill="#ff8a14"/><circle cx="710.5" cy="390.0" r="2.0" fill="#ff8a14"/><circle cx="714.0" cy="390.8" r="2.0" fill="#ff8a14"/><circle cx="717.5" cy="391.4" r="2.0" fill="#ff8a14"/><circle cx="721.0" cy="392.1" r="2.0" fill="#ff8a14"/><circle cx="724.5" cy="392.6" r="2.0" fill="#ff8a14"/><circle cx="728.0" cy="393.2" r="2.0" fill="#ff8a14"/><circle cx="731.5" cy="393.7" r="2.0" fill="#ff8a14"/><circle cx="735.0" cy="394.2" r="2.0" fill="#ff8a14"/><circle cx="738.5" cy="394.7" r="2.0" fill="#ff8a14"/><circle cx="742.0" cy="395.2" r="2.0" fill="#ff8a14"/></g>
<g clip-path="url(#cf)"><path d="M545.7,400.7 L554.5,400.5 L567.1,400.2 L581.8,399.8 L596.9,399.4 L610.7,398.9 L621.5,398.4 L629.2,397.9 L635.2,397.4 L639.8,396.9 L643.6,396.2 L647.1,395.3 L650.7,394.0 L654.4,392.4 L657.6,390.4 L660.6,388.1 L663.3,385.7 L665.8,383.3 L668.2,380.9 L670.5,378.5 L672.6,376.1 L674.6,373.6 L676.4,371.1 L678.1,368.6 L679.9,366.3 L681.6,363.9 L683.3,361.4 L685.0,358.9 L686.5,356.7 L688.0,355.0 L689.5,354.1 L690.9,353.9 L692.1,354.4 L693.3,355.4 L694.6,356.8 L695.9,358.5 L697.4,360.5 L699.1,362.8 L700.9,365.7 L702.8,368.9 L704.8,372.2 L706.9,375.3 L709.1,378.0 L711.3,380.3 L713.5,382.5 L715.8,384.5 L718.3,386.4 L720.9,388.1 L723.7,389.7 L727.0,391.0 L730.8,392.2 L734.8,393.3 L738.6,394.2 L741.8,394.9 L744.1,395.5" fill="none" stroke="#c4c81c" stroke-width="1.1"/><path d="M545.8,399.1 L550.2,399.1 L548.0,402.9Z" fill="#c4c81c"/><path d="M549.8,399.0 L554.2,399.0 L552.0,402.8Z" fill="#c4c81c"/><path d="M553.8,398.9 L558.2,398.9 L556.0,402.7Z" fill="#c4c81c"/><path d="M557.8,398.8 L562.2,398.8 L560.0,402.6Z" fill="#c4c81c"/><path d="M561.8,398.7 L566.2,398.7 L564.0,402.5Z" fill="#c4c81c"/><path d="M565.8,398.6 L570.2,398.6 L568.0,402.4Z" fill="#c4c81c"/><path d="M569.8,398.5 L574.2,398.5 L572.0,402.3Z" fill="#c4c81c"/><path d="M573.8,398.4 L578.2,398.4 L576.0,402.2Z" fill="#c4c81c"/><path d="M577.8,398.3 L582.2,398.3 L580.0,402.1Z" fill="#c4c81c"/><path d="M581.8,398.2 L586.2,398.2 L584.0,402.0Z" fill="#c4c81c"/><path d="M585.8,398.1 L590.2,398.1 L588.0,401.9Z" fill="#c4c81c"/><path d="M589.8,398.0 L594.2,398.0 L592.0,401.8Z" fill="#c4c81c"/><path d="M593.8,397.8 L598.2,397.8 L596.0,401.6Z" fill="#c4c81c"/><path d="M597.8,397.7 L602.2,397.7 L600.0,401.5Z" fill="#c4c81c"/><path d="M601.8,397.6 L606.2,397.6 L604.0,401.4Z" fill="#c4c81c"/><path d="M605.8,397.4 L610.2,397.4 L608.0,401.2Z" fill="#c4c81c"/><path d="M609.8,397.3 L614.2,397.3 L612.0,401.1Z" fill="#c4c81c"/><path d="M613.8,397.1 L618.2,397.1 L616.0,400.9Z" fill="#c4c81c"/><path d="M617.8,396.9 L622.2,396.9 L620.0,400.7Z" fill="#c4c81c"/><path d="M621.8,396.6 L626.2,396.6 L624.0,400.4Z" fill="#c4c81c"/><path d="M625.8,396.4 L630.2,396.4 L628.0,400.2Z" fill="#c4c81c"/><path d="M629.8,396.1 L634.2,396.1 L632.0,399.9Z" fill="#c4c81c"/><path d="M633.8,395.7 L638.2,395.7 L636.0,399.5Z" fill="#c4c81c"/><path d="M637.8,395.3 L642.2,395.3 L640.0,399.1Z" fill="#c4c81c"/><path d="M641.8,394.5 L646.2,394.5 L644.0,398.3Z" fill="#c4c81c"/><path d="M645.8,393.4 L650.2,393.4 L648.0,397.2Z" fill="#c4c81c"/><path d="M649.8,391.8 L654.2,391.8 L652.0,395.6Z" fill="#c4c81c"/><path d="M653.8,389.8 L658.2,389.8 L656.0,393.6Z" fill="#c4c81c"/><path d="M657.8,386.9 L662.2,386.9 L660.0,390.7Z" fill="#c4c81c"/><path d="M661.8,383.4 L666.2,383.4 L664.0,387.2Z" fill="#c4c81c"/><path d="M665.8,379.5 L670.2,379.5 L668.0,383.3Z" fill="#c4c81c"/><path d="M669.8,375.2 L674.2,375.2 L672.0,379.0Z" fill="#c4c81c"/><path d="M673.8,370.0 L678.2,370.0 L676.0,373.8Z" fill="#c4c81c"/><path d="M677.8,364.6 L682.2,364.6 L680.0,368.4Z" fill="#c4c81c"/><path d="M681.8,358.7 L686.2,358.7 L684.0,362.5Z" fill="#c4c81c"/><path d="M685.8,353.4 L690.2,353.4 L688.0,357.2Z" fill="#c4c81c"/><path d="M689.8,352.7 L694.2,352.7 L692.0,356.5Z" fill="#c4c81c"/><path d="M693.8,357.1 L698.2,357.1 L696.0,360.9Z" fill="#c4c81c"/><path d="M697.8,362.7 L702.2,362.7 L700.0,366.5Z" fill="#c4c81c"/><path d="M701.8,369.2 L706.2,369.2 L704.0,373.0Z" fill="#c4c81c"/><path d="M705.8,375.0 L710.2,375.0 L708.0,378.8Z" fill="#c4c81c"/><path d="M709.8,379.4 L714.2,379.4 L712.0,383.2Z" fill="#c4c81c"/><path d="M713.8,383.1 L718.2,383.1 L716.0,386.9Z" fill="#c4c81c"/><path d="M717.8,385.9 L722.2,385.9 L720.0,389.7Z" fill="#c4c81c"/><path d="M721.8,388.2 L726.2,388.2 L724.0,392.0Z" fill="#c4c81c"/><path d="M725.8,389.8 L730.2,389.8 L728.0,393.6Z" fill="#c4c81c"/><path d="M729.8,391.0 L734.2,391.0 L732.0,394.8Z" fill="#c4c81c"/><path d="M733.8,392.0 L738.2,392.0 L736.0,395.8Z" fill="#c4c81c"/><path d="M737.8,392.9 L742.2,392.9 L740.0,396.7Z" fill="#c4c81c"/><path d="M741.8,393.9 L746.2,393.9 L744.0,397.7Z" fill="#c4c81c"/></g>
<g clip-path="url(#cf)"><path d="M545.7,400.7 L558.0,400.7 L575.7,400.6 L596.4,400.5 L617.4,400.3 L636.4,400.1 L650.7,399.9 L660.1,399.5 L666.5,399.1 L670.8,398.6 L673.8,398.1 L676.6,397.5 L679.9,396.9 L683.6,396.3 L686.9,395.5 L689.8,394.8 L692.5,394.0 L695.0,393.2 L697.4,392.6 L699.5,392.0 L701.2,391.3 L702.8,390.7 L704.3,390.2 L705.8,389.9 L707.6,389.7 L709.5,389.6 L711.4,389.7 L713.4,389.8 L715.5,390.1 L717.9,390.6 L720.8,391.1 L724.3,391.9 L728.6,393.0 L733.2,394.1 L737.7,395.3 L741.4,396.3 L744.1,396.9" fill="none" stroke="#1e8c1e" stroke-width="1.3"/><path d="M545.5,402.1 L549.3,402.1 L547.4,398.5Z" fill="#1e8c1e"/><path d="M548.9,402.1 L552.7,402.1 L550.8,398.5Z" fill="#1e8c1e"/><path d="M552.3,402.1 L556.1,402.1 L554.2,398.5Z" fill="#1e8c1e"/><path d="M555.7,402.1 L559.5,402.1 L557.6,398.5Z" fill="#1e8c1e"/><path d="M559.1,402.1 L562.9,402.1 L561.0,398.5Z" fill="#1e8c1e"/><path d="M562.5,402.0 L566.3,402.0 L564.4,398.4Z" fill="#1e8c1e"/><path d="M565.9,402.0 L569.7,402.0 L567.8,398.4Z" fill="#1e8c1e"/><path d="M569.3,402.0 L573.1,402.0 L571.2,398.4Z" fill="#1e8c1e"/><path d="M572.7,402.0 L576.5,402.0 L574.6,398.4Z" fill="#1e8c1e"/><path d="M576.1,402.0 L579.9,402.0 L578.0,398.4Z" fill="#1e8c1e"/><path d="M579.5,402.0 L583.3,402.0 L581.4,398.4Z" fill="#1e8c1e"/><path d="M582.9,401.9 L586.7,401.9 L584.8,398.3Z" fill="#1e8c1e"/><path d="M586.3,401.9 L590.1,401.9 L588.2,398.3Z" fill="#1e8c1e"/><path d="M589.7,401.9 L593.5,401.9 L591.6,398.3Z" fill="#1e8c1e"/><path d="M593.1,401.9 L596.9,401.9 L595.0,398.3Z" fill="#1e8c1e"/><path d="M596.5,401.9 L600.3,401.9 L598.4,398.3Z" fill="#1e8c1e"/><path d="M599.9,401.9 L603.7,401.9 L601.8,398.3Z" fill="#1e8c1e"/><path d="M603.3,401.8 L607.1,401.8 L605.2,398.2Z" fill="#1e8c1e"/><path d="M606.7,401.8 L610.5,401.8 L608.6,398.2Z" fill="#1e8c1e"/><path d="M610.1,401.8 L613.9,401.8 L612.0,398.2Z" fill="#1e8c1e"/><path d="M613.5,401.8 L617.3,401.8 L615.4,398.2Z" fill="#1e8c1e"/><path d="M616.9,401.7 L620.7,401.7 L618.8,398.1Z" fill="#1e8c1e"/><path d="M620.3,401.7 L624.1,401.7 L622.2,398.1Z" fill="#1e8c1e"/><path d="M623.7,401.7 L627.5,401.7 L625.6,398.1Z" fill="#1e8c1e"/><path d="M627.1,401.6 L630.9,401.6 L629.0,398.0Z" fill="#1e8c1e"/><path d="M630.5,401.6 L634.3,401.6 L632.4,398.0Z" fill="#1e8c1e"/><path d="M633.9,401.5 L637.7,401.5 L635.8,397.9Z" fill="#1e8c1e"/><path d="M637.3,401.5 L641.1,401.5 L639.2,397.9Z" fill="#1e8c1e"/><path d="M640.7,401.4 L644.5,401.4 L642.6,397.8Z" fill="#1e8c1e"/><path d="M644.1,401.4 L647.9,401.4 L646.0,397.8Z" fill="#1e8c1e"/><path d="M647.5,401.3 L651.3,401.3 L649.4,397.7Z" fill="#1e8c1e"/><path d="M650.9,401.2 L654.7,401.2 L652.8,397.6Z" fill="#1e8c1e"/><path d="M654.3,401.1 L658.1,401.1 L656.2,397.5Z" fill="#1e8c1e"/><path d="M657.7,400.9 L661.5,400.9 L659.6,397.3Z" fill="#1e8c1e"/><path d="M661.1,400.7 L664.9,400.7 L663.0,397.1Z" fill="#1e8c1e"/><path d="M664.5,400.5 L668.3,400.5 L666.4,396.9Z" fill="#1e8c1e"/><path d="M667.9,400.1 L671.7,400.1 L669.8,396.5Z" fill="#1e8c1e"/><path d="M671.3,399.6 L675.1,399.6 L673.2,396.0Z" fill="#1e8c1e"/><path d="M674.7,398.9 L678.5,398.9 L676.6,395.3Z" fill="#1e8c1e"/><path d="M678.1,398.3 L681.9,398.3 L680.0,394.7Z" fill="#1e8c1e"/><path d="M681.5,397.7 L685.3,397.7 L683.4,394.1Z" fill="#1e8c1e"/><path d="M684.9,397.0 L688.7,397.0 L686.8,393.4Z" fill="#1e8c1e"/><path d="M688.3,396.1 L692.1,396.1 L690.2,392.5Z" fill="#1e8c1e"/><path d="M691.7,395.1 L695.5,395.1 L693.6,391.5Z" fill="#1e8c1e"/><path d="M695.1,394.1 L698.9,394.1 L697.0,390.5Z" fill="#1e8c1e"/><path d="M698.5,393.0 L702.3,393.0 L700.4,389.4Z" fill="#1e8c1e"/><path d="M701.9,391.8 L705.7,391.8 L703.8,388.2Z" fill="#1e8c1e"/><path d="M705.3,391.1 L709.1,391.1 L707.2,387.5Z" fill="#1e8c1e"/><path d="M708.7,391.0 L712.5,391.0 L710.6,387.4Z" fill="#1e8c1e"/><path d="M712.1,391.3 L715.9,391.3 L714.0,387.7Z" fill="#1e8c1e"/><path d="M715.5,391.9 L719.3,391.9 L717.4,388.3Z" fill="#1e8c1e"/><path d="M718.9,392.5 L722.7,392.5 L720.8,388.9Z" fill="#1e8c1e"/><path d="M722.3,393.3 L726.1,393.3 L724.2,389.7Z" fill="#1e8c1e"/><path d="M725.7,394.1 L729.5,394.1 L727.6,390.5Z" fill="#1e8c1e"/><path d="M729.1,395.0 L732.9,395.0 L731.0,391.4Z" fill="#1e8c1e"/><path d="M732.5,395.8 L736.3,395.8 L734.4,392.2Z" fill="#1e8c1e"/><path d="M735.9,396.7 L739.7,396.7 L737.8,393.1Z" fill="#1e8c1e"/><path d="M739.3,397.6 L743.1,397.6 L741.2,394.0Z" fill="#1e8c1e"/></g>
<line x1="545.1" y1="260.4" x2="557.3" y2="260.4" stroke="#7a0a0a" stroke-width="1.8"/><circle cx="551.2" cy="260.4" r="2" fill="#7a0a0a"/>
<text x="575.7" y="263.9" font-family="Liberation Serif" font-weight="bold" font-size="10.7">Experimental</text>
<line x1="545.1" y1="273.8" x2="557.3" y2="273.8" stroke="#ff8a14" stroke-width="1.8" stroke-dasharray="2 2"/><circle cx="551.2" cy="273.8" r="2" fill="#ff8a14"/>
<text x="575.7" y="277.3" font-family="Liberation Serif" font-weight="bold" font-size="10.7">M-O (71.21%)</text>
<line x1="545.1" y1="289.6" x2="557.3" y2="289.6" stroke="#c4c81c" stroke-width="1.8"/><path d="M549.2,288.6 L553.2,288.6 L551.2,292.1Z" fill="#c4c81c"/>
<text x="575.7" y="293.1" font-family="Liberation Serif" font-weight="bold" font-size="10.7">V<tspan font-size="7.703999999999999" dy="4">O</tspan><tspan dy="-4" x="592.5">(23.38%)</tspan></text>
<line x1="545.1" y1="306.5" x2="557.3" y2="306.5" stroke="#1e8c1e" stroke-width="1.8"/><path d="M549.2,307.5 L553.2,307.5 L551.2,304.0Z" fill="#1e8c1e"/>
<text x="575.7" y="310.0" font-family="Liberation Serif" font-weight="bold" font-size="10.7">-OH (5.41%)</text>
<text x="3.5" y="481" font-family="Liberation Serif" font-weight="bold" font-size="32" text-anchor="start" >(g)</text>
<rect x="71.7" y="573.5" width="8.2" height="84.4" fill="#700505"/>
<rect x="80.1" y="606.5" width="8.2" height="51.4" fill="url(#hatchD)" stroke="#111" stroke-width="0.6"/>
<rect x="97.0" y="567.0" width="8.2" height="90.9" fill="#ff8208"/>
<rect x="105.2" y="613.3" width="8.2" height="44.6" fill="url(#hatchL)" stroke="#111" stroke-width="0.6"/>
<rect x="130.2" y="579.4" width="8.2" height="78.5" fill="#700505"/>
<rect x="138.6" y="601.1" width="8.2" height="56.8" fill="url(#hatchD)" stroke="#111" stroke-width="0.6"/>
<rect x="155.5" y="563.6" width="8.2" height="94.3" fill="#ff8208"/>
<rect x="163.7" y="616.9" width="8.2" height="41.0" fill="url(#hatchL)" stroke="#111" stroke-width="0.6"/>
<rect x="189.0" y="576.7" width="8.2" height="81.2" fill="#700505"/>
<rect x="197.4" y="603.8" width="8.2" height="54.1" fill="url(#hatchD)" stroke="#111" stroke-width="0.6"/>
<rect x="214.3" y="561.6" width="8.2" height="96.3" fill="#ff8208"/>
<rect x="222.5" y="619.2" width="8.2" height="38.7" fill="url(#hatchL)" stroke="#111" stroke-width="0.6"/>
<path d="M53.8,495.6 H253 V657.9" fill="none" stroke="#000" stroke-width="2.2"/>
<line x1="53.8" y1="495" x2="53.8" y2="659.1999999999999" stroke="#000" stroke-width="2.6"/>
<line x1="52.5" y1="657.9" x2="254.2" y2="657.9" stroke="#000" stroke-width="2.6"/>
<line x1="48.5" y1="657.9" x2="53.8" y2="657.9" stroke="#000" stroke-width="2"/>
<text x="43.5" y="661.9" font-family="Liberation Serif" font-weight="bold" font-size="12" text-anchor="end" >0</text>
<line x1="48.5" y1="630.8" x2="53.8" y2="630.8" stroke="#000" stroke-width="2"/>
<text x="43.5" y="634.8" font-family="Liberation Serif" font-weight="bold" font-size="12" text-anchor="end" >20</text>
<line x1="48.5" y1="603.8" x2="53.8" y2="603.8" stroke="#000" stroke-width="2"/>
<text x="43.5" y="607.8" font-family="Liberation Serif" font-weight="bold" font-size="12" text-anchor="end" >40</text>
<line x1="48.5" y1="576.7" x2="53.8" y2="576.7" stroke="#000" stroke-width="2"/>
<text x="43.5" y="580.7" font-family="Liberation Serif" font-weight="bold" font-size="12" text-anchor="end" >60</text>
<line x1="48.5" y1="549.7" x2="53.8" y2="549.7" stroke="#000" stroke-width="2"/>
<text x="43.5" y="553.7" font-family="Liberation Serif" font-weight="bold" font-size="12" text-anchor="end" >80</text>
<line x1="48.5" y1="522.6" x2="53.8" y2="522.6" stroke="#000" stroke-width="2"/>
<text x="43.5" y="526.6" font-family="Liberation Serif" font-weight="bold" font-size="12" text-anchor="end" >100</text>
<line x1="48.5" y1="495.5" x2="53.8" y2="495.5" stroke="#000" stroke-width="2"/>
<text x="43.5" y="499.5" font-family="Liberation Serif" font-weight="bold" font-size="12" text-anchor="end" >120</text>
<text transform="translate(25,584.5) rotate(-90)" font-family="Liberation Serif" font-weight="bold" font-size="14.4" text-anchor="middle">Percentage (%)</text>
<rect x="58.5" y="502.0" width="23.7" height="5.2" fill="#750a0a" stroke="#750a0a" stroke-width="0.6"/>
<text x="87.6" y="508.4" font-family="Liberation Serif" font-weight="bold" font-size="10.5" text-anchor="start" >M-O (WO AA)</text>
<rect x="58.5" y="514.8" width="23.7" height="5.2" fill="#ff8010" stroke="#ff8010" stroke-width="0.6"/>
<text x="87.6" y="521.2" font-family="Liberation Serif" font-weight="bold" font-size="10.5" text-anchor="start" >M-O (W AA)</text>
<rect x="58.5" y="527.6" width="23.7" height="5.2" fill="#0f3a0f" stroke="#0f3a0f" stroke-width="0.6"/>
<text x="87.6" y="534.0" font-family="Liberation Serif" font-weight="bold" font-size="10.5" text-anchor="start" >Vo+ -OH (WO AA)</text>
<rect x="58.5" y="540.1999999999999" width="23.7" height="5.2" fill="#22dd22" stroke="#22dd22" stroke-width="0.6"/>
<text x="87.6" y="546.6" font-family="Liberation Serif" font-weight="bold" font-size="10.5" text-anchor="start" >Vo+ -OH (W AA)</text>
<rect x="66.5" y="660.6" width="50.0" height="16.4" fill="none" stroke="#b05050" stroke-width="1"/>
<rect x="126.3" y="660.6" width="50.89999999999999" height="16.4" fill="none" stroke="#60b060" stroke-width="1"/>
<rect x="186.8" y="660.6" width="56.69999999999999" height="16.4" fill="none" stroke="#6868c8" stroke-width="1"/>
<text x="92" y="671.5" font-family="Liberation Serif" font-weight="bold" font-size="13.8" text-anchor="middle" >Surface</text>
<text x="153.6" y="672" font-family="Liberation Serif" font-weight="bold" font-size="13.5" text-anchor="middle" >Bulk</text>
<text x="215.7" y="670.4" font-family="Liberation Serif" font-weight="bold" font-size="14.3" text-anchor="middle" >Interface</text>
<text x="256" y="481" font-family="Liberation Serif" font-weight="bold" font-size="31" text-anchor="start" >(h)</text>
<rect x="268.6" y="502.4" width="233.0" height="157.80000000000007" fill="#c6e7ed"/>
<path d="M269.6,659.2 V503.4 H500.6" fill="none" stroke="#eefafc" stroke-width="2.6"/>
<path d="M270.6,658.7 H500.1 V504.4" fill="none" stroke="#8fb2b8" stroke-width="3"/>
<rect x="268.6" y="502.4" width="233.0" height="157.80000000000007" fill="none" stroke="#5c7a80" stroke-width="1.3"/>
<circle cx="289.2" cy="518.1" r="12.7" fill="url(#gO)" stroke="#c88a00" stroke-width="0.5"/>
<text x="289.2" y="523.3000000000001" font-family="Liberation Serif" font-weight="bold" font-size="14.8" text-anchor="middle" fill="#111">O</text>
<circle cx="334.6" cy="515.8" r="12.7" fill="url(#gM)" stroke="#5a9a3a" stroke-width="0.5"/>
<text x="334.6" y="521.0" font-family="Liberation Serif" font-weight="bold" font-size="14.8" text-anchor="middle" fill="#111">M</text>
<circle cx="364.4" cy="516.4" r="12.7" fill="url(#gO)" stroke="#c88a00" stroke-width="0.5"/>
<text x="364.4" y="521.6" font-family="Liberation Serif" font-weight="bold" font-size="14.8" text-anchor="middle" fill="#111">O</text>
<circle cx="390.3" cy="520.4" r="12.7" fill="url(#gM)" stroke="#5a9a3a" stroke-width="0.5"/>
<text x="390.3" y="525.6" font-family="Liberation Serif" font-weight="bold" font-size="14.8" text-anchor="middle" fill="#111">M</text>
<circle cx="423.4" cy="516.4" r="12.7" fill="url(#gO)" stroke="#c88a00" stroke-width="0.5"/>
<text x="423.4" y="521.6" font-family="Liberation Serif" font-weight="bold" font-size="14.8" text-anchor="middle" fill="#111">O</text>
<circle cx="455.6" cy="517.4" r="12.7" fill="url(#gM)" stroke="#5a9a3a" stroke-width="0.5"/>
<text x="455.6" y="522.6" font-family="Liberation Serif" font-weight="bold" font-size="14.8" text-anchor="middle" fill="#111">M</text>
<circle cx="486.1" cy="528" r="12.7" fill="url(#gM)" stroke="#5a9a3a" stroke-width="0.5"/>
<text x="486.1" y="533.2" font-family="Liberation Serif" font-weight="bold" font-size="14.8" text-anchor="middle" fill="#111">M</text>
<circle cx="313" cy="533" r="12.7" fill="url(#gV)"/>
<text x="311.5" y="539" font-family="Liberation Serif" font-weight="bold" font-size="18" text-anchor="middle" fill="#fff">V<tspan font-size="10" dy="2">o</tspan></text>
<circle cx="348.8" cy="539" r="12.7" fill="url(#gM)" stroke="#5a9a3a" stroke-width="0.5"/>
<text x="348.8" y="544.2" font-family="Liberation Serif" font-weight="bold" font-size="14.8" text-anchor="middle" fill="#111">M</text>
<circle cx="380.3" cy="547.9" r="12.7" fill="url(#gV)"/>
<text x="378.8" y="553.9" font-family="Liberation Serif" font-weight="bold" font-size="18" text-anchor="middle" fill="#fff">V<tspan font-size="10" dy="2">o</tspan></text>
<circle cx="426.8" cy="543" r="12.7" fill="url(#gM)" stroke="#5a9a3a" stroke-width="0.5"/>
<text x="426.8" y="548.2" font-family="Liberation Serif" font-weight="bold" font-size="14.8" text-anchor="middle" fill="#111">M</text>
<circle cx="455" cy="546.9" r="12.7" fill="#18c078"/>
<circle cx="454.4" cy="548.1" r="11.7" fill="url(#gH)"/>
<text x="454.5" y="551.6999999999999" font-family="Liberation Serif" font-weight="bold" font-size="12.5" text-anchor="middle" fill="#fff" textLength="22.5" lengthAdjust="spacingAndGlyphs">-OH</text>
<circle cx="288.2" cy="547.9" r="12.7" fill="url(#gM)" stroke="#5a9a3a" stroke-width="0.5"/>
<text x="288.2" y="553.1" font-family="Liberation Serif" font-weight="bold" font-size="14.8" text-anchor="middle" fill="#111">M</text>
<circle cx="314.7" cy="559.5" r="12.7" fill="url(#gM)" stroke="#5a9a3a" stroke-width="0.5"/>
<text x="314.7" y="564.7" font-family="Liberation Serif" font-weight="bold" font-size="14.8" text-anchor="middle" fill="#111">M</text>
<circle cx="344.5" cy="566.2" r="12.7" fill="url(#gO)" stroke="#c88a00" stroke-width="0.5"/>
<text x="344.5" y="571.4000000000001" font-family="Liberation Serif" font-weight="bold" font-size="14.8" text-anchor="middle" fill="#111">O</text>
<circle cx="413.5" cy="566.2" r="12.7" fill="url(#gO)" stroke="#c88a00" stroke-width="0.5"/>
<text x="413.5" y="571.4000000000001" font-family="Liberation Serif" font-weight="bold" font-size="14.8" text-anchor="middle" fill="#111">O</text>
<circle cx="484.4" cy="553.9" r="12.7" fill="url(#gM)" stroke="#5a9a3a" stroke-width="0.5"/>
<text x="484.4" y="559.1" font-family="Liberation Serif" font-weight="bold" font-size="14.8" text-anchor="middle" fill="#111">M</text>
<circle cx="288.2" cy="582" r="12.7" fill="url(#gO)" stroke="#c88a00" stroke-width="0.5"/>
<text x="288.2" y="587.2" font-family="Liberation Serif" font-weight="bold" font-size="14.8" text-anchor="middle" fill="#111">O</text>
<circle cx="321.3" cy="586" r="12.7" fill="url(#gV)"/>
<text x="319.8" y="592" font-family="Liberation Serif" font-weight="bold" font-size="18" text-anchor="middle" fill="#fff">V<tspan font-size="10" dy="2">o</tspan></text>
<circle cx="374.4" cy="576.8" r="12.7" fill="url(#gO)" stroke="#c88a00" stroke-width="0.5"/>
<text x="374.4" y="582.0" font-family="Liberation Serif" font-weight="bold" font-size="14.8" text-anchor="middle" fill="#111">O</text>
<circle cx="349.5" cy="591" r="12.7" fill="url(#gM)" stroke="#5a9a3a" stroke-width="0.5"/>
<text x="349.5" y="596.2" font-family="Liberation Serif" font-weight="bold" font-size="14.8" text-anchor="middle" fill="#111">M</text>
<circle cx="396.6" cy="589.4" r="12.7" fill="url(#gM)" stroke="#5a9a3a" stroke-width="0.5"/>
<text x="396.6" y="594.6" font-family="Liberation Serif" font-weight="bold" font-size="14.8" text-anchor="middle" fill="#111">M</text>
<circle cx="430.7" cy="587.7" r="12.7" fill="url(#gV)"/>
<text x="429.2" y="593.7" font-family="Liberation Serif" font-weight="bold" font-size="18" text-anchor="middle" fill="#fff">V<tspan font-size="10" dy="2">o</tspan></text>
<circle cx="455" cy="575.4" r="12.7" fill="url(#gM)" stroke="#5a9a3a" stroke-width="0.5"/>
<text x="455" y="580.6" font-family="Liberation Serif" font-weight="bold" font-size="14.8" text-anchor="middle" fill="#111">M</text>
<circle cx="484.4" cy="587.7" r="12.7" fill="url(#gM)" stroke="#5a9a3a" stroke-width="0.5"/>
<text x="484.4" y="592.9000000000001" font-family="Liberation Serif" font-weight="bold" font-size="14.8" text-anchor="middle" fill="#111">M</text>
<circle cx="287.2" cy="613.6" r="12.7" fill="url(#gM)" stroke="#5a9a3a" stroke-width="0.5"/>
<text x="287.2" y="618.8000000000001" font-family="Liberation Serif" font-weight="bold" font-size="14.8" text-anchor="middle" fill="#111">M</text>
<circle cx="321.3" cy="613.2" r="12.7" fill="url(#gO)" stroke="#c88a00" stroke-width="0.5"/>
<text x="321.3" y="618.4000000000001" font-family="Liberation Serif" font-weight="bold" font-size="14.8" text-anchor="middle" fill="#111">O</text>
<circle cx="351.2" cy="617.5" r="12.7" fill="url(#gO)" stroke="#c88a00" stroke-width="0.5"/>
<text x="351.2" y="622.7" font-family="Liberation Serif" font-weight="bold" font-size="14.8" text-anchor="middle" fill="#111">O</text>
<circle cx="377.7" cy="610.9" r="12.7" fill="#18c078"/>
<circle cx="377.09999999999997" cy="612.1" r="11.7" fill="url(#gH)"/>
<text x="377.2" y="615.6999999999999" font-family="Liberation Serif" font-weight="bold" font-size="12.5" text-anchor="middle" fill="#fff" textLength="22.5" lengthAdjust="spacingAndGlyphs">-OH</text>
<circle cx="412.5" cy="615.9" r="12.7" fill="url(#gO)" stroke="#c88a00" stroke-width="0.5"/>
<text x="412.5" y="621.1" font-family="Liberation Serif" font-weight="bold" font-size="14.8" text-anchor="middle" fill="#111">O</text>
<circle cx="439" cy="616.6" r="12.7" fill="url(#gM)" stroke="#5a9a3a" stroke-width="0.5"/>
<text x="439" y="621.8000000000001" font-family="Liberation Serif" font-weight="bold" font-size="14.8" text-anchor="middle" fill="#111">M</text>
<circle cx="461.2" cy="604.3" r="12.7" fill="url(#gO)" stroke="#c88a00" stroke-width="0.5"/>
<text x="461.2" y="609.5" font-family="Liberation Serif" font-weight="bold" font-size="14.8" text-anchor="middle" fill="#111">O</text>
<circle cx="487.1" cy="617.5" r="12.7" fill="url(#gO)" stroke="#c88a00" stroke-width="0.5"/>
<text x="487.1" y="622.7" font-family="Liberation Serif" font-weight="bold" font-size="14.8" text-anchor="middle" fill="#111">O</text>
<circle cx="392.6" cy="630.8" r="12.7" fill="url(#gM)" stroke="#5a9a3a" stroke-width="0.5"/>
<text x="392.6" y="636.0" font-family="Liberation Serif" font-weight="bold" font-size="14.8" text-anchor="middle" fill="#111">M</text>
<circle cx="287.2" cy="642.4" r="12.7" fill="#18c078"/>
<circle cx="286.59999999999997" cy="643.6" r="11.7" fill="url(#gH)"/>
<text x="286.7" y="647.1999999999999" font-family="Liberation Serif" font-weight="bold" font-size="12.5" text-anchor="middle" fill="#fff" textLength="22.5" lengthAdjust="spacingAndGlyphs">-OH</text>
<circle cx="314.7" cy="639.1" r="12.7" fill="url(#gM)" stroke="#5a9a3a" stroke-width="0.5"/>
<text x="314.7" y="644.3000000000001" font-family="Liberation Serif" font-weight="bold" font-size="14.8" text-anchor="middle" fill="#111">M</text>
<circle cx="342.9" cy="645.7" r="12.7" fill="url(#gM)" stroke="#5a9a3a" stroke-width="0.5"/>
<text x="342.9" y="650.9000000000001" font-family="Liberation Serif" font-weight="bold" font-size="14.8" text-anchor="middle" fill="#111">M</text>
<circle cx="372" cy="649" r="12.7" fill="url(#gO)" stroke="#c88a00" stroke-width="0.5"/>
<text x="372" y="654.2" font-family="Liberation Serif" font-weight="bold" font-size="14.8" text-anchor="middle" fill="#111">O</text>
<circle cx="419.1" cy="643.1" r="12.7" fill="url(#gV)"/>
<text x="417.6" y="649.1" font-family="Liberation Serif" font-weight="bold" font-size="18" text-anchor="middle" fill="#fff">V<tspan font-size="10" dy="2">o</tspan></text>
<circle cx="448.3" cy="645.7" r="12.7" fill="url(#gM)" stroke="#5a9a3a" stroke-width="0.5"/>
<text x="448.3" y="650.9000000000001" font-family="Liberation Serif" font-weight="bold" font-size="14.8" text-anchor="middle" fill="#111">M</text>
<circle cx="477.1" cy="645.1" r="12.7" fill="url(#gV)"/>
<text x="475.6" y="651.1" font-family="Liberation Serif" font-weight="bold" font-size="18" text-anchor="middle" fill="#fff">V<tspan font-size="10" dy="2">o</tspan></text>
<text x="509" y="481" font-family="Liberation Serif" font-weight="bold" font-size="31" text-anchor="start" >(i)</text>
<rect x="519.2" y="502.6" width="233.19999999999993" height="158.0" fill="#c6e7ed"/>
<path d="M520.2,659.6 V503.6 H751.4" fill="none" stroke="#eefafc" stroke-width="2.6"/>
<path d="M521.2,659.1 H750.9 V504.6" fill="none" stroke="#8fb2b8" stroke-width="3"/>
<rect x="519.2" y="502.6" width="233.19999999999993" height="158.0" fill="none" stroke="#5c7a80" stroke-width="1.3"/>
<circle cx="533.2" cy="515.8" r="12.7" fill="url(#gO)" stroke="#c88a00" stroke-width="0.5"/>
<text x="533.2" y="521.0" font-family="Liberation Serif" font-weight="bold" font-size="14.8" text-anchor="middle" fill="#111">O</text>
<circle cx="558.7" cy="523.7" r="12.7" fill="url(#gV)"/>
<text x="557.2" y="529.7" font-family="Liberation Serif" font-weight="bold" font-size="18" text-anchor="middle" fill="#fff">V<tspan font-size="10" dy="2">o</tspan></text>
<circle cx="585.2" cy="515.8" r="12.7" fill="url(#gM)" stroke="#5a9a3a" stroke-width="0.5"/>
<text x="585.2" y="521.0" font-family="Liberation Serif" font-weight="bold" font-size="14.8" text-anchor="middle" fill="#111">M</text>
<circle cx="615.1" cy="516.4" r="12.7" fill="url(#gO)" stroke="#c88a00" stroke-width="0.5"/>
<text x="615.1" y="521.6" font-family="Liberation Serif" font-weight="bold" font-size="14.8" text-anchor="middle" fill="#111">O</text>
<circle cx="640.6" cy="515.8" r="12.7" fill="url(#gM)" stroke="#5a9a3a" stroke-width="0.5"/>
<text x="640.6" y="521.0" font-family="Liberation Serif" font-weight="bold" font-size="14.8" text-anchor="middle" fill="#111">M</text>
<circle cx="674.8" cy="515.4" r="12.7" fill="url(#gO)" stroke="#c88a00" stroke-width="0.5"/>
<text x="674.8" y="520.6" font-family="Liberation Serif" font-weight="bold" font-size="14.8" text-anchor="middle" fill="#111">O</text>
<circle cx="705.3" cy="516.4" r="12.7" fill="url(#gM)" stroke="#5a9a3a" stroke-width="0.5"/>
<text x="705.3" y="521.6" font-family="Liberation Serif" font-weight="bold" font-size="14.8" text-anchor="middle" fill="#111">M</text>
<circle cx="735.1" cy="518.1" r="12.7" fill="#18c078"/>
<circle cx="734.5" cy="519.3000000000001" r="11.7" fill="url(#gH)"/>
<text x="734.6" y="522.9" font-family="Liberation Serif" font-weight="bold" font-size="12.5" text-anchor="middle" fill="#fff" textLength="22.5" lengthAdjust="spacingAndGlyphs">-OH</text>
<circle cx="536.2" cy="542" r="12.7" fill="url(#gM)" stroke="#5a9a3a" stroke-width="0.5"/>
<text x="536.2" y="547.2" font-family="Liberation Serif" font-weight="bold" font-size="14.8" text-anchor="middle" fill="#111">M</text>
<circle cx="571" cy="547.9" r="12.7" fill="url(#gM)" stroke="#5a9a3a" stroke-width="0.5"/>
<text x="571" y="553.1" font-family="Liberation Serif" font-weight="bold" font-size="14.8" text-anchor="middle" fill="#111">M</text>
<circle cx="599.2" cy="539" r="12.7" fill="url(#gM)" stroke="#5a9a3a" stroke-width="0.5"/>
<text x="599.2" y="544.2" font-family="Liberation Serif" font-weight="bold" font-size="14.8" text-anchor="middle" fill="#111">M</text>
<circle cx="627.3" cy="547.9" r="12.7" fill="url(#gV)"/>
<text x="625.8" y="553.9" font-family="Liberation Serif" font-weight="bold" font-size="18" text-anchor="middle" fill="#fff">V<tspan font-size="10" dy="2">o</tspan></text>
<circle cx="654.9" cy="544.6" r="12.7" fill="url(#gM)" stroke="#5a9a3a" stroke-width="0.5"/>
<text x="654.9" y="549.8000000000001" font-family="Liberation Serif" font-weight="bold" font-size="14.8" text-anchor="middle" fill="#111">M</text>
<circle cx="682" cy="547.9" r="12.7" fill="url(#gM)" stroke="#5a9a3a" stroke-width="0.5"/>
<text x="682" y="553.1" font-family="Liberation Serif" font-weight="bold" font-size="14.8" text-anchor="middle" fill="#111">M</text>
<circle cx="707.9" cy="543" r="12.7" fill="url(#gO)" stroke="#c88a00" stroke-width="0.5"/>
<text x="707.9" y="548.2" font-family="Liberation Serif" font-weight="bold" font-size="14.8" text-anchor="middle" fill="#111">O</text>
<circle cx="734.4" cy="544.6" r="12.7" fill="url(#gM)" stroke="#5a9a3a" stroke-width="0.5"/>
<text x="734.4" y="549.8000000000001" font-family="Liberation Serif" font-weight="bold" font-size="14.8" text-anchor="middle" fill="#111">M</text>
<circle cx="549.8" cy="567.1" r="12.7" fill="url(#gO)" stroke="#c88a00" stroke-width="0.5"/>
<text x="549.8" y="572.3000000000001" font-family="Liberation Serif" font-weight="bold" font-size="14.8" text-anchor="middle" fill="#111">O</text>
<circle cx="596.2" cy="566.2" r="12.7" fill="url(#gO)" stroke="#c88a00" stroke-width="0.5"/>
<text x="596.2" y="571.4000000000001" font-family="Liberation Serif" font-weight="bold" font-size="14.8" text-anchor="middle" fill="#111">O</text>
<circle cx="573.6" cy="579.4" r="12.7" fill="url(#gM)" stroke="#5a9a3a" stroke-width="0.5"/>
<text x="573.6" y="584.6" font-family="Liberation Serif" font-weight="bold" font-size="14.8" text-anchor="middle" fill="#111">M</text>
<circle cx="621.7" cy="572.8" r="12.7" fill="url(#gO)" stroke="#c88a00" stroke-width="0.5"/>
<text x="621.7" y="578.0" font-family="Liberation Serif" font-weight="bold" font-size="14.8" text-anchor="middle" fill="#111">O</text>
<circle cx="648.2" cy="575.4" r="12.7" fill="url(#gM)" stroke="#5a9a3a" stroke-width="0.5"/>
<text x="648.2" y="580.6" font-family="Liberation Serif" font-weight="bold" font-size="14.8" text-anchor="middle" fill="#111">M</text>
<circle cx="676.4" cy="573.4" r="12.7" fill="url(#gO)" stroke="#c88a00" stroke-width="0.5"/>
<text x="676.4" y="578.6" font-family="Liberation Serif" font-weight="bold" font-size="14.8" text-anchor="middle" fill="#111">O</text>
<circle cx="711.9" cy="571.1" r="12.7" fill="url(#gM)" stroke="#5a9a3a" stroke-width="0.5"/>
<text x="711.9" y="576.3000000000001" font-family="Liberation Serif" font-weight="bold" font-size="14.8" text-anchor="middle" fill="#111">M</text>
<circle cx="739.4" cy="570.1" r="12.7" fill="url(#gM)" stroke="#5a9a3a" stroke-width="0.5"/>
<text x="739.4" y="575.3000000000001" font-family="Liberation Serif" font-weight="bold" font-size="14.8" text-anchor="middle" fill="#111">M</text>
<circle cx="533.2" cy="586" r="12.7" fill="url(#gM)" stroke="#5a9a3a" stroke-width="0.5"/>
<text x="533.2" y="591.2" font-family="Liberation Serif" font-weight="bold" font-size="14.8" text-anchor="middle" fill="#111">M</text>
<circle cx="560.4" cy="599.3" r="12.7" fill="url(#gO)" stroke="#c88a00" stroke-width="0.5"/>
<text x="560.4" y="604.5" font-family="Liberation Serif" font-weight="bold" font-size="14.8" text-anchor="middle" fill="#111">O</text>
<circle cx="600.2" cy="591" r="12.7" fill="url(#gM)" stroke="#5a9a3a" stroke-width="0.5"/>
<text x="600.2" y="596.2" font-family="Liberation Serif" font-weight="bold" font-size="14.8" text-anchor="middle" fill="#111">M</text>
<circle cx="625" cy="602.6" r="12.7" fill="#18c078"/>
<circle cx="624.4" cy="603.8000000000001" r="11.7" fill="url(#gH)"/>
<text x="624.5" y="607.4" font-family="Liberation Serif" font-weight="bold" font-size="12.5" text-anchor="middle" fill="#fff" textLength="22.5" lengthAdjust="spacingAndGlyphs">-OH</text>
<circle cx="659.2" cy="599.3" r="12.7" fill="url(#gO)" stroke="#c88a00" stroke-width="0.5"/>
<text x="659.2" y="604.5" font-family="Liberation Serif" font-weight="bold" font-size="14.8" text-anchor="middle" fill="#111">O</text>
<circle cx="698.6" cy="594.3" r="12.7" fill="url(#gM)" stroke="#5a9a3a" stroke-width="0.5"/>
<text x="698.6" y="599.5" font-family="Liberation Serif" font-weight="bold" font-size="14.8" text-anchor="middle" fill="#111">M</text>
<circle cx="726.2" cy="594.3" r="12.7" fill="url(#gO)" stroke="#c88a00" stroke-width="0.5"/>
<text x="726.2" y="599.5" font-family="Liberation Serif" font-weight="bold" font-size="14.8" text-anchor="middle" fill="#111">O</text>
<circle cx="533.2" cy="614.2" r="12.7" fill="url(#gO)" stroke="#c88a00" stroke-width="0.5"/>
<text x="533.2" y="619.4000000000001" font-family="Liberation Serif" font-weight="bold" font-size="14.8" text-anchor="middle" fill="#111">O</text>
<circle cx="557" cy="624.8" r="12.7" fill="url(#gM)" stroke="#5a9a3a" stroke-width="0.5"/>
<text x="557" y="630.0" font-family="Liberation Serif" font-weight="bold" font-size="14.8" text-anchor="middle" fill="#111">M</text>
<circle cx="581.9" cy="619.2" r="12.7" fill="url(#gM)" stroke="#5a9a3a" stroke-width="0.5"/>
<text x="581.9" y="624.4000000000001" font-family="Liberation Serif" font-weight="bold" font-size="14.8" text-anchor="middle" fill="#111">M</text>
<circle cx="607.8" cy="623.2" r="12.7" fill="url(#gO)" stroke="#c88a00" stroke-width="0.5"/>
<text x="607.8" y="628.4000000000001" font-family="Liberation Serif" font-weight="bold" font-size="14.8" text-anchor="middle" fill="#111">O</text>
<circle cx="643.3" cy="620.2" r="12.7" fill="url(#gM)" stroke="#5a9a3a" stroke-width="0.5"/>
<text x="643.3" y="625.4000000000001" font-family="Liberation Serif" font-weight="bold" font-size="14.8" text-anchor="middle" fill="#111">M</text>
<circle cx="684.7" cy="615.9" r="12.7" fill="url(#gM)" stroke="#5a9a3a" stroke-width="0.5"/>
<text x="684.7" y="621.1" font-family="Liberation Serif" font-weight="bold" font-size="14.8" text-anchor="middle" fill="#111">M</text>
<circle cx="711.2" cy="618.2" r="12.7" fill="url(#gO)" stroke="#c88a00" stroke-width="0.5"/>
<text x="711.2" y="623.4000000000001" font-family="Liberation Serif" font-weight="bold" font-size="14.8" text-anchor="middle" fill="#111">O</text>
<circle cx="737.8" cy="619.2" r="12.7" fill="url(#gO)" stroke="#c88a00" stroke-width="0.5"/>
<text x="737.8" y="624.4000000000001" font-family="Liberation Serif" font-weight="bold" font-size="14.8" text-anchor="middle" fill="#111">O</text>
<circle cx="535.5" cy="640.8" r="12.7" fill="url(#gM)" stroke="#5a9a3a" stroke-width="0.5"/>
<text x="535.5" y="646.0" font-family="Liberation Serif" font-weight="bold" font-size="14.8" text-anchor="middle" fill="#111">M</text>
<circle cx="565.3" cy="649" r="12.7" fill="url(#gO)" stroke="#c88a00" stroke-width="0.5"/>
<text x="565.3" y="654.2" font-family="Liberation Serif" font-weight="bold" font-size="14.8" text-anchor="middle" fill="#111">O</text>
<circle cx="593.5" cy="647.4" r="12.7" fill="url(#gM)" stroke="#5a9a3a" stroke-width="0.5"/>
<text x="593.5" y="652.6" font-family="Liberation Serif" font-weight="bold" font-size="14.8" text-anchor="middle" fill="#111">M</text>
<circle cx="626.7" cy="644.7" r="12.7" fill="url(#gM)" stroke="#5a9a3a" stroke-width="0.5"/>
<text x="626.7" y="649.9000000000001" font-family="Liberation Serif" font-weight="bold" font-size="14.8" text-anchor="middle" fill="#111">M</text>
<circle cx="655.9" cy="644.1" r="12.7" fill="url(#gO)" stroke="#c88a00" stroke-width="0.5"/>
<text x="655.9" y="649.3000000000001" font-family="Liberation Serif" font-weight="bold" font-size="14.8" text-anchor="middle" fill="#111">O</text>
<circle cx="684" cy="643.1" r="12.7" fill="url(#gV)"/>
<text x="682.5" y="649.1" font-family="Liberation Serif" font-weight="bold" font-size="18" text-anchor="middle" fill="#fff">V<tspan font-size="10" dy="2">o</tspan></text>
<circle cx="711.2" cy="643.1" r="12.7" fill="url(#gM)" stroke="#5a9a3a" stroke-width="0.5"/>
<text x="711.2" y="648.3000000000001" font-family="Liberation Serif" font-weight="bold" font-size="14.8" text-anchor="middle" fill="#111">M</text>
<circle cx="737.8" cy="644.1" r="12.7" fill="url(#gM)" stroke="#5a9a3a" stroke-width="0.5"/>
<text x="737.8" y="649.3000000000001" font-family="Liberation Serif" font-weight="bold" font-size="14.8" text-anchor="middle" fill="#111">M</text>
</svg></body></html>
